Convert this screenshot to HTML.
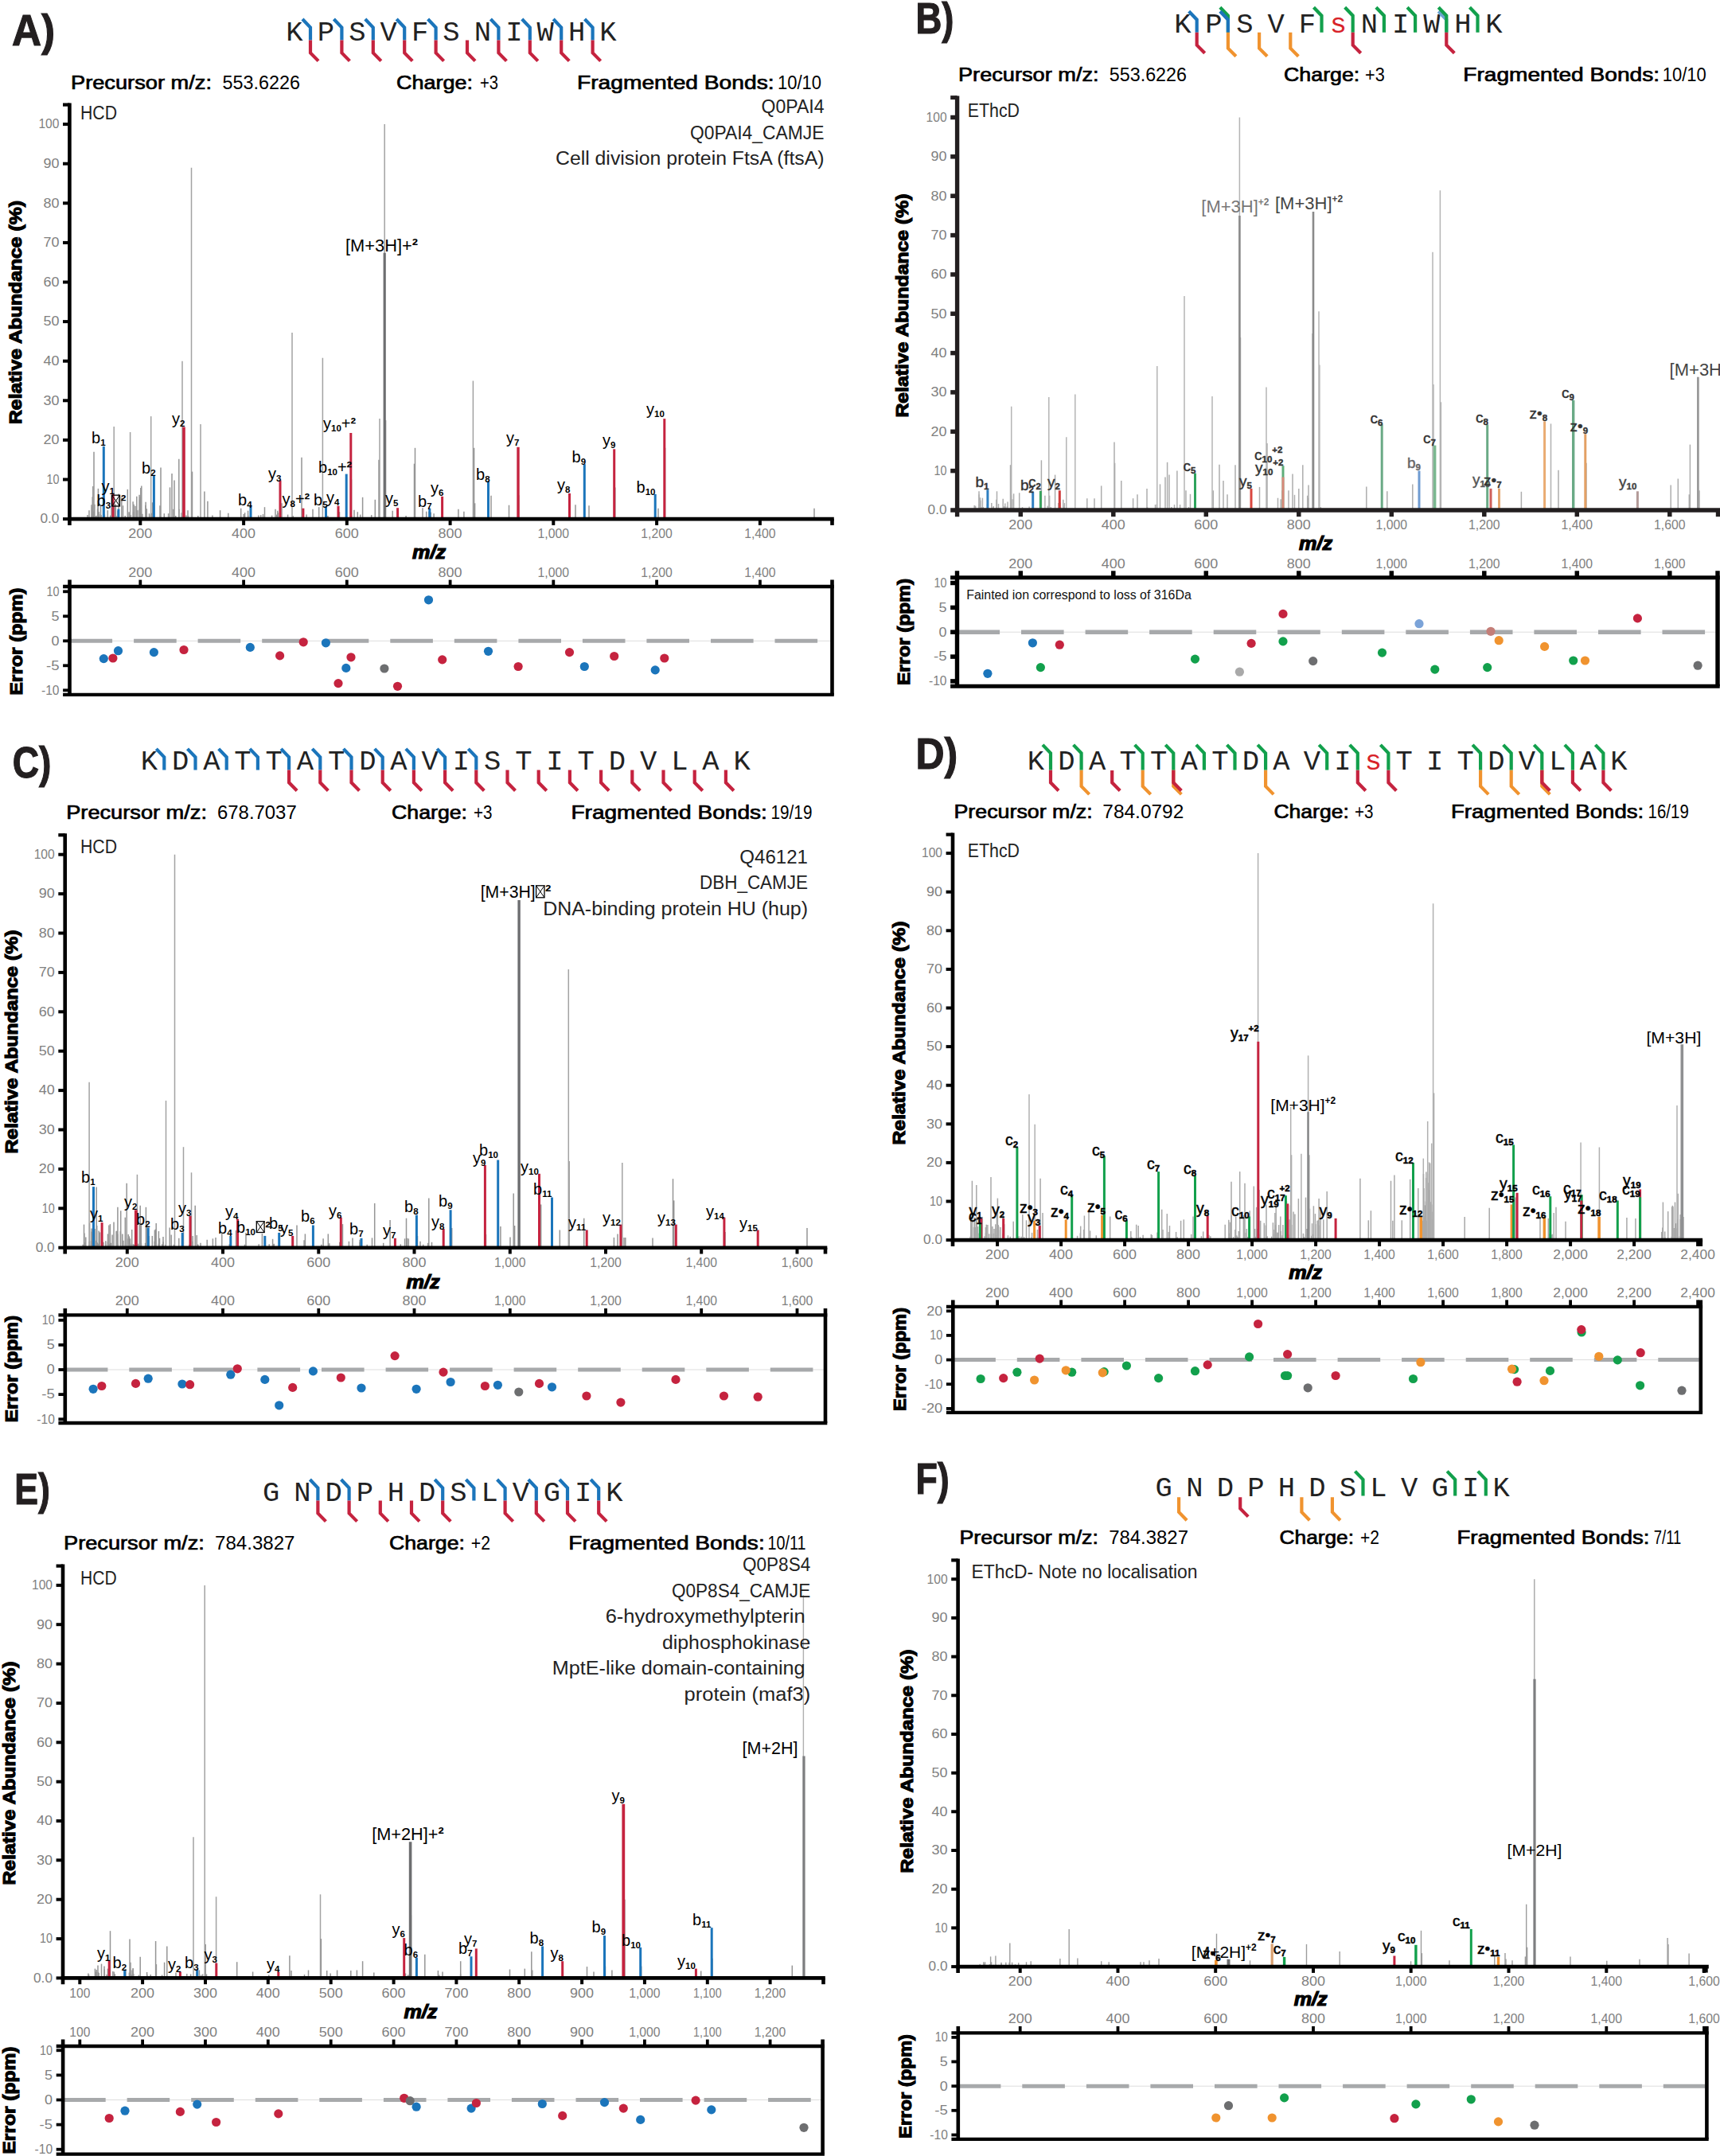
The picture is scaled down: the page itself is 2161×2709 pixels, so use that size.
<!DOCTYPE html><html><head><meta charset="utf-8"><title>Spectra</title><style>html,body{margin:0;padding:0;background:#fff}svg{display:block}text{font-family:"Liberation Sans",sans-serif}.mono{font-family:"Liberation Mono",monospace}</style></head><body><svg width="2161" height="2709" viewBox="0 0 2161 2709"><rect width="2161" height="2709" fill="#fff"/><text x="15" y="56.5" font-size="55" fill="#231f20" font-weight="bold" textLength="54" lengthAdjust="spacingAndGlyphs" stroke="#231f20" stroke-width="1.2">A)</text>
<text class="mono" x="370 409.4 448.8 488.2 527.6 567 606.4 645.8 685.2 724.6 764" y="50.5" font-size="35.5" fill="#222" text-anchor="middle">KPSVFSNIWHK</text>
<polyline points="380,24 390,34.5 390,50.6" fill="none" stroke="#1b75bb" stroke-width="4.2" stroke-linejoin="miter"/>
<polyline points="390,50.6 390,66.4 400,76.6" fill="none" stroke="#c5233f" stroke-width="4.2" stroke-linejoin="miter"/>
<polyline points="419.4,24 429.4,34.5 429.4,50.6" fill="none" stroke="#1b75bb" stroke-width="4.2" stroke-linejoin="miter"/>
<polyline points="429.4,50.6 429.4,66.4 439.4,76.6" fill="none" stroke="#c5233f" stroke-width="4.2" stroke-linejoin="miter"/>
<polyline points="458.8,24 468.8,34.5 468.8,50.6" fill="none" stroke="#1b75bb" stroke-width="4.2" stroke-linejoin="miter"/>
<polyline points="468.8,50.6 468.8,66.4 478.8,76.6" fill="none" stroke="#c5233f" stroke-width="4.2" stroke-linejoin="miter"/>
<polyline points="498.2,24 508.2,34.5 508.2,50.6" fill="none" stroke="#1b75bb" stroke-width="4.2" stroke-linejoin="miter"/>
<polyline points="508.2,50.6 508.2,66.4 518.2,76.6" fill="none" stroke="#c5233f" stroke-width="4.2" stroke-linejoin="miter"/>
<polyline points="537.6,24 547.6,34.5 547.6,50.6" fill="none" stroke="#1b75bb" stroke-width="4.2" stroke-linejoin="miter"/>
<polyline points="547.6,50.6 547.6,66.4 557.6,76.6" fill="none" stroke="#c5233f" stroke-width="4.2" stroke-linejoin="miter"/>
<polyline points="587,50.6 587,66.4 597,76.6" fill="none" stroke="#c5233f" stroke-width="4.2" stroke-linejoin="miter"/>
<polyline points="616.4,24 626.4,34.5 626.4,50.6" fill="none" stroke="#1b75bb" stroke-width="4.2" stroke-linejoin="miter"/>
<polyline points="626.4,50.6 626.4,66.4 636.4,76.6" fill="none" stroke="#c5233f" stroke-width="4.2" stroke-linejoin="miter"/>
<polyline points="655.8,24 665.8,34.5 665.8,50.6" fill="none" stroke="#1b75bb" stroke-width="4.2" stroke-linejoin="miter"/>
<polyline points="665.8,50.6 665.8,66.4 675.8,76.6" fill="none" stroke="#c5233f" stroke-width="4.2" stroke-linejoin="miter"/>
<polyline points="695.2,24 705.2,34.5 705.2,50.6" fill="none" stroke="#1b75bb" stroke-width="4.2" stroke-linejoin="miter"/>
<polyline points="705.2,50.6 705.2,66.4 715.2,76.6" fill="none" stroke="#c5233f" stroke-width="4.2" stroke-linejoin="miter"/>
<polyline points="734.6,24 744.6,34.5 744.6,50.6" fill="none" stroke="#1b75bb" stroke-width="4.2" stroke-linejoin="miter"/>
<polyline points="744.6,50.6 744.6,66.4 754.6,76.6" fill="none" stroke="#c5233f" stroke-width="4.2" stroke-linejoin="miter"/>
<text x="89" y="111.5" font-size="23.5" fill="#000" textLength="177" lengthAdjust="spacingAndGlyphs" stroke="#000" stroke-width="0.7">Precursor m/z:</text>
<text x="279.5" y="111.5" font-size="23.5" fill="#000" textLength="97.5" lengthAdjust="spacingAndGlyphs">553.6226</text>
<text x="498" y="111.5" font-size="23.5" fill="#000" textLength="96" lengthAdjust="spacingAndGlyphs" stroke="#000" stroke-width="0.7">Charge:</text>
<text x="603" y="111.5" font-size="23.5" fill="#000" textLength="23" lengthAdjust="spacingAndGlyphs">+3</text>
<text x="725" y="111.5" font-size="23.5" fill="#000" textLength="247.6" lengthAdjust="spacingAndGlyphs" stroke="#000" stroke-width="0.7">Fragmented Bonds:</text>
<text x="977" y="111.5" font-size="23.5" fill="#000" textLength="55" lengthAdjust="spacingAndGlyphs">10/10</text>
<text x="956.5" y="142" font-size="23" fill="#222" textLength="79" lengthAdjust="spacingAndGlyphs">Q0PAI4</text>
<text x="867" y="175" font-size="23" fill="#222" textLength="168.5" lengthAdjust="spacingAndGlyphs">Q0PAI4_CAMJE</text>
<text x="698" y="207" font-size="23" fill="#222" textLength="337.5" lengthAdjust="spacingAndGlyphs">Cell division protein FtsA (ftsA)</text>
<text x="101" y="150" font-size="23" fill="#222" textLength="46" lengthAdjust="spacingAndGlyphs">HCD</text>
<line x1="140.8" y1="651.1" x2="140.8" y2="637.7" stroke="#959595" stroke-width="1.5"/>
<line x1="172.8" y1="651.1" x2="172.8" y2="641.2" stroke="#959595" stroke-width="1.5"/>
<line x1="144.5" y1="651.1" x2="144.5" y2="636.2" stroke="#959595" stroke-width="1.5"/>
<line x1="122.6" y1="651.1" x2="122.6" y2="639.2" stroke="#959595" stroke-width="1.5"/>
<line x1="152.8" y1="651.1" x2="152.8" y2="625.3" stroke="#959595" stroke-width="1.5"/>
<line x1="116.4" y1="651.1" x2="116.4" y2="645.2" stroke="#959595" stroke-width="1.5"/>
<line x1="116.2" y1="651.1" x2="116.2" y2="624.3" stroke="#959595" stroke-width="1.5"/>
<line x1="157.2" y1="651.1" x2="157.2" y2="648.1" stroke="#959595" stroke-width="1.5"/>
<line x1="176.8" y1="651.1" x2="176.8" y2="612.9" stroke="#959595" stroke-width="1.5"/>
<line x1="154.5" y1="651.1" x2="154.5" y2="635.2" stroke="#959595" stroke-width="1.5"/>
<line x1="120.7" y1="651.1" x2="120.7" y2="648.1" stroke="#959595" stroke-width="1.5"/>
<line x1="145.9" y1="651.1" x2="145.9" y2="648.1" stroke="#959595" stroke-width="1.5"/>
<line x1="122.9" y1="651.1" x2="122.9" y2="646.6" stroke="#959595" stroke-width="1.5"/>
<line x1="112" y1="651.1" x2="112" y2="641.2" stroke="#959595" stroke-width="1.5"/>
<line x1="140" y1="651.1" x2="140" y2="621.8" stroke="#959595" stroke-width="1.5"/>
<line x1="145.3" y1="651.1" x2="145.3" y2="633.7" stroke="#959595" stroke-width="1.5"/>
<line x1="144" y1="651.1" x2="144" y2="632.8" stroke="#959595" stroke-width="1.5"/>
<line x1="141.1" y1="651.1" x2="141.1" y2="645.7" stroke="#959595" stroke-width="1.5"/>
<line x1="177.8" y1="651.1" x2="177.8" y2="610.4" stroke="#959595" stroke-width="1.5"/>
<line x1="167.1" y1="651.1" x2="167.1" y2="630.3" stroke="#959595" stroke-width="1.5"/>
<line x1="131.4" y1="651.1" x2="131.4" y2="646.6" stroke="#959595" stroke-width="1.5"/>
<line x1="129.7" y1="651.1" x2="129.7" y2="648.1" stroke="#959595" stroke-width="1.5"/>
<line x1="162.1" y1="651.1" x2="162.1" y2="643.2" stroke="#959595" stroke-width="1.5"/>
<line x1="167.6" y1="651.1" x2="167.6" y2="643.2" stroke="#959595" stroke-width="1.5"/>
<line x1="175.1" y1="651.1" x2="175.1" y2="621.8" stroke="#959595" stroke-width="1.5"/>
<line x1="110" y1="651.1" x2="110" y2="647.1" stroke="#959595" stroke-width="1.5"/>
<line x1="171.9" y1="651.1" x2="171.9" y2="640.7" stroke="#959595" stroke-width="1.5"/>
<line x1="176.7" y1="651.1" x2="176.7" y2="643.2" stroke="#959595" stroke-width="1.5"/>
<line x1="115" y1="651.1" x2="115" y2="634.2" stroke="#959595" stroke-width="1.5"/>
<line x1="162.9" y1="651.1" x2="162.9" y2="646.1" stroke="#959595" stroke-width="1.5"/>
<line x1="115.9" y1="651.1" x2="115.9" y2="644.7" stroke="#959595" stroke-width="1.5"/>
<line x1="175.6" y1="651.1" x2="175.6" y2="627.3" stroke="#959595" stroke-width="1.5"/>
<line x1="118" y1="651.1" x2="118" y2="646.1" stroke="#959595" stroke-width="1.5"/>
<line x1="116.9" y1="651.1" x2="116.9" y2="648.1" stroke="#959595" stroke-width="1.5"/>
<line x1="164.2" y1="651.1" x2="164.2" y2="647.1" stroke="#959595" stroke-width="1.5"/>
<line x1="148" y1="651.1" x2="148" y2="641.7" stroke="#959595" stroke-width="1.5"/>
<line x1="123" y1="651.1" x2="123" y2="628.8" stroke="#959595" stroke-width="1.5"/>
<line x1="118.9" y1="651.1" x2="118.9" y2="633.7" stroke="#959595" stroke-width="1.5"/>
<line x1="117.9" y1="651.1" x2="117.9" y2="642.7" stroke="#959595" stroke-width="1.5"/>
<line x1="124.5" y1="651.1" x2="124.5" y2="646.1" stroke="#959595" stroke-width="1.5"/>
<line x1="176" y1="651.1" x2="176" y2="624.3" stroke="#959595" stroke-width="1.5"/>
<line x1="130.7" y1="651.1" x2="130.7" y2="618.9" stroke="#959595" stroke-width="1.5"/>
<line x1="124.3" y1="651.1" x2="124.3" y2="643.2" stroke="#959595" stroke-width="1.5"/>
<line x1="168.1" y1="651.1" x2="168.1" y2="633.7" stroke="#959595" stroke-width="1.5"/>
<line x1="116.8" y1="651.1" x2="116.8" y2="610.9" stroke="#959595" stroke-width="1.5"/>
<line x1="124.5" y1="651.1" x2="124.5" y2="646.1" stroke="#959595" stroke-width="1.5"/>
<line x1="162.5" y1="651.1" x2="162.5" y2="644.7" stroke="#959595" stroke-width="1.5"/>
<line x1="130.2" y1="651.1" x2="130.2" y2="648.1" stroke="#959595" stroke-width="1.5"/>
<line x1="116.1" y1="651.1" x2="116.1" y2="636.7" stroke="#959595" stroke-width="1.5"/>
<line x1="126.5" y1="651.1" x2="126.5" y2="635.7" stroke="#959595" stroke-width="1.5"/>
<line x1="135.3" y1="651.1" x2="135.3" y2="641.2" stroke="#959595" stroke-width="1.5"/>
<line x1="175.2" y1="651.1" x2="175.2" y2="640.2" stroke="#959595" stroke-width="1.5"/>
<line x1="149.1" y1="651.1" x2="149.1" y2="620.4" stroke="#959595" stroke-width="1.5"/>
<line x1="122.4" y1="651.1" x2="122.4" y2="647.6" stroke="#959595" stroke-width="1.5"/>
<line x1="171.8" y1="651.1" x2="171.8" y2="623.8" stroke="#959595" stroke-width="1.5"/>
<line x1="127" y1="651.1" x2="127" y2="647.1" stroke="#959595" stroke-width="1.5"/>
<line x1="160.3" y1="651.1" x2="160.3" y2="614.9" stroke="#959595" stroke-width="1.5"/>
<line x1="123.4" y1="651.1" x2="123.4" y2="613.9" stroke="#959595" stroke-width="1.5"/>
<line x1="170" y1="651.1" x2="170" y2="635.7" stroke="#959595" stroke-width="1.5"/>
<line x1="138.7" y1="651.1" x2="138.7" y2="647.6" stroke="#959595" stroke-width="1.5"/>
<line x1="217.9" y1="651.1" x2="217.9" y2="639.7" stroke="#959595" stroke-width="1.5"/>
<line x1="234" y1="651.1" x2="234" y2="647.6" stroke="#959595" stroke-width="1.5"/>
<line x1="178.9" y1="651.1" x2="178.9" y2="645.7" stroke="#959595" stroke-width="1.5"/>
<line x1="201" y1="651.1" x2="201" y2="635.2" stroke="#959595" stroke-width="1.5"/>
<line x1="236" y1="651.1" x2="236" y2="641.2" stroke="#959595" stroke-width="1.5"/>
<line x1="224.9" y1="651.1" x2="224.9" y2="639.7" stroke="#959595" stroke-width="1.5"/>
<line x1="190.2" y1="651.1" x2="190.2" y2="644.7" stroke="#959595" stroke-width="1.5"/>
<line x1="191.6" y1="651.1" x2="191.6" y2="631.3" stroke="#959595" stroke-width="1.5"/>
<line x1="182.9" y1="651.1" x2="182.9" y2="634.7" stroke="#959595" stroke-width="1.5"/>
<line x1="184.3" y1="651.1" x2="184.3" y2="639.2" stroke="#959595" stroke-width="1.5"/>
<line x1="206.3" y1="651.1" x2="206.3" y2="645.2" stroke="#959595" stroke-width="1.5"/>
<line x1="248.8" y1="651.1" x2="248.8" y2="648.1" stroke="#959595" stroke-width="1.5"/>
<line x1="183.1" y1="651.1" x2="183.1" y2="630.8" stroke="#959595" stroke-width="1.5"/>
<line x1="220.7" y1="651.1" x2="220.7" y2="648.1" stroke="#959595" stroke-width="1.5"/>
<line x1="260.9" y1="651.1" x2="260.9" y2="629.8" stroke="#959595" stroke-width="1.5"/>
<line x1="187.5" y1="651.1" x2="187.5" y2="645.2" stroke="#959595" stroke-width="1.5"/>
<line x1="189.3" y1="651.1" x2="189.3" y2="646.6" stroke="#959595" stroke-width="1.5"/>
<line x1="230.2" y1="651.1" x2="230.2" y2="647.6" stroke="#959595" stroke-width="1.5"/>
<line x1="236.5" y1="651.1" x2="236.5" y2="648.1" stroke="#959595" stroke-width="1.5"/>
<line x1="192.4" y1="651.1" x2="192.4" y2="634.7" stroke="#959595" stroke-width="1.5"/>
<line x1="211.6" y1="651.1" x2="211.6" y2="645.2" stroke="#959595" stroke-width="1.5"/>
<line x1="228.1" y1="651.1" x2="228.1" y2="644.2" stroke="#959595" stroke-width="1.5"/>
<line x1="349.5" y1="651.1" x2="349.5" y2="644.2" stroke="#959595" stroke-width="1.5"/>
<line x1="493.2" y1="651.1" x2="493.2" y2="641.7" stroke="#959595" stroke-width="1.5"/>
<line x1="324.8" y1="651.1" x2="324.8" y2="647.6" stroke="#959595" stroke-width="1.5"/>
<line x1="311.7" y1="651.1" x2="311.7" y2="647.6" stroke="#959595" stroke-width="1.5"/>
<line x1="510.1" y1="651.1" x2="510.1" y2="648.1" stroke="#959595" stroke-width="1.5"/>
<line x1="441.6" y1="651.1" x2="441.6" y2="647.6" stroke="#959595" stroke-width="1.5"/>
<line x1="361.6" y1="651.1" x2="361.6" y2="646.6" stroke="#959595" stroke-width="1.5"/>
<line x1="545.1" y1="651.1" x2="545.1" y2="645.2" stroke="#959595" stroke-width="1.5"/>
<line x1="266.9" y1="651.1" x2="266.9" y2="647.6" stroke="#959595" stroke-width="1.5"/>
<line x1="311.6" y1="651.1" x2="311.6" y2="641.7" stroke="#959595" stroke-width="1.5"/>
<line x1="535.7" y1="651.1" x2="535.7" y2="642.7" stroke="#959595" stroke-width="1.5"/>
<line x1="541.3" y1="651.1" x2="541.3" y2="643.7" stroke="#959595" stroke-width="1.5"/>
<line x1="582.9" y1="651.1" x2="582.9" y2="642.7" stroke="#959595" stroke-width="1.5"/>
<line x1="348.8" y1="651.1" x2="348.8" y2="641.7" stroke="#959595" stroke-width="1.5"/>
<line x1="426.5" y1="651.1" x2="426.5" y2="643.2" stroke="#959595" stroke-width="1.5"/>
<line x1="452.7" y1="651.1" x2="452.7" y2="646.6" stroke="#959595" stroke-width="1.5"/>
<line x1="385.1" y1="651.1" x2="385.1" y2="646.6" stroke="#959595" stroke-width="1.5"/>
<line x1="368.1" y1="651.1" x2="368.1" y2="648.1" stroke="#959595" stroke-width="1.5"/>
<line x1="539" y1="651.1" x2="539" y2="642.7" stroke="#959595" stroke-width="1.5"/>
<line x1="595.2" y1="651.1" x2="595.2" y2="644.2" stroke="#959595" stroke-width="1.5"/>
<line x1="449.3" y1="651.1" x2="449.3" y2="643.2" stroke="#959595" stroke-width="1.5"/>
<line x1="307.6" y1="651.1" x2="307.6" y2="644.2" stroke="#959595" stroke-width="1.5"/>
<line x1="411.9" y1="651.1" x2="411.9" y2="648.1" stroke="#959595" stroke-width="1.5"/>
<line x1="330.5" y1="651.1" x2="330.5" y2="646.1" stroke="#959595" stroke-width="1.5"/>
<line x1="347.6" y1="651.1" x2="347.6" y2="646.6" stroke="#959595" stroke-width="1.5"/>
<line x1="466.7" y1="651.1" x2="466.7" y2="647.1" stroke="#959595" stroke-width="1.5"/>
<line x1="306.2" y1="651.1" x2="306.2" y2="646.1" stroke="#959595" stroke-width="1.5"/>
<line x1="341.6" y1="651.1" x2="341.6" y2="647.6" stroke="#959595" stroke-width="1.5"/>
<line x1="327.7" y1="651.1" x2="327.7" y2="647.1" stroke="#959595" stroke-width="1.5"/>
<line x1="286.8" y1="651.1" x2="286.8" y2="644.7" stroke="#959595" stroke-width="1.5"/>
<line x1="240.5" y1="651.1" x2="240.5" y2="210.7" stroke="#a2a2a2" stroke-width="1.5"/>
<line x1="229" y1="651.1" x2="229" y2="453.7" stroke="#a2a2a2" stroke-width="1.5"/>
<line x1="367" y1="651.1" x2="367" y2="418" stroke="#a2a2a2" stroke-width="1.5"/>
<line x1="405.4" y1="651.1" x2="405.4" y2="449.7" stroke="#a2a2a2" stroke-width="1.5"/>
<line x1="483.2" y1="651.1" x2="483.2" y2="156.1" stroke="#a2a2a2" stroke-width="1.5"/>
<line x1="594.4" y1="651.1" x2="594.4" y2="478.5" stroke="#a2a2a2" stroke-width="1.5"/>
<line x1="595.6" y1="651.1" x2="595.6" y2="562.8" stroke="#959595" stroke-width="1.5"/>
<line x1="189.7" y1="651.1" x2="189.7" y2="523.1" stroke="#a2a2a2" stroke-width="1.5"/>
<line x1="143.2" y1="651.1" x2="143.2" y2="536" stroke="#a2a2a2" stroke-width="1.5"/>
<line x1="163.6" y1="651.1" x2="163.6" y2="543" stroke="#a2a2a2" stroke-width="1.5"/>
<line x1="118" y1="651.1" x2="118" y2="567.8" stroke="#959595" stroke-width="1.5"/>
<line x1="252" y1="651.1" x2="252" y2="533.1" stroke="#a2a2a2" stroke-width="1.5"/>
<line x1="477" y1="651.1" x2="477" y2="526.1" stroke="#a2a2a2" stroke-width="1.5"/>
<line x1="521.5" y1="651.1" x2="521.5" y2="562.8" stroke="#959595" stroke-width="1.5"/>
<line x1="379" y1="651.1" x2="379" y2="574.7" stroke="#959595" stroke-width="1.5"/>
<line x1="224.8" y1="651.1" x2="224.8" y2="576.7" stroke="#959595" stroke-width="1.5"/>
<line x1="202" y1="651.1" x2="202" y2="587.6" stroke="#959595" stroke-width="1.5"/>
<line x1="216" y1="651.1" x2="216" y2="595.1" stroke="#959595" stroke-width="1.5"/>
<line x1="219" y1="651.1" x2="219" y2="603.5" stroke="#959595" stroke-width="1.5"/>
<line x1="241.5" y1="651.1" x2="241.5" y2="592.6" stroke="#959595" stroke-width="1.5"/>
<line x1="256.9" y1="651.1" x2="256.9" y2="617.4" stroke="#959595" stroke-width="1.5"/>
<line x1="213.5" y1="651.1" x2="213.5" y2="612.4" stroke="#959595" stroke-width="1.5"/>
<line x1="455.6" y1="651.1" x2="455.6" y2="624.8" stroke="#959595" stroke-width="1.5"/>
<line x1="471.3" y1="651.1" x2="471.3" y2="627.8" stroke="#959595" stroke-width="1.5"/>
<line x1="400.7" y1="651.1" x2="400.7" y2="637.2" stroke="#959595" stroke-width="1.5"/>
<line x1="393" y1="651.1" x2="393" y2="639.7" stroke="#959595" stroke-width="1.5"/>
<line x1="332.5" y1="651.1" x2="332.5" y2="637.2" stroke="#959595" stroke-width="1.5"/>
<line x1="346" y1="651.1" x2="346" y2="639.7" stroke="#959595" stroke-width="1.5"/>
<line x1="302.7" y1="651.1" x2="302.7" y2="638.7" stroke="#959595" stroke-width="1.5"/>
<line x1="276.6" y1="651.1" x2="276.6" y2="641.2" stroke="#959595" stroke-width="1.5"/>
<line x1="575.9" y1="651.1" x2="575.9" y2="639.7" stroke="#959595" stroke-width="1.5"/>
<line x1="445" y1="651.1" x2="445" y2="640.7" stroke="#959595" stroke-width="1.5"/>
<line x1="531" y1="651.1" x2="531" y2="638.2" stroke="#959595" stroke-width="1.5"/>
<line x1="476" y1="651.1" x2="476" y2="577.7" stroke="#959595" stroke-width="1.5"/>
<line x1="484.6" y1="651.1" x2="484.6" y2="528.1" stroke="#a2a2a2" stroke-width="1.5"/>
<line x1="520.5" y1="651.1" x2="520.5" y2="582.7" stroke="#959595" stroke-width="1.5"/>
<line x1="441.5" y1="651.1" x2="441.5" y2="602.5" stroke="#959595" stroke-width="1.5"/>
<line x1="354" y1="651.1" x2="354" y2="632.3" stroke="#959595" stroke-width="1.5"/>
<line x1="617" y1="651.1" x2="617" y2="622.8" stroke="#959595" stroke-width="1.5"/>
<line x1="639.5" y1="651.1" x2="639.5" y2="634.7" stroke="#959595" stroke-width="1.5"/>
<line x1="723" y1="651.1" x2="723" y2="634.2" stroke="#959595" stroke-width="1.5"/>
<line x1="740" y1="651.1" x2="740" y2="635.2" stroke="#959595" stroke-width="1.5"/>
<line x1="827" y1="651.1" x2="827" y2="638.7" stroke="#959595" stroke-width="1.5"/>
<line x1="1023" y1="651.1" x2="1023" y2="638.7" stroke="#959595" stroke-width="1.5"/>
<line x1="596.6" y1="651.1" x2="596.6" y2="632.3" stroke="#959595" stroke-width="1.5"/>
<line x1="772.8" y1="651.1" x2="772.8" y2="612.4" stroke="#959595" stroke-width="1.5"/>
<line x1="835.6" y1="651.1" x2="835.6" y2="562.8" stroke="#959595" stroke-width="1.5"/>
<line x1="651.8" y1="651.1" x2="651.8" y2="622.3" stroke="#959595" stroke-width="1.5"/>
<line x1="483.2" y1="651.1" x2="483.2" y2="317.8" stroke="#6d6e70" stroke-width="3.2"/>
<line x1="130.3" y1="651.1" x2="130.3" y2="560.8" stroke="#1b75bb" stroke-width="3"/>
<line x1="142" y1="651.1" x2="142" y2="620.9" stroke="#c5233f" stroke-width="3"/>
<line x1="148.9" y1="651.1" x2="148.9" y2="639.7" stroke="#1b75bb" stroke-width="3"/>
<line x1="193.4" y1="651.1" x2="193.4" y2="597.5" stroke="#1b75bb" stroke-width="3"/>
<line x1="231" y1="651.1" x2="231" y2="536.5" stroke="#c5233f" stroke-width="3.6"/>
<line x1="315" y1="651.1" x2="315" y2="635.7" stroke="#1b75bb" stroke-width="3"/>
<line x1="352" y1="651.1" x2="352" y2="603.5" stroke="#c5233f" stroke-width="3"/>
<line x1="380.9" y1="651.1" x2="380.9" y2="638.7" stroke="#c5233f" stroke-width="3"/>
<line x1="409.5" y1="651.1" x2="409.5" y2="636.2" stroke="#1b75bb" stroke-width="3"/>
<line x1="425" y1="651.1" x2="425" y2="635.7" stroke="#c5233f" stroke-width="3"/>
<line x1="435.2" y1="651.1" x2="435.2" y2="595.6" stroke="#1b75bb" stroke-width="3"/>
<line x1="440.8" y1="651.1" x2="440.8" y2="544" stroke="#c5233f" stroke-width="3"/>
<line x1="499.6" y1="651.1" x2="499.6" y2="638.2" stroke="#c5233f" stroke-width="3"/>
<line x1="539.8" y1="651.1" x2="539.8" y2="638.7" stroke="#1b75bb" stroke-width="3"/>
<line x1="555.6" y1="651.1" x2="555.6" y2="623.8" stroke="#c5233f" stroke-width="3"/>
<line x1="613.5" y1="651.1" x2="613.5" y2="604.5" stroke="#1b75bb" stroke-width="3"/>
<line x1="651" y1="651.1" x2="651" y2="561.8" stroke="#c5233f" stroke-width="3.4"/>
<line x1="715.5" y1="651.1" x2="715.5" y2="619.9" stroke="#c5233f" stroke-width="3"/>
<line x1="734.3" y1="651.1" x2="734.3" y2="583.2" stroke="#1b75bb" stroke-width="3"/>
<line x1="771.7" y1="651.1" x2="771.7" y2="564.3" stroke="#c5233f" stroke-width="3"/>
<line x1="823.2" y1="651.1" x2="823.2" y2="620.9" stroke="#1b75bb" stroke-width="3"/>
<line x1="834.8" y1="651.1" x2="834.8" y2="526.1" stroke="#c5233f" stroke-width="3"/>
<line x1="79" y1="652.1" x2="87.4" y2="652.1" stroke="#000" stroke-width="4"/>
<text x="74.4" y="657.4" font-size="16.5" fill="#808080" text-anchor="end" textLength="24" lengthAdjust="spacingAndGlyphs">0.0</text>
<line x1="79" y1="602.5" x2="87.4" y2="602.5" stroke="#000" stroke-width="4"/>
<text x="74.4" y="607.8" font-size="16.5" fill="#808080" text-anchor="end" textLength="16" lengthAdjust="spacingAndGlyphs">10</text>
<line x1="79" y1="552.9" x2="87.4" y2="552.9" stroke="#000" stroke-width="4"/>
<text x="74.4" y="558.2" font-size="16.5" fill="#808080" text-anchor="end" textLength="20" lengthAdjust="spacingAndGlyphs">20</text>
<line x1="79" y1="503.3" x2="87.4" y2="503.3" stroke="#000" stroke-width="4"/>
<text x="74.4" y="508.6" font-size="16.5" fill="#808080" text-anchor="end" textLength="20" lengthAdjust="spacingAndGlyphs">30</text>
<line x1="79" y1="453.7" x2="87.4" y2="453.7" stroke="#000" stroke-width="4"/>
<text x="74.4" y="459" font-size="16.5" fill="#808080" text-anchor="end" textLength="20" lengthAdjust="spacingAndGlyphs">40</text>
<line x1="79" y1="404.1" x2="87.4" y2="404.1" stroke="#000" stroke-width="4"/>
<text x="74.4" y="409.4" font-size="16.5" fill="#808080" text-anchor="end" textLength="20" lengthAdjust="spacingAndGlyphs">50</text>
<line x1="79" y1="354.5" x2="87.4" y2="354.5" stroke="#000" stroke-width="4"/>
<text x="74.4" y="359.8" font-size="16.5" fill="#808080" text-anchor="end" textLength="20" lengthAdjust="spacingAndGlyphs">60</text>
<line x1="79" y1="304.9" x2="87.4" y2="304.9" stroke="#000" stroke-width="4"/>
<text x="74.4" y="310.2" font-size="16.5" fill="#808080" text-anchor="end" textLength="20" lengthAdjust="spacingAndGlyphs">70</text>
<line x1="79" y1="255.3" x2="87.4" y2="255.3" stroke="#000" stroke-width="4"/>
<text x="74.4" y="260.6" font-size="16.5" fill="#808080" text-anchor="end" textLength="20" lengthAdjust="spacingAndGlyphs">80</text>
<line x1="79" y1="205.7" x2="87.4" y2="205.7" stroke="#000" stroke-width="4"/>
<text x="74.4" y="211" font-size="16.5" fill="#808080" text-anchor="end" textLength="20" lengthAdjust="spacingAndGlyphs">90</text>
<line x1="79" y1="156.1" x2="87.4" y2="156.1" stroke="#000" stroke-width="4"/>
<text x="74.4" y="161.4" font-size="16.5" fill="#808080" text-anchor="end" textLength="26" lengthAdjust="spacingAndGlyphs">100</text>
<line x1="79" y1="131.6" x2="87.4" y2="131.6" stroke="#000" stroke-width="4.2"/>
<line x1="87.4" y1="129.6" x2="87.4" y2="659.9" stroke="#000" stroke-width="4.6"/>
<line x1="85.1" y1="652.1" x2="1047.8" y2="652.1" stroke="#000" stroke-width="4.6"/>
<line x1="1045.5" y1="652.1" x2="1045.5" y2="659.9" stroke="#000" stroke-width="4.6"/>
<line x1="176.3" y1="652.1" x2="176.3" y2="659.9" stroke="#000" stroke-width="4"/>
<text x="176.3" y="676.4" font-size="16.5" fill="#808080" text-anchor="middle" textLength="30" lengthAdjust="spacingAndGlyphs">200</text>
<line x1="306.1" y1="652.1" x2="306.1" y2="659.9" stroke="#000" stroke-width="4"/>
<text x="306.1" y="676.4" font-size="16.5" fill="#808080" text-anchor="middle" textLength="30" lengthAdjust="spacingAndGlyphs">400</text>
<line x1="435.8" y1="652.1" x2="435.8" y2="659.9" stroke="#000" stroke-width="4"/>
<text x="435.8" y="676.4" font-size="16.5" fill="#808080" text-anchor="middle" textLength="30" lengthAdjust="spacingAndGlyphs">600</text>
<line x1="565.6" y1="652.1" x2="565.6" y2="659.9" stroke="#000" stroke-width="4"/>
<text x="565.6" y="676.4" font-size="16.5" fill="#808080" text-anchor="middle" textLength="30" lengthAdjust="spacingAndGlyphs">800</text>
<line x1="695.3" y1="652.1" x2="695.3" y2="659.9" stroke="#000" stroke-width="4"/>
<text x="695.3" y="676.4" font-size="16.5" fill="#808080" text-anchor="middle" textLength="39.5" lengthAdjust="spacingAndGlyphs">1,000</text>
<line x1="825.1" y1="652.1" x2="825.1" y2="659.9" stroke="#000" stroke-width="4"/>
<text x="825.1" y="676.4" font-size="16.5" fill="#808080" text-anchor="middle" textLength="39.5" lengthAdjust="spacingAndGlyphs">1,200</text>
<line x1="954.9" y1="652.1" x2="954.9" y2="659.9" stroke="#000" stroke-width="4"/>
<text x="954.9" y="676.4" font-size="16.5" fill="#808080" text-anchor="middle" textLength="39.5" lengthAdjust="spacingAndGlyphs">1,400</text>
<text transform="translate(27 392.5) rotate(-90)" font-size="21.6" font-weight="bold" text-anchor="middle" textLength="281" lengthAdjust="spacingAndGlyphs" stroke="#000" stroke-width="1.1" fill="#000">Relative Abundance (%)</text>
<text x="518" y="702.4" font-size="24" font-weight="bold" font-style="italic" textLength="42" lengthAdjust="spacingAndGlyphs" stroke="#000" stroke-width="1.2">m/z</text>
<text x="115" y="556.5" font-size="20" fill="#000">b<tspan font-size="11.5" font-weight="bold" dy="3">1</tspan></text>
<text x="127.5" y="617.5" font-size="20" fill="#000">y<tspan font-size="11.5" font-weight="bold" dy="3">1</tspan></text>
<text x="121.5" y="636.3" font-size="20" fill="#000">b<tspan font-size="11.5" font-weight="bold" dy="3">3</tspan></text>
<rect x="140.7" y="622.2" width="9.8" height="13.8" fill="none" stroke="#000" stroke-width="1.3"/>
<line x1="140.7" y1="622.2" x2="150.5" y2="636" stroke="#000" stroke-width="1"/>
<line x1="150.5" y1="622.2" x2="140.7" y2="636" stroke="#000" stroke-width="1"/>
<text x="151.7" y="636.3" font-size="20" fill="#000" font-weight="bold">²</text>
<text x="178" y="594.5" font-size="20" fill="#000">b<tspan font-size="11.5" font-weight="bold" dy="3">2</tspan></text>
<text x="216" y="532.5" font-size="20" fill="#000">y<tspan font-size="11.5" font-weight="bold" dy="3">2</tspan></text>
<text x="299" y="635" font-size="20" fill="#000">b<tspan font-size="11.5" font-weight="bold" dy="3">4</tspan></text>
<text x="337" y="601.5" font-size="20" fill="#000">y<tspan font-size="11.5" font-weight="bold" dy="3">3</tspan></text>
<text x="354.5" y="633.5" font-size="20" fill="#000">y<tspan font-size="11.5" font-weight="bold" dy="3">8</tspan><tspan dy="-3">+<tspan font-weight="bold">²</tspan></tspan></text>
<text x="394" y="634.5" font-size="20" fill="#000">b<tspan font-size="11.5" font-weight="bold" dy="3">5</tspan></text>
<text x="410" y="631.5" font-size="20" fill="#000">y<tspan font-size="11.5" font-weight="bold" dy="3">4</tspan></text>
<text x="400" y="593.5" font-size="20" fill="#000">b<tspan font-size="11.5" font-weight="bold" dy="3">10</tspan><tspan dy="-3">+<tspan font-weight="bold">²</tspan></tspan></text>
<text x="406" y="538.5" font-size="20" fill="#000">y<tspan font-size="11.5" font-weight="bold" dy="3">10</tspan><tspan dy="-3">+<tspan font-weight="bold">²</tspan></tspan></text>
<text x="484" y="632.5" font-size="20" fill="#000">y<tspan font-size="11.5" font-weight="bold" dy="3">5</tspan></text>
<text x="525" y="636.5" font-size="20" fill="#000">b<tspan font-size="11.5" font-weight="bold" dy="3">7</tspan></text>
<text x="541" y="619.5" font-size="20" fill="#000">y<tspan font-size="11.5" font-weight="bold" dy="3">6</tspan></text>
<text x="598" y="602.5" font-size="20" fill="#000">b<tspan font-size="11.5" font-weight="bold" dy="3">8</tspan></text>
<text x="636" y="556.5" font-size="20" fill="#000">y<tspan font-size="11.5" font-weight="bold" dy="3">7</tspan></text>
<text x="700" y="615.5" font-size="20" fill="#000">y<tspan font-size="11.5" font-weight="bold" dy="3">8</tspan></text>
<text x="718.5" y="580.5" font-size="20" fill="#000">b<tspan font-size="11.5" font-weight="bold" dy="3">9</tspan></text>
<text x="757" y="559.5" font-size="20" fill="#000">y<tspan font-size="11.5" font-weight="bold" dy="3">9</tspan></text>
<text x="799.5" y="618.5" font-size="20" fill="#000">b<tspan font-size="11.5" font-weight="bold" dy="3">10</tspan></text>
<text x="812" y="520.5" font-size="20" fill="#000">y<tspan font-size="11.5" font-weight="bold" dy="3">10</tspan></text>
<text x="434" y="315.5" font-size="22" fill="#000" textLength="91" lengthAdjust="spacingAndGlyphs">[M+3H]+<tspan font-weight="bold">²</tspan></text>
<line x1="87.5" y1="805.3" x2="1045.5" y2="805.3" stroke="#dddddd" stroke-width="1"/>
<line x1="87.5" y1="805.3" x2="141.1" y2="805.3" stroke="#a7a9ab" stroke-width="5"/>
<line x1="168.1" y1="805.3" x2="221.7" y2="805.3" stroke="#a7a9ab" stroke-width="5"/>
<line x1="248.6" y1="805.3" x2="302.2" y2="805.3" stroke="#a7a9ab" stroke-width="5"/>
<line x1="329.2" y1="805.3" x2="382.8" y2="805.3" stroke="#a7a9ab" stroke-width="5"/>
<line x1="409.7" y1="805.3" x2="463.3" y2="805.3" stroke="#a7a9ab" stroke-width="5"/>
<line x1="490.3" y1="805.3" x2="543.9" y2="805.3" stroke="#a7a9ab" stroke-width="5"/>
<line x1="570.8" y1="805.3" x2="624.4" y2="805.3" stroke="#a7a9ab" stroke-width="5"/>
<line x1="651.4" y1="805.3" x2="705" y2="805.3" stroke="#a7a9ab" stroke-width="5"/>
<line x1="731.9" y1="805.3" x2="785.5" y2="805.3" stroke="#a7a9ab" stroke-width="5"/>
<line x1="812.4" y1="805.3" x2="866" y2="805.3" stroke="#a7a9ab" stroke-width="5"/>
<line x1="893" y1="805.3" x2="946.6" y2="805.3" stroke="#a7a9ab" stroke-width="5"/>
<line x1="973.5" y1="805.3" x2="1027.1" y2="805.3" stroke="#a7a9ab" stroke-width="5"/>
<circle cx="130.3" cy="827.6" r="5.6" fill="#1b75bb"/>
<circle cx="141.9" cy="827" r="5.6" fill="#c5233f"/>
<circle cx="148.5" cy="817.7" r="5.6" fill="#1b75bb"/>
<circle cx="193.4" cy="819.6" r="5.6" fill="#1b75bb"/>
<circle cx="231" cy="816.5" r="5.6" fill="#c5233f"/>
<circle cx="314.3" cy="813.4" r="5.6" fill="#1b75bb"/>
<circle cx="351.6" cy="823.9" r="5.6" fill="#c5233f"/>
<circle cx="381.2" cy="806.8" r="5.6" fill="#c5233f"/>
<circle cx="409.4" cy="807.8" r="5.6" fill="#1b75bb"/>
<circle cx="425" cy="858.6" r="5.6" fill="#c5233f"/>
<circle cx="434.8" cy="839.4" r="5.6" fill="#1b75bb"/>
<circle cx="441" cy="825.8" r="5.6" fill="#c5233f"/>
<circle cx="482.9" cy="840" r="5.6" fill="#6d6e70"/>
<circle cx="499.5" cy="862.3" r="5.6" fill="#c5233f"/>
<circle cx="538.5" cy="753.8" r="5.6" fill="#1b75bb"/>
<circle cx="555.7" cy="828.9" r="5.6" fill="#c5233f"/>
<circle cx="613.5" cy="818.3" r="5.6" fill="#1b75bb"/>
<circle cx="651.1" cy="837.5" r="5.6" fill="#c5233f"/>
<circle cx="715.5" cy="819.6" r="5.6" fill="#c5233f"/>
<circle cx="734.3" cy="837.5" r="5.6" fill="#1b75bb"/>
<circle cx="771.7" cy="824.5" r="5.6" fill="#c5233f"/>
<circle cx="823.2" cy="841.9" r="5.6" fill="#1b75bb"/>
<circle cx="834.8" cy="827" r="5.6" fill="#c5233f"/>
<line x1="79.1" y1="737" x2="1047.8" y2="737" stroke="#000" stroke-width="4.3"/>
<line x1="79.1" y1="872.9" x2="1047.8" y2="872.9" stroke="#000" stroke-width="4.3"/>
<line x1="87.5" y1="728.6" x2="87.5" y2="872.9" stroke="#000" stroke-width="4.6"/>
<line x1="1045.5" y1="728.6" x2="1045.5" y2="872.9" stroke="#000" stroke-width="4.6"/>
<line x1="79.1" y1="743.3" x2="87.5" y2="743.3" stroke="#000" stroke-width="3.8"/>
<text x="74.5" y="748.6" font-size="16.5" fill="#808080" text-anchor="end" textLength="16" lengthAdjust="spacingAndGlyphs">10</text>
<line x1="79.1" y1="774.3" x2="87.5" y2="774.3" stroke="#000" stroke-width="3.8"/>
<text x="74.5" y="779.6" font-size="16.5" fill="#808080" text-anchor="end" textLength="10" lengthAdjust="spacingAndGlyphs">5</text>
<line x1="79.1" y1="805.3" x2="87.5" y2="805.3" stroke="#000" stroke-width="3.8"/>
<text x="74.5" y="810.6" font-size="16.5" fill="#808080" text-anchor="end" textLength="10" lengthAdjust="spacingAndGlyphs">0</text>
<line x1="79.1" y1="836.3" x2="87.5" y2="836.3" stroke="#000" stroke-width="3.8"/>
<text x="74.5" y="841.6" font-size="16.5" fill="#808080" text-anchor="end" textLength="16.5" lengthAdjust="spacingAndGlyphs">-5</text>
<line x1="79.1" y1="867.3" x2="87.5" y2="867.3" stroke="#000" stroke-width="3.8"/>
<text x="74.5" y="872.6" font-size="16.5" fill="#808080" text-anchor="end" textLength="22.5" lengthAdjust="spacingAndGlyphs">-10</text>
<line x1="176.3" y1="728.6" x2="176.3" y2="737" stroke="#000" stroke-width="3.8"/>
<text x="176.3" y="724.9" font-size="16.5" fill="#808080" text-anchor="middle" textLength="30" lengthAdjust="spacingAndGlyphs">200</text>
<line x1="306.1" y1="728.6" x2="306.1" y2="737" stroke="#000" stroke-width="3.8"/>
<text x="306.1" y="724.9" font-size="16.5" fill="#808080" text-anchor="middle" textLength="30" lengthAdjust="spacingAndGlyphs">400</text>
<line x1="435.8" y1="728.6" x2="435.8" y2="737" stroke="#000" stroke-width="3.8"/>
<text x="435.8" y="724.9" font-size="16.5" fill="#808080" text-anchor="middle" textLength="30" lengthAdjust="spacingAndGlyphs">600</text>
<line x1="565.6" y1="728.6" x2="565.6" y2="737" stroke="#000" stroke-width="3.8"/>
<text x="565.6" y="724.9" font-size="16.5" fill="#808080" text-anchor="middle" textLength="30" lengthAdjust="spacingAndGlyphs">800</text>
<line x1="695.3" y1="728.6" x2="695.3" y2="737" stroke="#000" stroke-width="3.8"/>
<text x="695.3" y="724.9" font-size="16.5" fill="#808080" text-anchor="middle" textLength="39.5" lengthAdjust="spacingAndGlyphs">1,000</text>
<line x1="825.1" y1="728.6" x2="825.1" y2="737" stroke="#000" stroke-width="3.8"/>
<text x="825.1" y="724.9" font-size="16.5" fill="#808080" text-anchor="middle" textLength="39.5" lengthAdjust="spacingAndGlyphs">1,200</text>
<line x1="954.9" y1="728.6" x2="954.9" y2="737" stroke="#000" stroke-width="3.8"/>
<text x="954.9" y="724.9" font-size="16.5" fill="#808080" text-anchor="middle" textLength="39.5" lengthAdjust="spacingAndGlyphs">1,400</text>
<text transform="translate(28 806) rotate(-90)" font-size="21.6" font-weight="bold" text-anchor="middle" textLength="135" lengthAdjust="spacingAndGlyphs" stroke="#000" stroke-width="1.1" fill="#000">Error (ppm)</text>
<text x="1150.5" y="42.4" font-size="55" fill="#231f20" font-weight="bold" textLength="48" lengthAdjust="spacingAndGlyphs" stroke="#231f20" stroke-width="1.2">B)</text>
<text class="mono" x="1485.8 1524.9 1564 1603.2 1642.3 1681.4 1720.5 1759.6 1798.8 1837.9 1877" y="40.7" font-size="35.5" fill="#222" text-anchor="middle">KPSVF<tspan fill="#d8232a">s</tspan>NIWHK</text>
<polyline points="1493.7,14.2 1503.7,24.7 1503.7,40.8" fill="none" stroke="#1b75bb" stroke-width="4.2" stroke-linejoin="miter"/>
<polyline points="1503.7,40.8 1503.7,56.6 1513.7,66.8" fill="none" stroke="#c5233f" stroke-width="4.2" stroke-linejoin="miter"/>
<polyline points="1532.9,9.2 1542.9,19.7 1542.9,40.8" fill="none" stroke="#12a04c" stroke-width="4.2" stroke-linejoin="miter"/>
<polyline points="1532.9,14.2 1542.9,24.7 1542.9,40.8" fill="none" stroke="#1b75bb" stroke-width="4.2" stroke-linejoin="miter"/>
<polyline points="1542.9,40.8 1542.9,60.6 1552.9,70.8" fill="none" stroke="#f0932f" stroke-width="4.2" stroke-linejoin="miter"/>
<polyline points="1582.1,40.8 1582.1,60.6 1592.1,70.8" fill="none" stroke="#f0932f" stroke-width="4.2" stroke-linejoin="miter"/>
<polyline points="1621.3,40.8 1621.3,60.6 1631.3,70.8" fill="none" stroke="#f0932f" stroke-width="4.2" stroke-linejoin="miter"/>
<polyline points="1650.5,9.2 1660.5,19.7 1660.5,40.8" fill="none" stroke="#12a04c" stroke-width="4.2" stroke-linejoin="miter"/>
<polyline points="1689.7,9.2 1699.7,19.7 1699.7,40.8" fill="none" stroke="#12a04c" stroke-width="4.2" stroke-linejoin="miter"/>
<polyline points="1699.7,40.8 1699.7,56.6 1709.7,66.8" fill="none" stroke="#c5233f" stroke-width="4.2" stroke-linejoin="miter"/>
<polyline points="1728.9,9.2 1738.9,19.7 1738.9,40.8" fill="none" stroke="#12a04c" stroke-width="4.2" stroke-linejoin="miter"/>
<polyline points="1768.1,9.2 1778.1,19.7 1778.1,40.8" fill="none" stroke="#12a04c" stroke-width="4.2" stroke-linejoin="miter"/>
<polyline points="1807.3,14.2 1817.3,24.7 1817.3,40.8" fill="none" stroke="#6aa3cf" stroke-width="4.2" stroke-linejoin="miter"/>
<polyline points="1807.3,9.2 1817.3,19.7 1817.3,40.8" fill="none" stroke="#12a04c" stroke-width="4.2" stroke-linejoin="miter"/>
<polyline points="1817.3,40.8 1817.3,56.6 1827.3,66.8" fill="none" stroke="#c5233f" stroke-width="4.2" stroke-linejoin="miter"/>
<polyline points="1846.5,9.2 1856.5,19.7 1856.5,40.8" fill="none" stroke="#12a04c" stroke-width="4.2" stroke-linejoin="miter"/>
<text x="1204" y="102" font-size="23.5" fill="#000" textLength="176.6" lengthAdjust="spacingAndGlyphs" stroke="#000" stroke-width="0.7">Precursor m/z:</text>
<text x="1393.8" y="102" font-size="23.5" fill="#000" textLength="97.2" lengthAdjust="spacingAndGlyphs">553.6226</text>
<text x="1613" y="102" font-size="23.5" fill="#000" textLength="95.3" lengthAdjust="spacingAndGlyphs" stroke="#000" stroke-width="0.7">Charge:</text>
<text x="1715" y="102" font-size="23.5" fill="#000" textLength="24.7" lengthAdjust="spacingAndGlyphs">+3</text>
<text x="1838.3" y="102" font-size="23.5" fill="#000" textLength="246.7" lengthAdjust="spacingAndGlyphs" stroke="#000" stroke-width="0.7">Fragmented Bonds:</text>
<text x="2088.8" y="102" font-size="23.5" fill="#000" textLength="55" lengthAdjust="spacingAndGlyphs">10/10</text>
<text x="1215.8" y="147" font-size="23" fill="#222" textLength="65.2" lengthAdjust="spacingAndGlyphs">EThcD</text>
<line x1="1231.9" y1="640" x2="1231.9" y2="628.7" stroke="#adadad" stroke-width="1.5"/>
<line x1="1254.5" y1="640" x2="1254.5" y2="633.1" stroke="#adadad" stroke-width="1.5"/>
<line x1="1234.4" y1="640" x2="1234.4" y2="625.7" stroke="#adadad" stroke-width="1.5"/>
<line x1="1262.8" y1="640" x2="1262.8" y2="632.6" stroke="#adadad" stroke-width="1.5"/>
<line x1="1248.2" y1="640" x2="1248.2" y2="636.1" stroke="#adadad" stroke-width="1.5"/>
<line x1="1224.2" y1="640" x2="1224.2" y2="635.1" stroke="#adadad" stroke-width="1.5"/>
<line x1="1252.1" y1="640" x2="1252.1" y2="637.1" stroke="#adadad" stroke-width="1.5"/>
<line x1="1262.1" y1="640" x2="1262.1" y2="636.1" stroke="#adadad" stroke-width="1.5"/>
<line x1="1235.2" y1="640" x2="1235.2" y2="637.1" stroke="#adadad" stroke-width="1.5"/>
<line x1="1271.9" y1="640" x2="1271.9" y2="627.2" stroke="#adadad" stroke-width="1.5"/>
<line x1="1266" y1="640" x2="1266" y2="630.6" stroke="#adadad" stroke-width="1.5"/>
<line x1="1225.6" y1="640" x2="1225.6" y2="635.6" stroke="#adadad" stroke-width="1.5"/>
<line x1="1247.9" y1="640" x2="1247.9" y2="637.1" stroke="#adadad" stroke-width="1.5"/>
<line x1="1269.7" y1="640" x2="1269.7" y2="635.1" stroke="#adadad" stroke-width="1.5"/>
<line x1="1231.4" y1="640" x2="1231.4" y2="625.2" stroke="#adadad" stroke-width="1.5"/>
<line x1="1230" y1="640" x2="1230" y2="621.3" stroke="#adadad" stroke-width="1.5"/>
<line x1="1245.8" y1="640" x2="1245.8" y2="632.1" stroke="#adadad" stroke-width="1.5"/>
<line x1="1240.5" y1="640" x2="1240.5" y2="633.1" stroke="#adadad" stroke-width="1.5"/>
<line x1="1233" y1="640" x2="1233" y2="637.1" stroke="#adadad" stroke-width="1.5"/>
<line x1="1265.6" y1="640" x2="1265.6" y2="636.1" stroke="#adadad" stroke-width="1.5"/>
<line x1="1261.5" y1="640" x2="1261.5" y2="636.6" stroke="#adadad" stroke-width="1.5"/>
<line x1="1270.5" y1="640" x2="1270.5" y2="622.2" stroke="#adadad" stroke-width="1.5"/>
<line x1="1260.2" y1="640" x2="1260.2" y2="626.7" stroke="#adadad" stroke-width="1.5"/>
<line x1="1251.9" y1="640" x2="1251.9" y2="627.7" stroke="#adadad" stroke-width="1.5"/>
<line x1="1229.9" y1="640" x2="1229.9" y2="633.6" stroke="#adadad" stroke-width="1.5"/>
<line x1="1263.7" y1="640" x2="1263.7" y2="636.6" stroke="#adadad" stroke-width="1.5"/>
<line x1="1337.2" y1="640" x2="1337.2" y2="637.1" stroke="#adadad" stroke-width="1.5"/>
<line x1="1273.6" y1="640" x2="1273.6" y2="620.3" stroke="#adadad" stroke-width="1.5"/>
<line x1="1284.5" y1="640" x2="1284.5" y2="637.1" stroke="#adadad" stroke-width="1.5"/>
<line x1="1316.3" y1="640" x2="1316.3" y2="635.6" stroke="#adadad" stroke-width="1.5"/>
<line x1="1332.5" y1="640" x2="1332.5" y2="636.6" stroke="#adadad" stroke-width="1.5"/>
<line x1="1337.2" y1="640" x2="1337.2" y2="635.6" stroke="#adadad" stroke-width="1.5"/>
<line x1="1312.9" y1="640" x2="1312.9" y2="622.7" stroke="#adadad" stroke-width="1.5"/>
<line x1="1318.6" y1="640" x2="1318.6" y2="622.7" stroke="#adadad" stroke-width="1.5"/>
<line x1="1320.2" y1="640" x2="1320.2" y2="637.1" stroke="#adadad" stroke-width="1.5"/>
<line x1="1331.9" y1="640" x2="1331.9" y2="631.6" stroke="#adadad" stroke-width="1.5"/>
<line x1="1293.1" y1="640" x2="1293.1" y2="636.6" stroke="#adadad" stroke-width="1.5"/>
<line x1="1329.8" y1="640" x2="1329.8" y2="632.1" stroke="#adadad" stroke-width="1.5"/>
<line x1="1335.8" y1="640" x2="1335.8" y2="627.7" stroke="#adadad" stroke-width="1.5"/>
<line x1="1337.4" y1="640" x2="1337.4" y2="632.1" stroke="#adadad" stroke-width="1.5"/>
<line x1="1495.5" y1="640" x2="1495.5" y2="620.8" stroke="#adadad" stroke-width="1.5"/>
<line x1="1493.5" y1="640" x2="1493.5" y2="637.1" stroke="#adadad" stroke-width="1.5"/>
<line x1="1475.5" y1="640" x2="1475.5" y2="634.1" stroke="#adadad" stroke-width="1.5"/>
<line x1="1471.8" y1="640" x2="1471.8" y2="637.1" stroke="#adadad" stroke-width="1.5"/>
<line x1="1451.5" y1="640" x2="1451.5" y2="634.1" stroke="#adadad" stroke-width="1.5"/>
<line x1="1453.3" y1="640" x2="1453.3" y2="633.6" stroke="#adadad" stroke-width="1.5"/>
<line x1="1441.5" y1="640" x2="1441.5" y2="637.1" stroke="#adadad" stroke-width="1.5"/>
<line x1="1482.6" y1="640" x2="1482.6" y2="634.1" stroke="#adadad" stroke-width="1.5"/>
<line x1="1642.7" y1="640" x2="1642.7" y2="622.7" stroke="#adadad" stroke-width="1.5"/>
<line x1="1611" y1="640" x2="1611" y2="616.3" stroke="#adadad" stroke-width="1.5"/>
<line x1="1611.6" y1="640" x2="1611.6" y2="628.7" stroke="#adadad" stroke-width="1.5"/>
<line x1="1605.5" y1="640" x2="1605.5" y2="625.7" stroke="#adadad" stroke-width="1.5"/>
<line x1="1609.1" y1="640" x2="1609.1" y2="627.2" stroke="#adadad" stroke-width="1.5"/>
<line x1="1643.5" y1="640" x2="1643.5" y2="625.7" stroke="#adadad" stroke-width="1.5"/>
<line x1="1626.5" y1="640" x2="1626.5" y2="621.8" stroke="#adadad" stroke-width="1.5"/>
<line x1="1659.3" y1="640" x2="1659.3" y2="637.1" stroke="#adadad" stroke-width="1.5"/>
<line x1="1270.7" y1="640" x2="1270.7" y2="510.7" stroke="#b4b4b4" stroke-width="1.5"/>
<line x1="1317.8" y1="640" x2="1317.8" y2="498.9" stroke="#b4b4b4" stroke-width="1.5"/>
<line x1="1350.8" y1="640" x2="1350.8" y2="495.4" stroke="#b4b4b4" stroke-width="1.5"/>
<line x1="1339.8" y1="640" x2="1339.8" y2="549.2" stroke="#b4b4b4" stroke-width="1.5"/>
<line x1="1308.4" y1="640" x2="1308.4" y2="578.3" stroke="#adadad" stroke-width="1.5"/>
<line x1="1400" y1="640" x2="1400" y2="555.6" stroke="#adadad" stroke-width="1.5"/>
<line x1="1453.8" y1="640" x2="1453.8" y2="459.9" stroke="#b4b4b4" stroke-width="1.5"/>
<line x1="1488" y1="640" x2="1488" y2="372" stroke="#b4b4b4" stroke-width="1.5"/>
<line x1="1523" y1="640" x2="1523" y2="497.9" stroke="#b4b4b4" stroke-width="1.5"/>
<line x1="1557.4" y1="640" x2="1557.4" y2="147.5" stroke="#b4b4b4" stroke-width="1.5"/>
<line x1="1591" y1="640" x2="1591" y2="486.5" stroke="#b4b4b4" stroke-width="1.5"/>
<line x1="1657" y1="640" x2="1657" y2="391.3" stroke="#b4b4b4" stroke-width="1.5"/>
<line x1="1657.9" y1="640" x2="1657.9" y2="458.4" stroke="#b4b4b4" stroke-width="1.5"/>
<line x1="1466.6" y1="640" x2="1466.6" y2="580.8" stroke="#adadad" stroke-width="1.5"/>
<line x1="1469" y1="640" x2="1469" y2="596.6" stroke="#adadad" stroke-width="1.5"/>
<line x1="1464" y1="640" x2="1464" y2="599.5" stroke="#adadad" stroke-width="1.5"/>
<line x1="1478.9" y1="640" x2="1478.9" y2="591.6" stroke="#adadad" stroke-width="1.5"/>
<line x1="1532" y1="640" x2="1532" y2="583.8" stroke="#adadad" stroke-width="1.5"/>
<line x1="1537" y1="640" x2="1537" y2="604" stroke="#adadad" stroke-width="1.5"/>
<line x1="1552" y1="640" x2="1552" y2="584.2" stroke="#adadad" stroke-width="1.5"/>
<line x1="1636.8" y1="640" x2="1636.8" y2="584.2" stroke="#adadad" stroke-width="1.5"/>
<line x1="1624" y1="640" x2="1624" y2="595.6" stroke="#adadad" stroke-width="1.5"/>
<line x1="1408.8" y1="640" x2="1408.8" y2="604" stroke="#adadad" stroke-width="1.5"/>
<line x1="1383.7" y1="640" x2="1383.7" y2="610.4" stroke="#adadad" stroke-width="1.5"/>
<line x1="1230" y1="640" x2="1230" y2="617.3" stroke="#adadad" stroke-width="1.5"/>
<line x1="1252.5" y1="640" x2="1252.5" y2="617.3" stroke="#adadad" stroke-width="1.5"/>
<line x1="1325.6" y1="640" x2="1325.6" y2="596.6" stroke="#adadad" stroke-width="1.5"/>
<line x1="1457.5" y1="640" x2="1457.5" y2="608.4" stroke="#adadad" stroke-width="1.5"/>
<line x1="1441" y1="640" x2="1441" y2="613.9" stroke="#adadad" stroke-width="1.5"/>
<line x1="1429" y1="640" x2="1429" y2="621.3" stroke="#adadad" stroke-width="1.5"/>
<line x1="1423.6" y1="640" x2="1423.6" y2="626.2" stroke="#adadad" stroke-width="1.5"/>
<line x1="1365.8" y1="640" x2="1365.8" y2="626.2" stroke="#adadad" stroke-width="1.5"/>
<line x1="1375" y1="640" x2="1375" y2="626.2" stroke="#adadad" stroke-width="1.5"/>
<line x1="1542" y1="640" x2="1542" y2="621.3" stroke="#adadad" stroke-width="1.5"/>
<line x1="1619" y1="640" x2="1619" y2="616.3" stroke="#adadad" stroke-width="1.5"/>
<line x1="1631.8" y1="640" x2="1631.8" y2="613.9" stroke="#adadad" stroke-width="1.5"/>
<line x1="1644" y1="640" x2="1644" y2="609.4" stroke="#adadad" stroke-width="1.5"/>
<line x1="1280.7" y1="640" x2="1280.7" y2="619.3" stroke="#adadad" stroke-width="1.5"/>
<line x1="1582.5" y1="640" x2="1582.5" y2="611.9" stroke="#adadad" stroke-width="1.5"/>
<line x1="1269.5" y1="640" x2="1269.5" y2="584.2" stroke="#adadad" stroke-width="1.5"/>
<line x1="1592" y1="640" x2="1592" y2="557.1" stroke="#adadad" stroke-width="1.5"/>
<line x1="1400.6" y1="640" x2="1400.6" y2="581.8" stroke="#adadad" stroke-width="1.5"/>
<line x1="1490" y1="640" x2="1490" y2="616.3" stroke="#adadad" stroke-width="1.5"/>
<line x1="1524.3" y1="640" x2="1524.3" y2="616.3" stroke="#adadad" stroke-width="1.5"/>
<line x1="1558.5" y1="640" x2="1558.5" y2="423.9" stroke="#b4b4b4" stroke-width="1.5"/>
<line x1="1649" y1="640" x2="1649" y2="418.9" stroke="#b4b4b4" stroke-width="1.5"/>
<line x1="1716.8" y1="640" x2="1716.8" y2="611.4" stroke="#adadad" stroke-width="1.5"/>
<line x1="1742.8" y1="640" x2="1742.8" y2="617.3" stroke="#adadad" stroke-width="1.5"/>
<line x1="1774.8" y1="640" x2="1774.8" y2="608.4" stroke="#adadad" stroke-width="1.5"/>
<line x1="1800" y1="640" x2="1800" y2="316.8" stroke="#b4b4b4" stroke-width="1.5"/>
<line x1="1801" y1="640" x2="1801" y2="483.1" stroke="#b4b4b4" stroke-width="1.5"/>
<line x1="1809.4" y1="640" x2="1809.4" y2="239.3" stroke="#b4b4b4" stroke-width="1.5"/>
<line x1="1810.4" y1="640" x2="1810.4" y2="505.3" stroke="#b4b4b4" stroke-width="1.5"/>
<line x1="1911.4" y1="640" x2="1911.4" y2="617.8" stroke="#adadad" stroke-width="1.5"/>
<line x1="1948.5" y1="640" x2="1948.5" y2="532.4" stroke="#b4b4b4" stroke-width="1.6"/>
<line x1="1958" y1="640" x2="1958" y2="590.7" stroke="#adadad" stroke-width="1.5"/>
<line x1="2099.2" y1="640" x2="2099.2" y2="609.4" stroke="#adadad" stroke-width="1.5"/>
<line x1="2108.3" y1="640" x2="2108.3" y2="601.5" stroke="#adadad" stroke-width="1.5"/>
<line x1="2123.4" y1="640" x2="2123.4" y2="558.6" stroke="#adadad" stroke-width="1.5"/>
<line x1="2122.3" y1="640" x2="2122.3" y2="621.3" stroke="#adadad" stroke-width="1.5"/>
<line x1="1993" y1="640" x2="1993" y2="581.8" stroke="#adadad" stroke-width="1.5"/>
<line x1="2135" y1="640" x2="2135" y2="616.3" stroke="#adadad" stroke-width="1.5"/>
<line x1="1557.4" y1="640" x2="1557.4" y2="270.9" stroke="#8a8a8a" stroke-width="2.6"/>
<line x1="1650" y1="640" x2="1650" y2="265.9" stroke="#8a8a8a" stroke-width="2.6"/>
<line x1="2133.4" y1="640" x2="2133.4" y2="473.7" stroke="#9a9a9a" stroke-width="2.8"/>
<line x1="1240.9" y1="640" x2="1240.9" y2="615.3" stroke="#2f7fc1" stroke-width="3"/>
<line x1="1297.7" y1="640" x2="1297.7" y2="618.3" stroke="#2f7fc1" stroke-width="3"/>
<line x1="1307.4" y1="640" x2="1307.4" y2="616.8" stroke="#3aa35f" stroke-width="3"/>
<line x1="1331.3" y1="640" x2="1331.3" y2="616.3" stroke="#cf3a3a" stroke-width="3"/>
<line x1="1501.5" y1="640" x2="1501.5" y2="594.6" stroke="#2ea35c" stroke-width="3"/>
<line x1="1572" y1="640" x2="1572" y2="613.9" stroke="#d9473f" stroke-width="3"/>
<line x1="1612" y1="640" x2="1612" y2="585.2" stroke="#5fae7a" stroke-width="3"/>
<line x1="1612" y1="640" x2="1612" y2="599.5" stroke="#d98a7c" stroke-width="3"/>
<line x1="1736.2" y1="640" x2="1736.2" y2="533.4" stroke="#6aaa86" stroke-width="3"/>
<line x1="1783" y1="640" x2="1783" y2="591.6" stroke="#6f9bd1" stroke-width="3"/>
<line x1="1802.6" y1="640" x2="1802.6" y2="559.6" stroke="#7ab78f" stroke-width="3.6"/>
<line x1="1868.7" y1="640" x2="1868.7" y2="533.4" stroke="#6aaa86" stroke-width="3"/>
<line x1="1873" y1="640" x2="1873" y2="613.9" stroke="#cf5f5a" stroke-width="3"/>
<line x1="1883.5" y1="640" x2="1883.5" y2="613.9" stroke="#e3a46c" stroke-width="3"/>
<line x1="1940.6" y1="640" x2="1940.6" y2="529.5" stroke="#e9ab72" stroke-width="3"/>
<line x1="1976.7" y1="640" x2="1976.7" y2="502.8" stroke="#6aaa86" stroke-width="3.4"/>
<line x1="1991.8" y1="640" x2="1991.8" y2="545.3" stroke="#e3a064" stroke-width="3"/>
<line x1="2057.4" y1="640" x2="2057.4" y2="617.3" stroke="#b39a98" stroke-width="3"/>
<line x1="1194.2" y1="641" x2="1202.6" y2="641" stroke="#231f20" stroke-width="5.5"/>
<text x="1189.6" y="646.3" font-size="16.5" fill="#808080" text-anchor="end" textLength="24" lengthAdjust="spacingAndGlyphs">0.0</text>
<line x1="1194.2" y1="591.6" x2="1202.6" y2="591.6" stroke="#231f20" stroke-width="5.5"/>
<text x="1189.6" y="596.9" font-size="16.5" fill="#808080" text-anchor="end" textLength="16" lengthAdjust="spacingAndGlyphs">10</text>
<line x1="1194.2" y1="542.3" x2="1202.6" y2="542.3" stroke="#231f20" stroke-width="5.5"/>
<text x="1189.6" y="547.6" font-size="16.5" fill="#808080" text-anchor="end" textLength="20" lengthAdjust="spacingAndGlyphs">20</text>
<line x1="1194.2" y1="492.9" x2="1202.6" y2="492.9" stroke="#231f20" stroke-width="5.5"/>
<text x="1189.6" y="498.2" font-size="16.5" fill="#808080" text-anchor="end" textLength="20" lengthAdjust="spacingAndGlyphs">30</text>
<line x1="1194.2" y1="443.6" x2="1202.6" y2="443.6" stroke="#231f20" stroke-width="5.5"/>
<text x="1189.6" y="448.9" font-size="16.5" fill="#808080" text-anchor="end" textLength="20" lengthAdjust="spacingAndGlyphs">40</text>
<line x1="1194.2" y1="394.2" x2="1202.6" y2="394.2" stroke="#231f20" stroke-width="5.5"/>
<text x="1189.6" y="399.6" font-size="16.5" fill="#808080" text-anchor="end" textLength="20" lengthAdjust="spacingAndGlyphs">50</text>
<line x1="1194.2" y1="344.9" x2="1202.6" y2="344.9" stroke="#231f20" stroke-width="5.5"/>
<text x="1189.6" y="350.2" font-size="16.5" fill="#808080" text-anchor="end" textLength="20" lengthAdjust="spacingAndGlyphs">60</text>
<line x1="1194.2" y1="295.6" x2="1202.6" y2="295.6" stroke="#231f20" stroke-width="5.5"/>
<text x="1189.6" y="300.9" font-size="16.5" fill="#808080" text-anchor="end" textLength="20" lengthAdjust="spacingAndGlyphs">70</text>
<line x1="1194.2" y1="246.2" x2="1202.6" y2="246.2" stroke="#231f20" stroke-width="5.5"/>
<text x="1189.6" y="251.5" font-size="16.5" fill="#808080" text-anchor="end" textLength="20" lengthAdjust="spacingAndGlyphs">80</text>
<line x1="1194.2" y1="196.8" x2="1202.6" y2="196.8" stroke="#231f20" stroke-width="5.5"/>
<text x="1189.6" y="202.1" font-size="16.5" fill="#808080" text-anchor="end" textLength="20" lengthAdjust="spacingAndGlyphs">90</text>
<line x1="1194.2" y1="147.5" x2="1202.6" y2="147.5" stroke="#231f20" stroke-width="5.5"/>
<text x="1189.6" y="152.8" font-size="16.5" fill="#808080" text-anchor="end" textLength="26" lengthAdjust="spacingAndGlyphs">100</text>
<line x1="1194.2" y1="122.6" x2="1202.6" y2="122.6" stroke="#231f20" stroke-width="5"/>
<line x1="1202.6" y1="120.6" x2="1202.6" y2="649.2" stroke="#231f20" stroke-width="5.4"/>
<line x1="1199.9" y1="641" x2="2161.2" y2="641" stroke="#231f20" stroke-width="5.4"/>
<line x1="2158.5" y1="641" x2="2158.5" y2="649.2" stroke="#231f20" stroke-width="5.4"/>
<line x1="1282.3" y1="641" x2="1282.3" y2="649.2" stroke="#231f20" stroke-width="5.5"/>
<text x="1282.3" y="665.3" font-size="16.5" fill="#808080" text-anchor="middle" textLength="30" lengthAdjust="spacingAndGlyphs">200</text>
<line x1="1398.8" y1="641" x2="1398.8" y2="649.2" stroke="#231f20" stroke-width="5.5"/>
<text x="1398.8" y="665.3" font-size="16.5" fill="#808080" text-anchor="middle" textLength="30" lengthAdjust="spacingAndGlyphs">400</text>
<line x1="1515.3" y1="641" x2="1515.3" y2="649.2" stroke="#231f20" stroke-width="5.5"/>
<text x="1515.3" y="665.3" font-size="16.5" fill="#808080" text-anchor="middle" textLength="30" lengthAdjust="spacingAndGlyphs">600</text>
<line x1="1631.8" y1="641" x2="1631.8" y2="649.2" stroke="#231f20" stroke-width="5.5"/>
<text x="1631.8" y="665.3" font-size="16.5" fill="#808080" text-anchor="middle" textLength="30" lengthAdjust="spacingAndGlyphs">800</text>
<line x1="1748.3" y1="641" x2="1748.3" y2="649.2" stroke="#231f20" stroke-width="5.5"/>
<text x="1748.3" y="665.3" font-size="16.5" fill="#808080" text-anchor="middle" textLength="39.5" lengthAdjust="spacingAndGlyphs">1,000</text>
<line x1="1864.8" y1="641" x2="1864.8" y2="649.2" stroke="#231f20" stroke-width="5.5"/>
<text x="1864.8" y="665.3" font-size="16.5" fill="#808080" text-anchor="middle" textLength="39.5" lengthAdjust="spacingAndGlyphs">1,200</text>
<line x1="1981.3" y1="641" x2="1981.3" y2="649.2" stroke="#231f20" stroke-width="5.5"/>
<text x="1981.3" y="665.3" font-size="16.5" fill="#808080" text-anchor="middle" textLength="39.5" lengthAdjust="spacingAndGlyphs">1,400</text>
<line x1="2097.8" y1="641" x2="2097.8" y2="649.2" stroke="#231f20" stroke-width="5.5"/>
<text x="2097.8" y="665.3" font-size="16.5" fill="#808080" text-anchor="middle" textLength="39.5" lengthAdjust="spacingAndGlyphs">1,600</text>
<text transform="translate(1140.5 384) rotate(-90)" font-size="21.6" font-weight="bold" text-anchor="middle" textLength="281" lengthAdjust="spacingAndGlyphs" stroke="#000" stroke-width="1.1" fill="#000">Relative Abundance (%)</text>
<text x="1632" y="690.5" font-size="24" font-weight="bold" font-style="italic" textLength="42" lengthAdjust="spacingAndGlyphs" stroke="#000" stroke-width="1.2">m/z</text>
<text x="1225.5" y="611.5" font-size="19" fill="#333" stroke="#333" stroke-width="0.4">b<tspan font-size="11.5" font-weight="bold" dy="3">1</tspan></text>
<text x="1282" y="615.5" font-size="19" fill="#333" stroke="#333" stroke-width="0.4">b<tspan font-size="11.5" font-weight="bold" dy="3">2</tspan></text>
<text x="1292" y="611.5" font-size="19" fill="#333" stroke="#333" stroke-width="0.4">c<tspan font-size="11.5" font-weight="bold" dy="3">2</tspan></text>
<text x="1316" y="611.5" font-size="19" fill="#333" stroke="#333" stroke-width="0.4">y<tspan font-size="11.5" font-weight="bold" dy="3">2</tspan></text>
<text x="1486.5" y="591.5" font-size="19" fill="#333" stroke="#333" stroke-width="0.4">c<tspan font-size="11.5" font-weight="bold" dy="3">5</tspan></text>
<text x="1557" y="610.5" font-size="19" fill="#333" stroke="#333" stroke-width="0.4">y<tspan font-size="11.5" font-weight="bold" dy="3">5</tspan></text>
<text x="1576" y="577.5" font-size="19" fill="#333" stroke="#333" stroke-width="0.4">c<tspan font-size="11.5" font-weight="bold" dy="3">10</tspan><tspan font-size="11.5" font-weight="bold" dx="0" dy="-12">+2</tspan></text>
<text x="1577" y="593.5" font-size="19" fill="#333" stroke="#333" stroke-width="0.4">y<tspan font-size="11.5" font-weight="bold" dy="3">10</tspan><tspan font-size="11.5" font-weight="bold" dx="0" dy="-12">+2</tspan></text>
<text x="1721.5" y="531.5" font-size="19" fill="#333" stroke="#333" stroke-width="0.4">c<tspan font-size="11.5" font-weight="bold" dy="3">6</tspan></text>
<text x="1768" y="587.5" font-size="19" fill="#666" stroke="#666" stroke-width="0.4">b<tspan font-size="11.5" font-weight="bold" dy="3">9</tspan></text>
<text x="1788" y="556.5" font-size="19" fill="#333" stroke="#333" stroke-width="0.4">c<tspan font-size="11.5" font-weight="bold" dy="3">7</tspan></text>
<text x="1854" y="530.5" font-size="19" fill="#333" stroke="#333" stroke-width="0.4">c<tspan font-size="11.5" font-weight="bold" dy="3">8</tspan></text>
<text x="1850" y="608.5" font-size="19" fill="#555" stroke="#555" stroke-width="0.4">y<tspan font-size="11.5" font-weight="bold" dy="3">10</tspan></text>
<text x="1864" y="609.5" font-size="19" fill="#333" stroke="#333" stroke-width="0.4">z•<tspan font-size="11.5" font-weight="bold" dy="3">7</tspan></text>
<text x="1921.5" y="525.5" font-size="19" fill="#333" stroke="#333" stroke-width="0.4">z•<tspan font-size="11.5" font-weight="bold" dy="3">8</tspan></text>
<text x="1962" y="499.5" font-size="19" fill="#333" stroke="#333" stroke-width="0.4">c<tspan font-size="11.5" font-weight="bold" dy="3">9</tspan></text>
<text x="1972.5" y="541.5" font-size="19" fill="#333" stroke="#333" stroke-width="0.4">z•<tspan font-size="11.5" font-weight="bold" dy="3">9</tspan></text>
<text x="2034" y="611.5" font-size="19" fill="#444" stroke="#444" stroke-width="0.4">y<tspan font-size="11.5" font-weight="bold" dy="3">10</tspan></text>
<text x="1509.3" y="267" font-size="22" fill="#777">[M+3H]<tspan font-size="12" font-weight="bold" dy="-9">+2</tspan></text>
<text x="1602" y="263" font-size="22" fill="#444">[M+3H]<tspan font-size="12" font-weight="bold" dy="-9">+2</tspan></text>
<text x="2097.6" y="472" font-size="22" fill="#444">[M+3H]</text>
<line x1="1202.5" y1="794.2" x2="2158" y2="794.2" stroke="#dddddd" stroke-width="1"/>
<line x1="1202.5" y1="794.2" x2="1256.1" y2="794.2" stroke="#a7a9ab" stroke-width="5.6"/>
<line x1="1283" y1="794.2" x2="1336.6" y2="794.2" stroke="#a7a9ab" stroke-width="5.6"/>
<line x1="1363.6" y1="794.2" x2="1417.2" y2="794.2" stroke="#a7a9ab" stroke-width="5.6"/>
<line x1="1444.1" y1="794.2" x2="1497.7" y2="794.2" stroke="#a7a9ab" stroke-width="5.6"/>
<line x1="1524.7" y1="794.2" x2="1578.3" y2="794.2" stroke="#a7a9ab" stroke-width="5.6"/>
<line x1="1605.2" y1="794.2" x2="1658.8" y2="794.2" stroke="#a7a9ab" stroke-width="5.6"/>
<line x1="1685.8" y1="794.2" x2="1739.4" y2="794.2" stroke="#a7a9ab" stroke-width="5.6"/>
<line x1="1766.3" y1="794.2" x2="1819.9" y2="794.2" stroke="#a7a9ab" stroke-width="5.6"/>
<line x1="1846.9" y1="794.2" x2="1900.5" y2="794.2" stroke="#a7a9ab" stroke-width="5.6"/>
<line x1="1927.4" y1="794.2" x2="1981" y2="794.2" stroke="#a7a9ab" stroke-width="5.6"/>
<line x1="2008" y1="794.2" x2="2061.6" y2="794.2" stroke="#a7a9ab" stroke-width="5.6"/>
<line x1="2088.5" y1="794.2" x2="2142.1" y2="794.2" stroke="#a7a9ab" stroke-width="5.6"/>
<circle cx="1240.9" cy="846.3" r="5.6" fill="#1b75bb"/>
<circle cx="1297.4" cy="807.8" r="5.6" fill="#1b75bb"/>
<circle cx="1307.4" cy="838.6" r="5.6" fill="#12a04c"/>
<circle cx="1331.3" cy="810.2" r="5.6" fill="#c5233f"/>
<circle cx="1501.5" cy="828.1" r="5.6" fill="#12a04c"/>
<circle cx="1557.4" cy="844.2" r="5.6" fill="#a9a9a9"/>
<circle cx="1572.1" cy="808.4" r="5.6" fill="#c5233f"/>
<circle cx="1612" cy="771.4" r="5.6" fill="#c5233f"/>
<circle cx="1612" cy="805.9" r="5.6" fill="#12a04c"/>
<circle cx="1649.7" cy="830.6" r="5.6" fill="#6d6e70"/>
<circle cx="1736.5" cy="820.1" r="5.6" fill="#12a04c"/>
<circle cx="1783" cy="783.7" r="5.6" fill="#7ba3d8"/>
<circle cx="1802.8" cy="841.1" r="5.6" fill="#12a04c"/>
<circle cx="1868.7" cy="838.6" r="5.6" fill="#12a04c"/>
<circle cx="1873" cy="793.3" r="5.6" fill="#c47e78"/>
<circle cx="1883.2" cy="804.7" r="5.6" fill="#f0932f"/>
<circle cx="1940.6" cy="812.4" r="5.6" fill="#f0932f"/>
<circle cx="1976.7" cy="830" r="5.6" fill="#12a04c"/>
<circle cx="1991.5" cy="830" r="5.6" fill="#f0932f"/>
<circle cx="2057.4" cy="776.9" r="5.6" fill="#c5233f"/>
<circle cx="2133.1" cy="836.2" r="5.6" fill="#6d6e70"/>
<line x1="1194.1" y1="725.7" x2="2160.7" y2="725.7" stroke="#000" stroke-width="5.1"/>
<line x1="1194.1" y1="862.2" x2="2160.7" y2="862.2" stroke="#000" stroke-width="5.1"/>
<line x1="1202.5" y1="717.3" x2="1202.5" y2="862.2" stroke="#000" stroke-width="5.4"/>
<line x1="2158" y1="717.3" x2="2158" y2="862.2" stroke="#000" stroke-width="5.4"/>
<line x1="1194.1" y1="732.5" x2="1202.5" y2="732.5" stroke="#000" stroke-width="5.5"/>
<text x="1189.5" y="737.8" font-size="16.5" fill="#808080" text-anchor="end" textLength="16" lengthAdjust="spacingAndGlyphs">10</text>
<line x1="1194.1" y1="763.4" x2="1202.5" y2="763.4" stroke="#000" stroke-width="5.5"/>
<text x="1189.5" y="768.6" font-size="16.5" fill="#808080" text-anchor="end" textLength="10" lengthAdjust="spacingAndGlyphs">5</text>
<line x1="1194.1" y1="794.2" x2="1202.5" y2="794.2" stroke="#000" stroke-width="5.5"/>
<text x="1189.5" y="799.5" font-size="16.5" fill="#808080" text-anchor="end" textLength="10" lengthAdjust="spacingAndGlyphs">0</text>
<line x1="1194.1" y1="825.1" x2="1202.5" y2="825.1" stroke="#000" stroke-width="5.5"/>
<text x="1189.5" y="830.4" font-size="16.5" fill="#808080" text-anchor="end" textLength="16.5" lengthAdjust="spacingAndGlyphs">-5</text>
<line x1="1194.1" y1="855.9" x2="1202.5" y2="855.9" stroke="#000" stroke-width="5.5"/>
<text x="1189.5" y="861.2" font-size="16.5" fill="#808080" text-anchor="end" textLength="22.5" lengthAdjust="spacingAndGlyphs">-10</text>
<line x1="1282.3" y1="717.3" x2="1282.3" y2="725.7" stroke="#000" stroke-width="5.5"/>
<text x="1282.3" y="713.6" font-size="16.5" fill="#808080" text-anchor="middle" textLength="30" lengthAdjust="spacingAndGlyphs">200</text>
<line x1="1398.8" y1="717.3" x2="1398.8" y2="725.7" stroke="#000" stroke-width="5.5"/>
<text x="1398.8" y="713.6" font-size="16.5" fill="#808080" text-anchor="middle" textLength="30" lengthAdjust="spacingAndGlyphs">400</text>
<line x1="1515.3" y1="717.3" x2="1515.3" y2="725.7" stroke="#000" stroke-width="5.5"/>
<text x="1515.3" y="713.6" font-size="16.5" fill="#808080" text-anchor="middle" textLength="30" lengthAdjust="spacingAndGlyphs">600</text>
<line x1="1631.8" y1="717.3" x2="1631.8" y2="725.7" stroke="#000" stroke-width="5.5"/>
<text x="1631.8" y="713.6" font-size="16.5" fill="#808080" text-anchor="middle" textLength="30" lengthAdjust="spacingAndGlyphs">800</text>
<line x1="1748.3" y1="717.3" x2="1748.3" y2="725.7" stroke="#000" stroke-width="5.5"/>
<text x="1748.3" y="713.6" font-size="16.5" fill="#808080" text-anchor="middle" textLength="39.5" lengthAdjust="spacingAndGlyphs">1,000</text>
<line x1="1864.8" y1="717.3" x2="1864.8" y2="725.7" stroke="#000" stroke-width="5.5"/>
<text x="1864.8" y="713.6" font-size="16.5" fill="#808080" text-anchor="middle" textLength="39.5" lengthAdjust="spacingAndGlyphs">1,200</text>
<line x1="1981.3" y1="717.3" x2="1981.3" y2="725.7" stroke="#000" stroke-width="5.5"/>
<text x="1981.3" y="713.6" font-size="16.5" fill="#808080" text-anchor="middle" textLength="39.5" lengthAdjust="spacingAndGlyphs">1,400</text>
<line x1="2097.8" y1="717.3" x2="2097.8" y2="725.7" stroke="#000" stroke-width="5.5"/>
<text x="2097.8" y="713.6" font-size="16.5" fill="#808080" text-anchor="middle" textLength="39.5" lengthAdjust="spacingAndGlyphs">1,600</text>
<text transform="translate(1143 794) rotate(-90)" font-size="21.6" font-weight="bold" text-anchor="middle" textLength="134" lengthAdjust="spacingAndGlyphs" stroke="#000" stroke-width="1.1" fill="#000">Error (ppm)</text>
<text x="1214.2" y="753" font-size="16" fill="#111" textLength="282.6" lengthAdjust="spacingAndGlyphs">Fainted ion correspond to loss of 316Da</text>
<text x="15.7" y="977" font-size="55" fill="#231f20" font-weight="bold" textLength="48.7" lengthAdjust="spacingAndGlyphs" stroke="#231f20" stroke-width="1.2">C)</text>
<text class="mono" x="187.4 226.6 265.8 305 344.2 383.4 422.6 461.8 501 540.2 579.4 618.6 657.8 697 736.2 775.4 814.6 853.8 893 932.2" y="967.4" font-size="35.5" fill="#222" text-anchor="middle">KDATTATDAVISTITDVLAK</text>
<polyline points="196.3,940.9 206.3,951.4 206.3,967.5" fill="none" stroke="#1b75bb" stroke-width="4.2" stroke-linejoin="miter"/>
<polyline points="235.5,940.9 245.5,951.4 245.5,967.5" fill="none" stroke="#1b75bb" stroke-width="4.2" stroke-linejoin="miter"/>
<polyline points="274.7,940.9 284.7,951.4 284.7,967.5" fill="none" stroke="#1b75bb" stroke-width="4.2" stroke-linejoin="miter"/>
<polyline points="313.9,940.9 323.9,951.4 323.9,967.5" fill="none" stroke="#1b75bb" stroke-width="4.2" stroke-linejoin="miter"/>
<polyline points="353.1,940.9 363.1,951.4 363.1,967.5" fill="none" stroke="#1b75bb" stroke-width="4.2" stroke-linejoin="miter"/>
<polyline points="363.1,967.5 363.1,983.3 373.1,993.5" fill="none" stroke="#c5233f" stroke-width="4.2" stroke-linejoin="miter"/>
<polyline points="392.3,940.9 402.3,951.4 402.3,967.5" fill="none" stroke="#1b75bb" stroke-width="4.2" stroke-linejoin="miter"/>
<polyline points="402.3,967.5 402.3,983.3 412.3,993.5" fill="none" stroke="#c5233f" stroke-width="4.2" stroke-linejoin="miter"/>
<polyline points="431.5,940.9 441.5,951.4 441.5,967.5" fill="none" stroke="#1b75bb" stroke-width="4.2" stroke-linejoin="miter"/>
<polyline points="441.5,967.5 441.5,983.3 451.5,993.5" fill="none" stroke="#c5233f" stroke-width="4.2" stroke-linejoin="miter"/>
<polyline points="470.7,940.9 480.7,951.4 480.7,967.5" fill="none" stroke="#1b75bb" stroke-width="4.2" stroke-linejoin="miter"/>
<polyline points="480.7,967.5 480.7,983.3 490.7,993.5" fill="none" stroke="#c5233f" stroke-width="4.2" stroke-linejoin="miter"/>
<polyline points="509.9,940.9 519.9,951.4 519.9,967.5" fill="none" stroke="#1b75bb" stroke-width="4.2" stroke-linejoin="miter"/>
<polyline points="519.9,967.5 519.9,983.3 529.9,993.5" fill="none" stroke="#c5233f" stroke-width="4.2" stroke-linejoin="miter"/>
<polyline points="549.1,940.9 559.1,951.4 559.1,967.5" fill="none" stroke="#1b75bb" stroke-width="4.2" stroke-linejoin="miter"/>
<polyline points="559.1,967.5 559.1,983.3 569.1,993.5" fill="none" stroke="#c5233f" stroke-width="4.2" stroke-linejoin="miter"/>
<polyline points="588.3,940.9 598.3,951.4 598.3,967.5" fill="none" stroke="#1b75bb" stroke-width="4.2" stroke-linejoin="miter"/>
<polyline points="598.3,967.5 598.3,983.3 608.3,993.5" fill="none" stroke="#c5233f" stroke-width="4.2" stroke-linejoin="miter"/>
<polyline points="637.5,967.5 637.5,983.3 647.5,993.5" fill="none" stroke="#c5233f" stroke-width="4.2" stroke-linejoin="miter"/>
<polyline points="676.7,967.5 676.7,983.3 686.7,993.5" fill="none" stroke="#c5233f" stroke-width="4.2" stroke-linejoin="miter"/>
<polyline points="715.9,967.5 715.9,983.3 725.9,993.5" fill="none" stroke="#c5233f" stroke-width="4.2" stroke-linejoin="miter"/>
<polyline points="755.1,967.5 755.1,983.3 765.1,993.5" fill="none" stroke="#c5233f" stroke-width="4.2" stroke-linejoin="miter"/>
<polyline points="794.3,967.5 794.3,983.3 804.3,993.5" fill="none" stroke="#c5233f" stroke-width="4.2" stroke-linejoin="miter"/>
<polyline points="833.5,967.5 833.5,983.3 843.5,993.5" fill="none" stroke="#c5233f" stroke-width="4.2" stroke-linejoin="miter"/>
<polyline points="872.7,967.5 872.7,983.3 882.7,993.5" fill="none" stroke="#c5233f" stroke-width="4.2" stroke-linejoin="miter"/>
<polyline points="911.9,967.5 911.9,983.3 921.9,993.5" fill="none" stroke="#c5233f" stroke-width="4.2" stroke-linejoin="miter"/>
<text x="83.2" y="1028.7" font-size="23.5" fill="#000" textLength="176.8" lengthAdjust="spacingAndGlyphs" stroke="#000" stroke-width="0.7">Precursor m/z:</text>
<text x="273" y="1028.7" font-size="23.5" fill="#000" textLength="99.7" lengthAdjust="spacingAndGlyphs">678.7037</text>
<text x="492" y="1028.7" font-size="23.5" fill="#000" textLength="95" lengthAdjust="spacingAndGlyphs" stroke="#000" stroke-width="0.7">Charge:</text>
<text x="595" y="1028.7" font-size="23.5" fill="#000" textLength="23.5" lengthAdjust="spacingAndGlyphs">+3</text>
<text x="717.4" y="1028.7" font-size="23.5" fill="#000" textLength="246.5" lengthAdjust="spacingAndGlyphs" stroke="#000" stroke-width="0.7">Fragmented Bonds:</text>
<text x="968.6" y="1028.7" font-size="23.5" fill="#000" textLength="51.8" lengthAdjust="spacingAndGlyphs">19/19</text>
<text x="929.3" y="1084.6" font-size="23" fill="#222" textLength="85.7" lengthAdjust="spacingAndGlyphs">Q46121</text>
<text x="879" y="1117.3" font-size="23" fill="#222" textLength="136" lengthAdjust="spacingAndGlyphs">DBH_CAMJE</text>
<text x="682.2" y="1150.2" font-size="23" fill="#222" textLength="332.8" lengthAdjust="spacingAndGlyphs">DNA-binding protein HU (hup)</text>
<text x="101" y="1072" font-size="23" fill="#222" textLength="46" lengthAdjust="spacingAndGlyphs">HCD</text>
<line x1="104.2" y1="1566.7" x2="104.2" y2="1563.7" stroke="#959595" stroke-width="1.5"/>
<line x1="141.1" y1="1566.7" x2="141.1" y2="1551.4" stroke="#959595" stroke-width="1.5"/>
<line x1="116.5" y1="1566.7" x2="116.5" y2="1563.7" stroke="#959595" stroke-width="1.5"/>
<line x1="125.5" y1="1566.7" x2="125.5" y2="1548.4" stroke="#959595" stroke-width="1.5"/>
<line x1="117.3" y1="1566.7" x2="117.3" y2="1549.4" stroke="#959595" stroke-width="1.5"/>
<line x1="167.2" y1="1566.7" x2="167.2" y2="1563.3" stroke="#959595" stroke-width="1.5"/>
<line x1="155" y1="1566.7" x2="155" y2="1558.8" stroke="#959595" stroke-width="1.5"/>
<line x1="143" y1="1566.7" x2="143" y2="1535.6" stroke="#959595" stroke-width="1.5"/>
<line x1="112" y1="1566.7" x2="112" y2="1563.7" stroke="#959595" stroke-width="1.5"/>
<line x1="194.2" y1="1566.7" x2="194.2" y2="1559.8" stroke="#959595" stroke-width="1.5"/>
<line x1="122.3" y1="1566.7" x2="122.3" y2="1561.3" stroke="#959595" stroke-width="1.5"/>
<line x1="138.4" y1="1566.7" x2="138.4" y2="1538.1" stroke="#959595" stroke-width="1.5"/>
<line x1="123.4" y1="1566.7" x2="123.4" y2="1562.8" stroke="#959595" stroke-width="1.5"/>
<line x1="159.7" y1="1566.7" x2="159.7" y2="1556.3" stroke="#959595" stroke-width="1.5"/>
<line x1="195.5" y1="1566.7" x2="195.5" y2="1544.5" stroke="#959595" stroke-width="1.5"/>
<line x1="137.5" y1="1566.7" x2="137.5" y2="1562.8" stroke="#959595" stroke-width="1.5"/>
<line x1="184.1" y1="1566.7" x2="184.1" y2="1536.1" stroke="#959595" stroke-width="1.5"/>
<line x1="105.9" y1="1566.7" x2="105.9" y2="1549.4" stroke="#959595" stroke-width="1.5"/>
<line x1="187.2" y1="1566.7" x2="187.2" y2="1552.9" stroke="#959595" stroke-width="1.5"/>
<line x1="124.2" y1="1566.7" x2="124.2" y2="1546.5" stroke="#959595" stroke-width="1.5"/>
<line x1="173.8" y1="1566.7" x2="173.8" y2="1562.8" stroke="#959595" stroke-width="1.5"/>
<line x1="165.2" y1="1566.7" x2="165.2" y2="1562.8" stroke="#959595" stroke-width="1.5"/>
<line x1="107" y1="1566.7" x2="107" y2="1561.3" stroke="#959595" stroke-width="1.5"/>
<line x1="135.4" y1="1566.7" x2="135.4" y2="1560.3" stroke="#959595" stroke-width="1.5"/>
<line x1="165.7" y1="1566.7" x2="165.7" y2="1545" stroke="#959595" stroke-width="1.5"/>
<line x1="196.2" y1="1566.7" x2="196.2" y2="1537.1" stroke="#959595" stroke-width="1.5"/>
<line x1="199.4" y1="1566.7" x2="199.4" y2="1547" stroke="#959595" stroke-width="1.5"/>
<line x1="132.7" y1="1566.7" x2="132.7" y2="1563.3" stroke="#959595" stroke-width="1.5"/>
<line x1="163.5" y1="1566.7" x2="163.5" y2="1556.3" stroke="#959595" stroke-width="1.5"/>
<line x1="168.4" y1="1566.7" x2="168.4" y2="1563.7" stroke="#959595" stroke-width="1.5"/>
<line x1="121.7" y1="1566.7" x2="121.7" y2="1540" stroke="#959595" stroke-width="1.5"/>
<line x1="161.3" y1="1566.7" x2="161.3" y2="1550.9" stroke="#959595" stroke-width="1.5"/>
<line x1="112.3" y1="1566.7" x2="112.3" y2="1559.8" stroke="#959595" stroke-width="1.5"/>
<line x1="191.3" y1="1566.7" x2="191.3" y2="1552.9" stroke="#959595" stroke-width="1.5"/>
<line x1="199.2" y1="1566.7" x2="199.2" y2="1562.8" stroke="#959595" stroke-width="1.5"/>
<line x1="147.1" y1="1566.7" x2="147.1" y2="1546.5" stroke="#959595" stroke-width="1.5"/>
<line x1="146.1" y1="1566.7" x2="146.1" y2="1547" stroke="#959595" stroke-width="1.5"/>
<line x1="157.5" y1="1566.7" x2="157.5" y2="1563.3" stroke="#959595" stroke-width="1.5"/>
<line x1="112.6" y1="1566.7" x2="112.6" y2="1536.6" stroke="#959595" stroke-width="1.5"/>
<line x1="114.6" y1="1566.7" x2="114.6" y2="1562.8" stroke="#959595" stroke-width="1.5"/>
<line x1="135.5" y1="1566.7" x2="135.5" y2="1550.4" stroke="#959595" stroke-width="1.5"/>
<line x1="185.8" y1="1566.7" x2="185.8" y2="1558.3" stroke="#959595" stroke-width="1.5"/>
<line x1="151.3" y1="1566.7" x2="151.3" y2="1547" stroke="#959595" stroke-width="1.5"/>
<line x1="130" y1="1566.7" x2="130" y2="1560.8" stroke="#959595" stroke-width="1.5"/>
<line x1="162.4" y1="1566.7" x2="162.4" y2="1553.4" stroke="#959595" stroke-width="1.5"/>
<line x1="106.7" y1="1566.7" x2="106.7" y2="1563.7" stroke="#959595" stroke-width="1.5"/>
<line x1="116.4" y1="1566.7" x2="116.4" y2="1549.9" stroke="#959595" stroke-width="1.5"/>
<line x1="170.2" y1="1566.7" x2="170.2" y2="1537.1" stroke="#959595" stroke-width="1.5"/>
<line x1="177.5" y1="1566.7" x2="177.5" y2="1562.3" stroke="#959595" stroke-width="1.5"/>
<line x1="177.3" y1="1566.7" x2="177.3" y2="1536.6" stroke="#959595" stroke-width="1.5"/>
<line x1="136.8" y1="1566.7" x2="136.8" y2="1563.7" stroke="#959595" stroke-width="1.5"/>
<line x1="139.4" y1="1566.7" x2="139.4" y2="1561.8" stroke="#959595" stroke-width="1.5"/>
<line x1="120.1" y1="1566.7" x2="120.1" y2="1563.7" stroke="#959595" stroke-width="1.5"/>
<line x1="115.1" y1="1566.7" x2="115.1" y2="1543.5" stroke="#959595" stroke-width="1.5"/>
<line x1="107.8" y1="1566.7" x2="107.8" y2="1554.4" stroke="#959595" stroke-width="1.5"/>
<line x1="123" y1="1566.7" x2="123" y2="1562.8" stroke="#959595" stroke-width="1.5"/>
<line x1="182.6" y1="1566.7" x2="182.6" y2="1561.8" stroke="#959595" stroke-width="1.5"/>
<line x1="120.8" y1="1566.7" x2="120.8" y2="1558.8" stroke="#959595" stroke-width="1.5"/>
<line x1="170.4" y1="1566.7" x2="170.4" y2="1556.8" stroke="#959595" stroke-width="1.5"/>
<line x1="186.4" y1="1566.7" x2="186.4" y2="1559.8" stroke="#959595" stroke-width="1.5"/>
<line x1="153.8" y1="1566.7" x2="153.8" y2="1550.4" stroke="#959595" stroke-width="1.5"/>
<line x1="147.8" y1="1566.7" x2="147.8" y2="1550.4" stroke="#959595" stroke-width="1.5"/>
<line x1="148.3" y1="1566.7" x2="148.3" y2="1563.3" stroke="#959595" stroke-width="1.5"/>
<line x1="115" y1="1566.7" x2="115" y2="1547.4" stroke="#959595" stroke-width="1.5"/>
<line x1="175.3" y1="1566.7" x2="175.3" y2="1539" stroke="#959595" stroke-width="1.5"/>
<line x1="169.9" y1="1566.7" x2="169.9" y2="1555.4" stroke="#959595" stroke-width="1.5"/>
<line x1="119.1" y1="1566.7" x2="119.1" y2="1544" stroke="#959595" stroke-width="1.5"/>
<line x1="114.5" y1="1566.7" x2="114.5" y2="1559.3" stroke="#959595" stroke-width="1.5"/>
<line x1="116.6" y1="1566.7" x2="116.6" y2="1560.3" stroke="#959595" stroke-width="1.5"/>
<line x1="132.8" y1="1566.7" x2="132.8" y2="1559.3" stroke="#959595" stroke-width="1.5"/>
<line x1="203.9" y1="1566.7" x2="203.9" y2="1563.3" stroke="#959595" stroke-width="1.5"/>
<line x1="215.2" y1="1566.7" x2="215.2" y2="1551.4" stroke="#959595" stroke-width="1.5"/>
<line x1="224.8" y1="1566.7" x2="224.8" y2="1555.8" stroke="#959595" stroke-width="1.5"/>
<line x1="205" y1="1566.7" x2="205" y2="1560.3" stroke="#959595" stroke-width="1.5"/>
<line x1="242.2" y1="1566.7" x2="242.2" y2="1559.8" stroke="#959595" stroke-width="1.5"/>
<line x1="247.2" y1="1566.7" x2="247.2" y2="1551.9" stroke="#959595" stroke-width="1.5"/>
<line x1="218.5" y1="1566.7" x2="218.5" y2="1563.7" stroke="#959595" stroke-width="1.5"/>
<line x1="237.8" y1="1566.7" x2="237.8" y2="1563.7" stroke="#959595" stroke-width="1.5"/>
<line x1="200.5" y1="1566.7" x2="200.5" y2="1555.8" stroke="#959595" stroke-width="1.5"/>
<line x1="242.1" y1="1566.7" x2="242.1" y2="1552.9" stroke="#959595" stroke-width="1.5"/>
<line x1="247.7" y1="1566.7" x2="247.7" y2="1563.3" stroke="#959595" stroke-width="1.5"/>
<line x1="204.1" y1="1566.7" x2="204.1" y2="1563.7" stroke="#959595" stroke-width="1.5"/>
<line x1="248.9" y1="1566.7" x2="248.9" y2="1563.7" stroke="#959595" stroke-width="1.5"/>
<line x1="208" y1="1566.7" x2="208" y2="1563.7" stroke="#959595" stroke-width="1.5"/>
<line x1="426.8" y1="1566.7" x2="426.8" y2="1560.8" stroke="#959595" stroke-width="1.5"/>
<line x1="503.3" y1="1566.7" x2="503.3" y2="1563.3" stroke="#959595" stroke-width="1.5"/>
<line x1="452.1" y1="1566.7" x2="452.1" y2="1557.8" stroke="#959595" stroke-width="1.5"/>
<line x1="531.7" y1="1566.7" x2="531.7" y2="1563.7" stroke="#959595" stroke-width="1.5"/>
<line x1="452" y1="1566.7" x2="452" y2="1560.8" stroke="#959595" stroke-width="1.5"/>
<line x1="406.1" y1="1566.7" x2="406.1" y2="1556.3" stroke="#959595" stroke-width="1.5"/>
<line x1="413.8" y1="1566.7" x2="413.8" y2="1562.3" stroke="#959595" stroke-width="1.5"/>
<line x1="542.5" y1="1566.7" x2="542.5" y2="1560.8" stroke="#959595" stroke-width="1.5"/>
<line x1="343.4" y1="1566.7" x2="343.4" y2="1563.3" stroke="#959595" stroke-width="1.5"/>
<line x1="403.8" y1="1566.7" x2="403.8" y2="1563.7" stroke="#959595" stroke-width="1.5"/>
<line x1="438.4" y1="1566.7" x2="438.4" y2="1559.8" stroke="#959595" stroke-width="1.5"/>
<line x1="382.1" y1="1566.7" x2="382.1" y2="1558.3" stroke="#959595" stroke-width="1.5"/>
<line x1="537.7" y1="1566.7" x2="537.7" y2="1561.8" stroke="#959595" stroke-width="1.5"/>
<line x1="461.2" y1="1566.7" x2="461.2" y2="1563.7" stroke="#959595" stroke-width="1.5"/>
<line x1="267.4" y1="1566.7" x2="267.4" y2="1556.3" stroke="#959595" stroke-width="1.5"/>
<line x1="338.2" y1="1566.7" x2="338.2" y2="1563.3" stroke="#959595" stroke-width="1.5"/>
<line x1="528" y1="1566.7" x2="528" y2="1559.8" stroke="#959595" stroke-width="1.5"/>
<line x1="288.2" y1="1566.7" x2="288.2" y2="1563.3" stroke="#959595" stroke-width="1.5"/>
<line x1="325.2" y1="1566.7" x2="325.2" y2="1563.3" stroke="#959595" stroke-width="1.5"/>
<line x1="252" y1="1566.7" x2="252" y2="1561.8" stroke="#959595" stroke-width="1.5"/>
<line x1="344.3" y1="1566.7" x2="344.3" y2="1562.8" stroke="#959595" stroke-width="1.5"/>
<line x1="307.5" y1="1566.7" x2="307.5" y2="1563.7" stroke="#959595" stroke-width="1.5"/>
<line x1="260.2" y1="1566.7" x2="260.2" y2="1557.8" stroke="#959595" stroke-width="1.5"/>
<line x1="481.7" y1="1566.7" x2="481.7" y2="1561.8" stroke="#959595" stroke-width="1.5"/>
<line x1="112.1" y1="1566.7" x2="112.1" y2="1359.7" stroke="#a2a2a2" stroke-width="1.5"/>
<line x1="208.5" y1="1566.7" x2="208.5" y2="1382.9" stroke="#a2a2a2" stroke-width="1.5"/>
<line x1="219.5" y1="1566.7" x2="219.5" y2="1073.7" stroke="#a2a2a2" stroke-width="1.5"/>
<line x1="230.5" y1="1566.7" x2="230.5" y2="1441.2" stroke="#a2a2a2" stroke-width="1.5"/>
<line x1="240.5" y1="1566.7" x2="240.5" y2="1473.3" stroke="#a2a2a2" stroke-width="1.5"/>
<line x1="172.4" y1="1566.7" x2="172.4" y2="1475.8" stroke="#a2a2a2" stroke-width="1.5"/>
<line x1="159.2" y1="1566.7" x2="159.2" y2="1486.7" stroke="#959595" stroke-width="1.5"/>
<line x1="121.2" y1="1566.7" x2="121.2" y2="1491.6" stroke="#959595" stroke-width="1.5"/>
<line x1="147.9" y1="1566.7" x2="147.9" y2="1516.8" stroke="#959595" stroke-width="1.5"/>
<line x1="151.7" y1="1566.7" x2="151.7" y2="1521.3" stroke="#959595" stroke-width="1.5"/>
<line x1="176.2" y1="1566.7" x2="176.2" y2="1514.8" stroke="#959595" stroke-width="1.5"/>
<line x1="183.4" y1="1566.7" x2="183.4" y2="1516.8" stroke="#959595" stroke-width="1.5"/>
<line x1="245.2" y1="1566.7" x2="245.2" y2="1514.8" stroke="#959595" stroke-width="1.5"/>
<line x1="157.3" y1="1566.7" x2="157.3" y2="1529.7" stroke="#959595" stroke-width="1.5"/>
<line x1="105.5" y1="1566.7" x2="105.5" y2="1538.6" stroke="#959595" stroke-width="1.5"/>
<line x1="136.9" y1="1566.7" x2="136.9" y2="1539.5" stroke="#959595" stroke-width="1.5"/>
<line x1="470.7" y1="1566.7" x2="470.7" y2="1511.9" stroke="#959595" stroke-width="1.5"/>
<line x1="538.8" y1="1566.7" x2="538.8" y2="1505.5" stroke="#959595" stroke-width="1.5"/>
<line x1="490.1" y1="1566.7" x2="490.1" y2="1533.1" stroke="#959595" stroke-width="1.5"/>
<line x1="510.5" y1="1566.7" x2="510.5" y2="1530.7" stroke="#959595" stroke-width="1.5"/>
<line x1="373" y1="1566.7" x2="373" y2="1539.5" stroke="#959595" stroke-width="1.5"/>
<line x1="412.3" y1="1566.7" x2="412.3" y2="1550.4" stroke="#959595" stroke-width="1.5"/>
<line x1="430.5" y1="1566.7" x2="430.5" y2="1538.1" stroke="#959595" stroke-width="1.5"/>
<line x1="383.4" y1="1566.7" x2="383.4" y2="1550.4" stroke="#959595" stroke-width="1.5"/>
<line x1="443" y1="1566.7" x2="443" y2="1555.4" stroke="#959595" stroke-width="1.5"/>
<line x1="467.5" y1="1566.7" x2="467.5" y2="1555.4" stroke="#959595" stroke-width="1.5"/>
<line x1="271" y1="1566.7" x2="271" y2="1554.9" stroke="#959595" stroke-width="1.5"/>
<line x1="278.8" y1="1566.7" x2="278.8" y2="1548.9" stroke="#959595" stroke-width="1.5"/>
<line x1="309" y1="1566.7" x2="309" y2="1548.9" stroke="#959595" stroke-width="1.5"/>
<line x1="329.4" y1="1566.7" x2="329.4" y2="1549.9" stroke="#959595" stroke-width="1.5"/>
<line x1="342.6" y1="1566.7" x2="342.6" y2="1556.8" stroke="#959595" stroke-width="1.5"/>
<line x1="213.2" y1="1566.7" x2="213.2" y2="1542.5" stroke="#959595" stroke-width="1.5"/>
<line x1="194.4" y1="1566.7" x2="194.4" y2="1545.5" stroke="#959595" stroke-width="1.5"/>
<line x1="205" y1="1566.7" x2="205" y2="1553.9" stroke="#959595" stroke-width="1.5"/>
<line x1="296.5" y1="1566.7" x2="296.5" y2="1546" stroke="#959595" stroke-width="1.5"/>
<line x1="511.6" y1="1566.7" x2="511.6" y2="1555.8" stroke="#959595" stroke-width="1.5"/>
<line x1="513.3" y1="1566.7" x2="513.3" y2="1556.3" stroke="#959595" stroke-width="1.5"/>
<line x1="508.6" y1="1566.7" x2="508.6" y2="1556.3" stroke="#959595" stroke-width="1.5"/>
<line x1="524.5" y1="1566.7" x2="524.5" y2="1552.9" stroke="#959595" stroke-width="1.5"/>
<line x1="567.7" y1="1566.7" x2="567.7" y2="1543" stroke="#959595" stroke-width="1.5"/>
<line x1="628.9" y1="1566.7" x2="628.9" y2="1541" stroke="#959595" stroke-width="1.5"/>
<line x1="645.2" y1="1566.7" x2="645.2" y2="1499.5" stroke="#959595" stroke-width="1.5"/>
<line x1="646.6" y1="1566.7" x2="646.6" y2="1540" stroke="#959595" stroke-width="1.5"/>
<line x1="641" y1="1566.7" x2="641" y2="1554.4" stroke="#959595" stroke-width="1.5"/>
<line x1="679.7" y1="1566.7" x2="679.7" y2="1513.4" stroke="#959595" stroke-width="1.5"/>
<line x1="703.3" y1="1566.7" x2="703.3" y2="1545.5" stroke="#959595" stroke-width="1.5"/>
<line x1="714.3" y1="1566.7" x2="714.3" y2="1217.9" stroke="#a2a2a2" stroke-width="1.5"/>
<line x1="715.2" y1="1566.7" x2="715.2" y2="1459" stroke="#a2a2a2" stroke-width="1.5"/>
<line x1="733.7" y1="1566.7" x2="733.7" y2="1530.7" stroke="#959595" stroke-width="1.5"/>
<line x1="771.4" y1="1566.7" x2="771.4" y2="1554.9" stroke="#959595" stroke-width="1.5"/>
<line x1="776" y1="1566.7" x2="776" y2="1550.4" stroke="#959595" stroke-width="1.5"/>
<line x1="781.8" y1="1566.7" x2="781.8" y2="1461" stroke="#a2a2a2" stroke-width="1.5"/>
<line x1="785.8" y1="1566.7" x2="785.8" y2="1554.9" stroke="#959595" stroke-width="1.5"/>
<line x1="784" y1="1566.7" x2="784" y2="1554.9" stroke="#959595" stroke-width="1.5"/>
<line x1="820" y1="1566.7" x2="820" y2="1555.4" stroke="#959595" stroke-width="1.5"/>
<line x1="845.5" y1="1566.7" x2="845.5" y2="1481.2" stroke="#959595" stroke-width="1.5"/>
<line x1="846.7" y1="1566.7" x2="846.7" y2="1508.4" stroke="#959595" stroke-width="1.5"/>
<line x1="1014" y1="1566.7" x2="1014" y2="1543" stroke="#959595" stroke-width="1.5"/>
<line x1="610.5" y1="1566.7" x2="610.5" y2="1550.9" stroke="#959595" stroke-width="1.5"/>
<line x1="911" y1="1566.7" x2="911" y2="1547.9" stroke="#959595" stroke-width="1.5"/>
<line x1="652.1" y1="1566.7" x2="652.1" y2="1131" stroke="#6d6e70" stroke-width="3.4"/>
<line x1="117.5" y1="1566.7" x2="117.5" y2="1491.1" stroke="#1b75bb" stroke-width="3"/>
<line x1="128.1" y1="1566.7" x2="128.1" y2="1536.1" stroke="#c5233f" stroke-width="3"/>
<line x1="170.8" y1="1566.7" x2="170.8" y2="1520.3" stroke="#c5233f" stroke-width="3.8"/>
<line x1="186.2" y1="1566.7" x2="186.2" y2="1542.5" stroke="#1b75bb" stroke-width="3"/>
<line x1="229.2" y1="1566.7" x2="229.2" y2="1548.9" stroke="#1b75bb" stroke-width="3"/>
<line x1="239" y1="1566.7" x2="239" y2="1527.7" stroke="#c5233f" stroke-width="3"/>
<line x1="289.8" y1="1566.7" x2="289.8" y2="1552.9" stroke="#1b75bb" stroke-width="3"/>
<line x1="298.6" y1="1566.7" x2="298.6" y2="1531.6" stroke="#c5233f" stroke-width="3"/>
<line x1="332.8" y1="1566.7" x2="332.8" y2="1552.9" stroke="#1b75bb" stroke-width="3"/>
<line x1="350.7" y1="1566.7" x2="350.7" y2="1548.9" stroke="#1b75bb" stroke-width="3"/>
<line x1="367.7" y1="1566.7" x2="367.7" y2="1552.9" stroke="#c5233f" stroke-width="3"/>
<line x1="393.4" y1="1566.7" x2="393.4" y2="1539.5" stroke="#1b75bb" stroke-width="3"/>
<line x1="428.3" y1="1566.7" x2="428.3" y2="1529.7" stroke="#c5233f" stroke-width="3"/>
<line x1="454" y1="1566.7" x2="454" y2="1555.8" stroke="#1b75bb" stroke-width="3"/>
<line x1="496.4" y1="1566.7" x2="496.4" y2="1555.8" stroke="#c5233f" stroke-width="3"/>
<line x1="523.4" y1="1566.7" x2="523.4" y2="1526.7" stroke="#1b75bb" stroke-width="3"/>
<line x1="557.2" y1="1566.7" x2="557.2" y2="1544" stroke="#c5233f" stroke-width="3"/>
<line x1="566.1" y1="1566.7" x2="566.1" y2="1520.3" stroke="#1b75bb" stroke-width="3"/>
<line x1="609.4" y1="1566.7" x2="609.4" y2="1464" stroke="#c5233f" stroke-width="3"/>
<line x1="625.7" y1="1566.7" x2="625.7" y2="1457.5" stroke="#1b75bb" stroke-width="3"/>
<line x1="677.5" y1="1566.7" x2="677.5" y2="1474.8" stroke="#c5233f" stroke-width="3"/>
<line x1="693.5" y1="1566.7" x2="693.5" y2="1504.5" stroke="#1b75bb" stroke-width="3"/>
<line x1="737.2" y1="1566.7" x2="737.2" y2="1545.5" stroke="#c5233f" stroke-width="3"/>
<line x1="779.9" y1="1566.7" x2="779.9" y2="1538.6" stroke="#c5233f" stroke-width="3"/>
<line x1="849.3" y1="1566.7" x2="849.3" y2="1538.6" stroke="#c5233f" stroke-width="3"/>
<line x1="909.9" y1="1566.7" x2="909.9" y2="1529.7" stroke="#c5233f" stroke-width="3"/>
<line x1="952.2" y1="1566.7" x2="952.2" y2="1545.5" stroke="#c5233f" stroke-width="3"/>
<line x1="73.3" y1="1567.7" x2="81.7" y2="1567.7" stroke="#000" stroke-width="4"/>
<text x="68.7" y="1573" font-size="16.5" fill="#808080" text-anchor="end" textLength="24" lengthAdjust="spacingAndGlyphs">0.0</text>
<line x1="73.3" y1="1518.3" x2="81.7" y2="1518.3" stroke="#000" stroke-width="4"/>
<text x="68.7" y="1523.6" font-size="16.5" fill="#808080" text-anchor="end" textLength="16" lengthAdjust="spacingAndGlyphs">10</text>
<line x1="73.3" y1="1468.9" x2="81.7" y2="1468.9" stroke="#000" stroke-width="4"/>
<text x="68.7" y="1474.2" font-size="16.5" fill="#808080" text-anchor="end" textLength="20" lengthAdjust="spacingAndGlyphs">20</text>
<line x1="73.3" y1="1419.5" x2="81.7" y2="1419.5" stroke="#000" stroke-width="4"/>
<text x="68.7" y="1424.8" font-size="16.5" fill="#808080" text-anchor="end" textLength="20" lengthAdjust="spacingAndGlyphs">30</text>
<line x1="73.3" y1="1370.1" x2="81.7" y2="1370.1" stroke="#000" stroke-width="4"/>
<text x="68.7" y="1375.4" font-size="16.5" fill="#808080" text-anchor="end" textLength="20" lengthAdjust="spacingAndGlyphs">40</text>
<line x1="73.3" y1="1320.7" x2="81.7" y2="1320.7" stroke="#000" stroke-width="4"/>
<text x="68.7" y="1326" font-size="16.5" fill="#808080" text-anchor="end" textLength="20" lengthAdjust="spacingAndGlyphs">50</text>
<line x1="73.3" y1="1271.3" x2="81.7" y2="1271.3" stroke="#000" stroke-width="4"/>
<text x="68.7" y="1276.6" font-size="16.5" fill="#808080" text-anchor="end" textLength="20" lengthAdjust="spacingAndGlyphs">60</text>
<line x1="73.3" y1="1221.9" x2="81.7" y2="1221.9" stroke="#000" stroke-width="4"/>
<text x="68.7" y="1227.2" font-size="16.5" fill="#808080" text-anchor="end" textLength="20" lengthAdjust="spacingAndGlyphs">70</text>
<line x1="73.3" y1="1172.5" x2="81.7" y2="1172.5" stroke="#000" stroke-width="4"/>
<text x="68.7" y="1177.8" font-size="16.5" fill="#808080" text-anchor="end" textLength="20" lengthAdjust="spacingAndGlyphs">80</text>
<line x1="73.3" y1="1123.1" x2="81.7" y2="1123.1" stroke="#000" stroke-width="4"/>
<text x="68.7" y="1128.4" font-size="16.5" fill="#808080" text-anchor="end" textLength="20" lengthAdjust="spacingAndGlyphs">90</text>
<line x1="73.3" y1="1073.7" x2="81.7" y2="1073.7" stroke="#000" stroke-width="4"/>
<text x="68.7" y="1079" font-size="16.5" fill="#808080" text-anchor="end" textLength="26" lengthAdjust="spacingAndGlyphs">100</text>
<line x1="73.3" y1="1049.2" x2="81.7" y2="1049.2" stroke="#000" stroke-width="4.2"/>
<line x1="81.7" y1="1047.2" x2="81.7" y2="1575.5" stroke="#000" stroke-width="4.6"/>
<line x1="79.4" y1="1567.7" x2="1039.3" y2="1567.7" stroke="#000" stroke-width="4.6"/>
<line x1="1037" y1="1567.7" x2="1037" y2="1575.5" stroke="#000" stroke-width="4.6"/>
<line x1="159.8" y1="1567.7" x2="159.8" y2="1575.5" stroke="#000" stroke-width="4"/>
<text x="159.8" y="1592" font-size="16.5" fill="#808080" text-anchor="middle" textLength="30" lengthAdjust="spacingAndGlyphs">200</text>
<line x1="280" y1="1567.7" x2="280" y2="1575.5" stroke="#000" stroke-width="4"/>
<text x="280" y="1592" font-size="16.5" fill="#808080" text-anchor="middle" textLength="30" lengthAdjust="spacingAndGlyphs">400</text>
<line x1="400.3" y1="1567.7" x2="400.3" y2="1575.5" stroke="#000" stroke-width="4"/>
<text x="400.3" y="1592" font-size="16.5" fill="#808080" text-anchor="middle" textLength="30" lengthAdjust="spacingAndGlyphs">600</text>
<line x1="520.5" y1="1567.7" x2="520.5" y2="1575.5" stroke="#000" stroke-width="4"/>
<text x="520.5" y="1592" font-size="16.5" fill="#808080" text-anchor="middle" textLength="30" lengthAdjust="spacingAndGlyphs">800</text>
<line x1="640.8" y1="1567.7" x2="640.8" y2="1575.5" stroke="#000" stroke-width="4"/>
<text x="640.8" y="1592" font-size="16.5" fill="#808080" text-anchor="middle" textLength="39.5" lengthAdjust="spacingAndGlyphs">1,000</text>
<line x1="761" y1="1567.7" x2="761" y2="1575.5" stroke="#000" stroke-width="4"/>
<text x="761" y="1592" font-size="16.5" fill="#808080" text-anchor="middle" textLength="39.5" lengthAdjust="spacingAndGlyphs">1,200</text>
<line x1="881.2" y1="1567.7" x2="881.2" y2="1575.5" stroke="#000" stroke-width="4"/>
<text x="881.2" y="1592" font-size="16.5" fill="#808080" text-anchor="middle" textLength="39.5" lengthAdjust="spacingAndGlyphs">1,400</text>
<line x1="1001.5" y1="1567.7" x2="1001.5" y2="1575.5" stroke="#000" stroke-width="4"/>
<text x="1001.5" y="1592" font-size="16.5" fill="#808080" text-anchor="middle" textLength="39.5" lengthAdjust="spacingAndGlyphs">1,600</text>
<text transform="translate(21.5 1309) rotate(-90)" font-size="21.6" font-weight="bold" text-anchor="middle" textLength="281" lengthAdjust="spacingAndGlyphs" stroke="#000" stroke-width="1.1" fill="#000">Relative Abundance (%)</text>
<text x="510.5" y="1618.5" font-size="24" font-weight="bold" font-style="italic" textLength="42" lengthAdjust="spacingAndGlyphs" stroke="#000" stroke-width="1.2">m/z</text>
<text x="297" y="1548.5" font-size="20" fill="#000">b<tspan font-size="11.5" font-weight="bold" dy="3">10</tspan></text>
<rect x="322.3" y="1534.7" width="9.8" height="13.8" fill="none" stroke="#000" stroke-width="1.3"/>
<line x1="322.3" y1="1534.7" x2="332.1" y2="1548.5" stroke="#000" stroke-width="1"/>
<line x1="332.1" y1="1534.7" x2="322.3" y2="1548.5" stroke="#000" stroke-width="1"/>
<text x="333.3" y="1548.5" font-size="20" fill="#000" font-weight="bold">²</text>
<text x="102" y="1485.5" font-size="20" fill="#000">b<tspan font-size="11.5" font-weight="bold" dy="3">1</tspan></text>
<text x="113" y="1532" font-size="20" fill="#000">y<tspan font-size="11.5" font-weight="bold" dy="3">1</tspan></text>
<text x="156" y="1517" font-size="20" fill="#000">y<tspan font-size="11.5" font-weight="bold" dy="3">2</tspan></text>
<text x="171" y="1538.5" font-size="20" fill="#000">b<tspan font-size="11.5" font-weight="bold" dy="3">2</tspan></text>
<text x="214" y="1544.5" font-size="20" fill="#000">b<tspan font-size="11.5" font-weight="bold" dy="3">3</tspan></text>
<text x="224" y="1525" font-size="20" fill="#000">y<tspan font-size="11.5" font-weight="bold" dy="3">3</tspan></text>
<text x="274" y="1549.5" font-size="20" fill="#000">b<tspan font-size="11.5" font-weight="bold" dy="3">4</tspan></text>
<text x="283" y="1529" font-size="20" fill="#000">y<tspan font-size="11.5" font-weight="bold" dy="3">4</tspan></text>
<text x="338" y="1543.5" font-size="20" fill="#000">b<tspan font-size="11.5" font-weight="bold" dy="3">5</tspan></text>
<text x="352" y="1550" font-size="20" fill="#000">y<tspan font-size="11.5" font-weight="bold" dy="3">5</tspan></text>
<text x="378" y="1534.5" font-size="20" fill="#000">b<tspan font-size="11.5" font-weight="bold" dy="3">6</tspan></text>
<text x="413" y="1528" font-size="20" fill="#000">y<tspan font-size="11.5" font-weight="bold" dy="3">6</tspan></text>
<text x="439" y="1550.5" font-size="20" fill="#000">b<tspan font-size="11.5" font-weight="bold" dy="3">7</tspan></text>
<text x="481" y="1553" font-size="20" fill="#000">y<tspan font-size="11.5" font-weight="bold" dy="3">7</tspan></text>
<text x="508" y="1522.5" font-size="20" fill="#000">b<tspan font-size="11.5" font-weight="bold" dy="3">8</tspan></text>
<text x="542" y="1542" font-size="20" fill="#000">y<tspan font-size="11.5" font-weight="bold" dy="3">8</tspan></text>
<text x="551" y="1515.5" font-size="20" fill="#000">b<tspan font-size="11.5" font-weight="bold" dy="3">9</tspan></text>
<text x="594" y="1462" font-size="20" fill="#000">y<tspan font-size="11.5" font-weight="bold" dy="3">9</tspan></text>
<text x="602" y="1451.5" font-size="20" fill="#000">b<tspan font-size="11.5" font-weight="bold" dy="3">10</tspan></text>
<text x="654" y="1473" font-size="20" fill="#000">y<tspan font-size="11.5" font-weight="bold" dy="3">10</tspan></text>
<text x="670" y="1500.5" font-size="20" fill="#000">b<tspan font-size="11.5" font-weight="bold" dy="3">11</tspan></text>
<text x="714" y="1543" font-size="20" fill="#000">y<tspan font-size="11.5" font-weight="bold" dy="3">11</tspan></text>
<text x="757" y="1537" font-size="20" fill="#000">y<tspan font-size="11.5" font-weight="bold" dy="3">12</tspan></text>
<text x="826" y="1537" font-size="20" fill="#000">y<tspan font-size="11.5" font-weight="bold" dy="3">13</tspan></text>
<text x="887" y="1529" font-size="20" fill="#000">y<tspan font-size="11.5" font-weight="bold" dy="3">14</tspan></text>
<text x="929" y="1544" font-size="20" fill="#000">y<tspan font-size="11.5" font-weight="bold" dy="3">15</tspan></text>
<text x="603.7" y="1127.6" font-size="22" fill="#000" textLength="69" lengthAdjust="spacingAndGlyphs">[M+3H]</text>
<rect x="673.6" y="1112.8" width="10.4" height="15" fill="none" stroke="#000" stroke-width="1.3"/>
<line x1="673.6" y1="1112.8" x2="684" y2="1127.8" stroke="#000" stroke-width="1"/>
<line x1="684" y1="1112.8" x2="673.6" y2="1127.8" stroke="#000" stroke-width="1"/>
<text x="685" y="1128" font-size="22" fill="#000" font-weight="bold">²</text>
<line x1="81.8" y1="1721" x2="1037" y2="1721" stroke="#dddddd" stroke-width="1"/>
<line x1="81.8" y1="1721" x2="135.4" y2="1721" stroke="#a7a9ab" stroke-width="5"/>
<line x1="162.3" y1="1721" x2="215.9" y2="1721" stroke="#a7a9ab" stroke-width="5"/>
<line x1="242.9" y1="1721" x2="296.5" y2="1721" stroke="#a7a9ab" stroke-width="5"/>
<line x1="323.4" y1="1721" x2="377.1" y2="1721" stroke="#a7a9ab" stroke-width="5"/>
<line x1="404" y1="1721" x2="457.6" y2="1721" stroke="#a7a9ab" stroke-width="5"/>
<line x1="484.6" y1="1721" x2="538.1" y2="1721" stroke="#a7a9ab" stroke-width="5"/>
<line x1="565.1" y1="1721" x2="618.7" y2="1721" stroke="#a7a9ab" stroke-width="5"/>
<line x1="645.6" y1="1721" x2="699.2" y2="1721" stroke="#a7a9ab" stroke-width="5"/>
<line x1="726.2" y1="1721" x2="779.8" y2="1721" stroke="#a7a9ab" stroke-width="5"/>
<line x1="806.7" y1="1721" x2="860.3" y2="1721" stroke="#a7a9ab" stroke-width="5"/>
<line x1="887.3" y1="1721" x2="940.9" y2="1721" stroke="#a7a9ab" stroke-width="5"/>
<line x1="967.8" y1="1721" x2="1021.4" y2="1721" stroke="#a7a9ab" stroke-width="5"/>
<circle cx="117.1" cy="1745.3" r="5.6" fill="#1b75bb"/>
<circle cx="127.8" cy="1741.5" r="5.6" fill="#c5233f"/>
<circle cx="170.5" cy="1738.4" r="5.6" fill="#c5233f"/>
<circle cx="186.2" cy="1732.2" r="5.6" fill="#1b75bb"/>
<circle cx="228.9" cy="1739" r="5.6" fill="#1b75bb"/>
<circle cx="238.6" cy="1739.7" r="5.6" fill="#c5233f"/>
<circle cx="289.8" cy="1727.2" r="5.6" fill="#1b75bb"/>
<circle cx="298.3" cy="1719.8" r="5.6" fill="#c5233f"/>
<circle cx="332.8" cy="1733.4" r="5.6" fill="#1b75bb"/>
<circle cx="350.7" cy="1765.8" r="5.6" fill="#1b75bb"/>
<circle cx="367.7" cy="1743.4" r="5.6" fill="#c5233f"/>
<circle cx="393.4" cy="1722.9" r="5.6" fill="#1b75bb"/>
<circle cx="428.3" cy="1731" r="5.6" fill="#c5233f"/>
<circle cx="454" cy="1744" r="5.6" fill="#1b75bb"/>
<circle cx="496.1" cy="1703.6" r="5.6" fill="#c5233f"/>
<circle cx="523.1" cy="1745.3" r="5.6" fill="#1b75bb"/>
<circle cx="557" cy="1724.1" r="5.6" fill="#c5233f"/>
<circle cx="566.1" cy="1736.5" r="5.6" fill="#1b75bb"/>
<circle cx="609.4" cy="1741.5" r="5.6" fill="#c5233f"/>
<circle cx="625.4" cy="1740.3" r="5.6" fill="#1b75bb"/>
<circle cx="651.8" cy="1749" r="5.6" fill="#6d6e70"/>
<circle cx="677.5" cy="1738.4" r="5.6" fill="#c5233f"/>
<circle cx="693.5" cy="1742.8" r="5.6" fill="#1b75bb"/>
<circle cx="736.9" cy="1754" r="5.6" fill="#c5233f"/>
<circle cx="779.9" cy="1762.1" r="5.6" fill="#c5233f"/>
<circle cx="849" cy="1733.4" r="5.6" fill="#c5233f"/>
<circle cx="909.5" cy="1754" r="5.6" fill="#c5233f"/>
<circle cx="952.2" cy="1755.2" r="5.6" fill="#c5233f"/>
<line x1="73.4" y1="1652.4" x2="1039.3" y2="1652.4" stroke="#000" stroke-width="4.3"/>
<line x1="73.4" y1="1788" x2="1039.3" y2="1788" stroke="#000" stroke-width="4.3"/>
<line x1="81.8" y1="1644" x2="81.8" y2="1788" stroke="#000" stroke-width="4.6"/>
<line x1="1037" y1="1644" x2="1037" y2="1788" stroke="#000" stroke-width="4.6"/>
<line x1="73.4" y1="1658.8" x2="81.8" y2="1658.8" stroke="#000" stroke-width="3.8"/>
<text x="68.8" y="1664.1" font-size="16.5" fill="#808080" text-anchor="end" textLength="16" lengthAdjust="spacingAndGlyphs">10</text>
<line x1="73.4" y1="1689.9" x2="81.8" y2="1689.9" stroke="#000" stroke-width="3.8"/>
<text x="68.8" y="1695.2" font-size="16.5" fill="#808080" text-anchor="end" textLength="10" lengthAdjust="spacingAndGlyphs">5</text>
<line x1="73.4" y1="1721" x2="81.8" y2="1721" stroke="#000" stroke-width="3.8"/>
<text x="68.8" y="1726.3" font-size="16.5" fill="#808080" text-anchor="end" textLength="10" lengthAdjust="spacingAndGlyphs">0</text>
<line x1="73.4" y1="1752.1" x2="81.8" y2="1752.1" stroke="#000" stroke-width="3.8"/>
<text x="68.8" y="1757.4" font-size="16.5" fill="#808080" text-anchor="end" textLength="16.5" lengthAdjust="spacingAndGlyphs">-5</text>
<line x1="73.4" y1="1783.2" x2="81.8" y2="1783.2" stroke="#000" stroke-width="3.8"/>
<text x="68.8" y="1788.5" font-size="16.5" fill="#808080" text-anchor="end" textLength="22.5" lengthAdjust="spacingAndGlyphs">-10</text>
<line x1="159.8" y1="1644" x2="159.8" y2="1652.4" stroke="#000" stroke-width="3.8"/>
<text x="159.8" y="1640.3" font-size="16.5" fill="#808080" text-anchor="middle" textLength="30" lengthAdjust="spacingAndGlyphs">200</text>
<line x1="280" y1="1644" x2="280" y2="1652.4" stroke="#000" stroke-width="3.8"/>
<text x="280" y="1640.3" font-size="16.5" fill="#808080" text-anchor="middle" textLength="30" lengthAdjust="spacingAndGlyphs">400</text>
<line x1="400.3" y1="1644" x2="400.3" y2="1652.4" stroke="#000" stroke-width="3.8"/>
<text x="400.3" y="1640.3" font-size="16.5" fill="#808080" text-anchor="middle" textLength="30" lengthAdjust="spacingAndGlyphs">600</text>
<line x1="520.5" y1="1644" x2="520.5" y2="1652.4" stroke="#000" stroke-width="3.8"/>
<text x="520.5" y="1640.3" font-size="16.5" fill="#808080" text-anchor="middle" textLength="30" lengthAdjust="spacingAndGlyphs">800</text>
<line x1="640.8" y1="1644" x2="640.8" y2="1652.4" stroke="#000" stroke-width="3.8"/>
<text x="640.8" y="1640.3" font-size="16.5" fill="#808080" text-anchor="middle" textLength="39.5" lengthAdjust="spacingAndGlyphs">1,000</text>
<line x1="761" y1="1644" x2="761" y2="1652.4" stroke="#000" stroke-width="3.8"/>
<text x="761" y="1640.3" font-size="16.5" fill="#808080" text-anchor="middle" textLength="39.5" lengthAdjust="spacingAndGlyphs">1,200</text>
<line x1="881.2" y1="1644" x2="881.2" y2="1652.4" stroke="#000" stroke-width="3.8"/>
<text x="881.2" y="1640.3" font-size="16.5" fill="#808080" text-anchor="middle" textLength="39.5" lengthAdjust="spacingAndGlyphs">1,400</text>
<line x1="1001.5" y1="1644" x2="1001.5" y2="1652.4" stroke="#000" stroke-width="3.8"/>
<text x="1001.5" y="1640.3" font-size="16.5" fill="#808080" text-anchor="middle" textLength="39.5" lengthAdjust="spacingAndGlyphs">1,600</text>
<text transform="translate(22 1720) rotate(-90)" font-size="21.6" font-weight="bold" text-anchor="middle" textLength="134.5" lengthAdjust="spacingAndGlyphs" stroke="#000" stroke-width="1.1" fill="#000">Error (ppm)</text>
<text x="1150.5" y="965.9" font-size="55" fill="#231f20" font-weight="bold" textLength="52.7" lengthAdjust="spacingAndGlyphs" stroke="#231f20" stroke-width="1.2">D)</text>
<text class="mono" x="1301.5 1340 1378.6 1417.2 1455.7 1494.2 1532.8 1571.3 1609.9 1648.5 1687 1725.5 1764.1 1802.7 1841.2 1879.8 1918.3 1956.8 1995.4 2033.9" y="967.4" font-size="35.5" fill="#222" text-anchor="middle">KDATTATDAVI<tspan fill="#d8232a">s</tspan>TITDVLAK</text>
<polyline points="1320,967.5 1320,983.3 1330,993.5" fill="none" stroke="#c5233f" stroke-width="4.2" stroke-linejoin="miter"/>
<polyline points="1310,935.9 1320,946.4 1320,967.5" fill="none" stroke="#12a04c" stroke-width="4.2" stroke-linejoin="miter"/>
<polyline points="1358.6,967.5 1358.6,987.9 1368.6,998.1" fill="none" stroke="#f0932f" stroke-width="4.2" stroke-linejoin="miter"/>
<polyline points="1348.6,935.9 1358.6,946.4 1358.6,967.5" fill="none" stroke="#12a04c" stroke-width="4.2" stroke-linejoin="miter"/>
<polyline points="1397.2,967.9 1397.2,983.3 1407.2,993.5" fill="none" stroke="#c5233f" stroke-width="4.2" stroke-linejoin="miter"/>
<polyline points="1435.7,967.5 1435.7,987.9 1445.7,998.1" fill="none" stroke="#f0932f" stroke-width="4.2" stroke-linejoin="miter"/>
<polyline points="1425.7,935.9 1435.7,946.4 1435.7,967.5" fill="none" stroke="#12a04c" stroke-width="4.2" stroke-linejoin="miter"/>
<polyline points="1474.3,967.5 1474.3,987.9 1484.3,998.1" fill="none" stroke="#f0932f" stroke-width="4.2" stroke-linejoin="miter"/>
<polyline points="1474.3,967.5 1474.3,983.3 1484.3,993.5" fill="none" stroke="#c5233f" stroke-width="4.2" stroke-linejoin="miter"/>
<polyline points="1464.3,935.9 1474.3,946.4 1474.3,967.5" fill="none" stroke="#12a04c" stroke-width="4.2" stroke-linejoin="miter"/>
<polyline points="1502.9,935.9 1512.9,946.4 1512.9,967.5" fill="none" stroke="#12a04c" stroke-width="4.2" stroke-linejoin="miter"/>
<polyline points="1541.5,935.9 1551.5,946.4 1551.5,967.5" fill="none" stroke="#12a04c" stroke-width="4.2" stroke-linejoin="miter"/>
<polyline points="1590.1,967.5 1590.1,987.9 1600.1,998.1" fill="none" stroke="#f0932f" stroke-width="4.2" stroke-linejoin="miter"/>
<polyline points="1580.1,935.9 1590.1,946.4 1590.1,967.5" fill="none" stroke="#12a04c" stroke-width="4.2" stroke-linejoin="miter"/>
<polyline points="1657.2,935.9 1667.2,946.4 1667.2,967.5" fill="none" stroke="#12a04c" stroke-width="4.2" stroke-linejoin="miter"/>
<polyline points="1705.8,967.5 1705.8,983.3 1715.8,993.5" fill="none" stroke="#c5233f" stroke-width="4.2" stroke-linejoin="miter"/>
<polyline points="1695.8,935.9 1705.8,946.4 1705.8,967.5" fill="none" stroke="#12a04c" stroke-width="4.2" stroke-linejoin="miter"/>
<polyline points="1744.4,967.5 1744.4,983.3 1754.4,993.5" fill="none" stroke="#c5233f" stroke-width="4.2" stroke-linejoin="miter"/>
<polyline points="1734.4,935.9 1744.4,946.4 1744.4,967.5" fill="none" stroke="#12a04c" stroke-width="4.2" stroke-linejoin="miter"/>
<polyline points="1860.1,967.5 1860.1,987.9 1870.1,998.1" fill="none" stroke="#f0932f" stroke-width="4.2" stroke-linejoin="miter"/>
<polyline points="1850.1,935.9 1860.1,946.4 1860.1,967.5" fill="none" stroke="#12a04c" stroke-width="4.2" stroke-linejoin="miter"/>
<polyline points="1898.7,967.5 1898.7,987.9 1908.7,998.1" fill="none" stroke="#f0932f" stroke-width="4.2" stroke-linejoin="miter"/>
<polyline points="1888.7,935.9 1898.7,946.4 1898.7,967.5" fill="none" stroke="#12a04c" stroke-width="4.2" stroke-linejoin="miter"/>
<polyline points="1937.3,967.5 1937.3,987.9 1947.3,998.1" fill="none" stroke="#f0932f" stroke-width="4.2" stroke-linejoin="miter"/>
<polyline points="1937.3,967.5 1937.3,983.3 1947.3,993.5" fill="none" stroke="#c5233f" stroke-width="4.2" stroke-linejoin="miter"/>
<polyline points="1927.3,935.9 1937.3,946.4 1937.3,967.5" fill="none" stroke="#12a04c" stroke-width="4.2" stroke-linejoin="miter"/>
<polyline points="1975.9,967.5 1975.9,983.3 1985.9,993.5" fill="none" stroke="#c5233f" stroke-width="4.2" stroke-linejoin="miter"/>
<polyline points="1965.9,935.9 1975.9,946.4 1975.9,967.5" fill="none" stroke="#12a04c" stroke-width="4.2" stroke-linejoin="miter"/>
<polyline points="2014.4,967.5 2014.4,983.3 2024.4,993.5" fill="none" stroke="#c5233f" stroke-width="4.2" stroke-linejoin="miter"/>
<polyline points="2004.4,935.9 2014.4,946.4 2014.4,967.5" fill="none" stroke="#12a04c" stroke-width="4.2" stroke-linejoin="miter"/>
<text x="1198.5" y="1027.8" font-size="23.5" fill="#000" textLength="174.2" lengthAdjust="spacingAndGlyphs" stroke="#000" stroke-width="0.7">Precursor m/z:</text>
<text x="1385.3" y="1027.8" font-size="23.5" fill="#000" textLength="102" lengthAdjust="spacingAndGlyphs">784.0792</text>
<text x="1600.4" y="1027.8" font-size="23.5" fill="#000" textLength="94.4" lengthAdjust="spacingAndGlyphs" stroke="#000" stroke-width="0.7">Charge:</text>
<text x="1702" y="1027.8" font-size="23.5" fill="#000" textLength="23.5" lengthAdjust="spacingAndGlyphs">+3</text>
<text x="1822.9" y="1027.8" font-size="23.5" fill="#000" textLength="242.4" lengthAdjust="spacingAndGlyphs" stroke="#000" stroke-width="0.7">Fragmented Bonds:</text>
<text x="2070.6" y="1027.8" font-size="23.5" fill="#000" textLength="51.2" lengthAdjust="spacingAndGlyphs">16/19</text>
<text x="1215.8" y="1077.4" font-size="23" fill="#222" textLength="65.2" lengthAdjust="spacingAndGlyphs">EThcD</text>
<line x1="1237.1" y1="1557.1" x2="1237.1" y2="1553.2" stroke="#a8a8a8" stroke-width="1.5"/>
<line x1="1226.3" y1="1557.1" x2="1226.3" y2="1529.4" stroke="#a8a8a8" stroke-width="1.5"/>
<line x1="1246.9" y1="1557.1" x2="1246.9" y2="1541.1" stroke="#a8a8a8" stroke-width="1.5"/>
<line x1="1245.7" y1="1557.1" x2="1245.7" y2="1550.3" stroke="#a8a8a8" stroke-width="1.5"/>
<line x1="1254.6" y1="1557.1" x2="1254.6" y2="1545.5" stroke="#a8a8a8" stroke-width="1.5"/>
<line x1="1257.1" y1="1557.1" x2="1257.1" y2="1542.1" stroke="#a8a8a8" stroke-width="1.5"/>
<line x1="1260" y1="1557.1" x2="1260" y2="1549.4" stroke="#a8a8a8" stroke-width="1.5"/>
<line x1="1225.8" y1="1557.1" x2="1225.8" y2="1553.7" stroke="#a8a8a8" stroke-width="1.5"/>
<line x1="1254.2" y1="1557.1" x2="1254.2" y2="1553.7" stroke="#a8a8a8" stroke-width="1.5"/>
<line x1="1250.7" y1="1557.1" x2="1250.7" y2="1543.5" stroke="#a8a8a8" stroke-width="1.5"/>
<line x1="1221" y1="1557.1" x2="1221" y2="1536.7" stroke="#a8a8a8" stroke-width="1.5"/>
<line x1="1219.7" y1="1557.1" x2="1219.7" y2="1532.3" stroke="#a8a8a8" stroke-width="1.5"/>
<line x1="1260.1" y1="1557.1" x2="1260.1" y2="1553.2" stroke="#a8a8a8" stroke-width="1.5"/>
<line x1="1254.3" y1="1557.1" x2="1254.3" y2="1539.1" stroke="#a8a8a8" stroke-width="1.5"/>
<line x1="1224.3" y1="1557.1" x2="1224.3" y2="1541.6" stroke="#a8a8a8" stroke-width="1.5"/>
<line x1="1224.2" y1="1557.1" x2="1224.2" y2="1529.4" stroke="#a8a8a8" stroke-width="1.5"/>
<line x1="1252.4" y1="1557.1" x2="1252.4" y2="1525.5" stroke="#a8a8a8" stroke-width="1.5"/>
<line x1="1220.7" y1="1557.1" x2="1220.7" y2="1551.8" stroke="#a8a8a8" stroke-width="1.5"/>
<line x1="1249" y1="1557.1" x2="1249" y2="1544" stroke="#a8a8a8" stroke-width="1.5"/>
<line x1="1227.1" y1="1557.1" x2="1227.1" y2="1530.9" stroke="#a8a8a8" stroke-width="1.5"/>
<line x1="1260.3" y1="1557.1" x2="1260.3" y2="1552.3" stroke="#a8a8a8" stroke-width="1.5"/>
<line x1="1225.3" y1="1557.1" x2="1225.3" y2="1542.1" stroke="#a8a8a8" stroke-width="1.5"/>
<line x1="1238.4" y1="1557.1" x2="1238.4" y2="1542.1" stroke="#a8a8a8" stroke-width="1.5"/>
<line x1="1242.7" y1="1557.1" x2="1242.7" y2="1550.3" stroke="#a8a8a8" stroke-width="1.5"/>
<line x1="1219.1" y1="1557.1" x2="1219.1" y2="1553.7" stroke="#a8a8a8" stroke-width="1.5"/>
<line x1="1240.9" y1="1557.1" x2="1240.9" y2="1539.1" stroke="#a8a8a8" stroke-width="1.5"/>
<line x1="1239.3" y1="1557.1" x2="1239.3" y2="1538.7" stroke="#a8a8a8" stroke-width="1.5"/>
<line x1="1245" y1="1557.1" x2="1245" y2="1531.4" stroke="#a8a8a8" stroke-width="1.5"/>
<line x1="1250.8" y1="1557.1" x2="1250.8" y2="1551.8" stroke="#a8a8a8" stroke-width="1.5"/>
<line x1="1224.9" y1="1557.1" x2="1224.9" y2="1554.2" stroke="#a8a8a8" stroke-width="1.5"/>
<line x1="1220" y1="1557.1" x2="1220" y2="1532.3" stroke="#a8a8a8" stroke-width="1.5"/>
<line x1="1261.7" y1="1557.1" x2="1261.7" y2="1538.2" stroke="#a8a8a8" stroke-width="1.5"/>
<line x1="1223.5" y1="1557.1" x2="1223.5" y2="1542.1" stroke="#a8a8a8" stroke-width="1.5"/>
<line x1="1224.4" y1="1557.1" x2="1224.4" y2="1530.9" stroke="#a8a8a8" stroke-width="1.5"/>
<line x1="1250.8" y1="1557.1" x2="1250.8" y2="1538.2" stroke="#a8a8a8" stroke-width="1.5"/>
<line x1="1248.5" y1="1557.1" x2="1248.5" y2="1549.8" stroke="#a8a8a8" stroke-width="1.5"/>
<line x1="1260.4" y1="1557.1" x2="1260.4" y2="1526.5" stroke="#a8a8a8" stroke-width="1.5"/>
<line x1="1230.1" y1="1557.1" x2="1230.1" y2="1549.4" stroke="#a8a8a8" stroke-width="1.5"/>
<line x1="1254.7" y1="1557.1" x2="1254.7" y2="1541.1" stroke="#a8a8a8" stroke-width="1.5"/>
<line x1="1238.5" y1="1557.1" x2="1238.5" y2="1548.9" stroke="#a8a8a8" stroke-width="1.5"/>
<line x1="1266.4" y1="1557.1" x2="1266.4" y2="1552.3" stroke="#a8a8a8" stroke-width="1.5"/>
<line x1="1228.6" y1="1557.1" x2="1228.6" y2="1541.1" stroke="#a8a8a8" stroke-width="1.5"/>
<line x1="1231.8" y1="1557.1" x2="1231.8" y2="1530.4" stroke="#a8a8a8" stroke-width="1.5"/>
<line x1="1234.3" y1="1557.1" x2="1234.3" y2="1528.9" stroke="#a8a8a8" stroke-width="1.5"/>
<line x1="1296.1" y1="1557.1" x2="1296.1" y2="1554.2" stroke="#a8a8a8" stroke-width="1.5"/>
<line x1="1280.1" y1="1557.1" x2="1280.1" y2="1553.2" stroke="#a8a8a8" stroke-width="1.5"/>
<line x1="1300.4" y1="1557.1" x2="1300.4" y2="1545.5" stroke="#a8a8a8" stroke-width="1.5"/>
<line x1="1307.3" y1="1557.1" x2="1307.3" y2="1554.2" stroke="#a8a8a8" stroke-width="1.5"/>
<line x1="1286.6" y1="1557.1" x2="1286.6" y2="1554.2" stroke="#a8a8a8" stroke-width="1.5"/>
<line x1="1277.6" y1="1557.1" x2="1277.6" y2="1549.8" stroke="#a8a8a8" stroke-width="1.5"/>
<line x1="1269.2" y1="1557.1" x2="1269.2" y2="1553.7" stroke="#a8a8a8" stroke-width="1.5"/>
<line x1="1296.6" y1="1557.1" x2="1296.6" y2="1548.9" stroke="#a8a8a8" stroke-width="1.5"/>
<line x1="1277.7" y1="1557.1" x2="1277.7" y2="1547.9" stroke="#a8a8a8" stroke-width="1.5"/>
<line x1="1303.6" y1="1557.1" x2="1303.6" y2="1554.2" stroke="#a8a8a8" stroke-width="1.5"/>
<line x1="1303.5" y1="1557.1" x2="1303.5" y2="1545" stroke="#a8a8a8" stroke-width="1.5"/>
<line x1="1283" y1="1557.1" x2="1283" y2="1553.7" stroke="#a8a8a8" stroke-width="1.5"/>
<line x1="1357.3" y1="1557.1" x2="1357.3" y2="1549.4" stroke="#a8a8a8" stroke-width="1.5"/>
<line x1="1377.3" y1="1557.1" x2="1377.3" y2="1552.3" stroke="#a8a8a8" stroke-width="1.5"/>
<line x1="1477.6" y1="1557.1" x2="1477.6" y2="1547.9" stroke="#a8a8a8" stroke-width="1.5"/>
<line x1="1436.1" y1="1557.1" x2="1436.1" y2="1551.8" stroke="#a8a8a8" stroke-width="1.5"/>
<line x1="1353.6" y1="1557.1" x2="1353.6" y2="1552.8" stroke="#a8a8a8" stroke-width="1.5"/>
<line x1="1420.8" y1="1557.1" x2="1420.8" y2="1546.9" stroke="#a8a8a8" stroke-width="1.5"/>
<line x1="1453.9" y1="1557.1" x2="1453.9" y2="1548.4" stroke="#a8a8a8" stroke-width="1.5"/>
<line x1="1432.5" y1="1557.1" x2="1432.5" y2="1554.2" stroke="#a8a8a8" stroke-width="1.5"/>
<line x1="1511.7" y1="1557.1" x2="1511.7" y2="1547.4" stroke="#a8a8a8" stroke-width="1.5"/>
<line x1="1421.4" y1="1557.1" x2="1421.4" y2="1554.2" stroke="#a8a8a8" stroke-width="1.5"/>
<line x1="1447.4" y1="1557.1" x2="1447.4" y2="1551.8" stroke="#a8a8a8" stroke-width="1.5"/>
<line x1="1496.7" y1="1557.1" x2="1496.7" y2="1550.8" stroke="#a8a8a8" stroke-width="1.5"/>
<line x1="1446.3" y1="1557.1" x2="1446.3" y2="1550.8" stroke="#a8a8a8" stroke-width="1.5"/>
<line x1="1421.6" y1="1557.1" x2="1421.6" y2="1554.2" stroke="#a8a8a8" stroke-width="1.5"/>
<line x1="1361.6" y1="1557.1" x2="1361.6" y2="1545" stroke="#a8a8a8" stroke-width="1.5"/>
<line x1="1509.4" y1="1557.1" x2="1509.4" y2="1553.2" stroke="#a8a8a8" stroke-width="1.5"/>
<line x1="1518.9" y1="1557.1" x2="1518.9" y2="1551.8" stroke="#a8a8a8" stroke-width="1.5"/>
<line x1="1369.6" y1="1557.1" x2="1369.6" y2="1546.4" stroke="#a8a8a8" stroke-width="1.5"/>
<line x1="1461" y1="1557.1" x2="1461" y2="1545" stroke="#a8a8a8" stroke-width="1.5"/>
<line x1="1479.1" y1="1557.1" x2="1479.1" y2="1554.2" stroke="#a8a8a8" stroke-width="1.5"/>
<line x1="1468.3" y1="1557.1" x2="1468.3" y2="1547.9" stroke="#a8a8a8" stroke-width="1.5"/>
<line x1="1520.8" y1="1557.1" x2="1520.8" y2="1553.2" stroke="#a8a8a8" stroke-width="1.5"/>
<line x1="1566.3" y1="1557.1" x2="1566.3" y2="1544" stroke="#a8a8a8" stroke-width="1.5"/>
<line x1="1592.1" y1="1557.1" x2="1592.1" y2="1553.2" stroke="#a8a8a8" stroke-width="1.5"/>
<line x1="1555.8" y1="1557.1" x2="1555.8" y2="1554.2" stroke="#a8a8a8" stroke-width="1.5"/>
<line x1="1549.6" y1="1557.1" x2="1549.6" y2="1554.2" stroke="#a8a8a8" stroke-width="1.5"/>
<line x1="1551.9" y1="1557.1" x2="1551.9" y2="1545" stroke="#a8a8a8" stroke-width="1.5"/>
<line x1="1599.4" y1="1557.1" x2="1599.4" y2="1536.2" stroke="#a8a8a8" stroke-width="1.5"/>
<line x1="1564.6" y1="1557.1" x2="1564.6" y2="1548.9" stroke="#a8a8a8" stroke-width="1.5"/>
<line x1="1582.4" y1="1557.1" x2="1582.4" y2="1550.8" stroke="#a8a8a8" stroke-width="1.5"/>
<line x1="1547.2" y1="1557.1" x2="1547.2" y2="1527" stroke="#a8a8a8" stroke-width="1.5"/>
<line x1="1578.2" y1="1557.1" x2="1578.2" y2="1553.7" stroke="#a8a8a8" stroke-width="1.5"/>
<line x1="1547" y1="1557.1" x2="1547" y2="1554.2" stroke="#a8a8a8" stroke-width="1.5"/>
<line x1="1597.7" y1="1557.1" x2="1597.7" y2="1553.7" stroke="#a8a8a8" stroke-width="1.5"/>
<line x1="1578.6" y1="1557.1" x2="1578.6" y2="1516.8" stroke="#a8a8a8" stroke-width="1.5"/>
<line x1="1545" y1="1557.1" x2="1545" y2="1549.4" stroke="#a8a8a8" stroke-width="1.5"/>
<line x1="1570.2" y1="1557.1" x2="1570.2" y2="1521.2" stroke="#a8a8a8" stroke-width="1.5"/>
<line x1="1553.7" y1="1557.1" x2="1553.7" y2="1552.3" stroke="#a8a8a8" stroke-width="1.5"/>
<line x1="1557.1" y1="1557.1" x2="1557.1" y2="1554.2" stroke="#a8a8a8" stroke-width="1.5"/>
<line x1="1581.4" y1="1557.1" x2="1581.4" y2="1528.5" stroke="#a8a8a8" stroke-width="1.5"/>
<line x1="1567.9" y1="1557.1" x2="1567.9" y2="1554.2" stroke="#a8a8a8" stroke-width="1.5"/>
<line x1="1583.7" y1="1557.1" x2="1583.7" y2="1533.8" stroke="#a8a8a8" stroke-width="1.5"/>
<line x1="1580.2" y1="1557.1" x2="1580.2" y2="1550.8" stroke="#a8a8a8" stroke-width="1.5"/>
<line x1="1590.3" y1="1557.1" x2="1590.3" y2="1539.6" stroke="#a8a8a8" stroke-width="1.5"/>
<line x1="1576.6" y1="1557.1" x2="1576.6" y2="1544" stroke="#a8a8a8" stroke-width="1.5"/>
<line x1="1556.3" y1="1557.1" x2="1556.3" y2="1546.9" stroke="#a8a8a8" stroke-width="1.5"/>
<line x1="1588.3" y1="1557.1" x2="1588.3" y2="1536.7" stroke="#a8a8a8" stroke-width="1.5"/>
<line x1="1562.7" y1="1557.1" x2="1562.7" y2="1528.5" stroke="#a8a8a8" stroke-width="1.5"/>
<line x1="1590.8" y1="1557.1" x2="1590.8" y2="1554.2" stroke="#a8a8a8" stroke-width="1.5"/>
<line x1="1552" y1="1557.1" x2="1552" y2="1552.8" stroke="#a8a8a8" stroke-width="1.5"/>
<line x1="1543.8" y1="1557.1" x2="1543.8" y2="1532.8" stroke="#a8a8a8" stroke-width="1.5"/>
<line x1="1579.9" y1="1557.1" x2="1579.9" y2="1544" stroke="#a8a8a8" stroke-width="1.5"/>
<line x1="1599.7" y1="1557.1" x2="1599.7" y2="1550.3" stroke="#a8a8a8" stroke-width="1.5"/>
<line x1="1554.3" y1="1557.1" x2="1554.3" y2="1553.7" stroke="#a8a8a8" stroke-width="1.5"/>
<line x1="1562.4" y1="1557.1" x2="1562.4" y2="1527" stroke="#a8a8a8" stroke-width="1.5"/>
<line x1="1577.6" y1="1557.1" x2="1577.6" y2="1554.2" stroke="#a8a8a8" stroke-width="1.5"/>
<line x1="1567.7" y1="1557.1" x2="1567.7" y2="1554.2" stroke="#a8a8a8" stroke-width="1.5"/>
<line x1="1578.5" y1="1557.1" x2="1578.5" y2="1553.7" stroke="#a8a8a8" stroke-width="1.5"/>
<line x1="1617.7" y1="1557.1" x2="1617.7" y2="1545.5" stroke="#a8a8a8" stroke-width="1.5"/>
<line x1="1605.3" y1="1557.1" x2="1605.3" y2="1550.3" stroke="#a8a8a8" stroke-width="1.5"/>
<line x1="1604.7" y1="1557.1" x2="1604.7" y2="1554.2" stroke="#a8a8a8" stroke-width="1.5"/>
<line x1="1618.5" y1="1557.1" x2="1618.5" y2="1553.7" stroke="#a8a8a8" stroke-width="1.5"/>
<line x1="1620.2" y1="1557.1" x2="1620.2" y2="1532.3" stroke="#a8a8a8" stroke-width="1.5"/>
<line x1="1602.3" y1="1557.1" x2="1602.3" y2="1539.1" stroke="#a8a8a8" stroke-width="1.5"/>
<line x1="1608.8" y1="1557.1" x2="1608.8" y2="1528.5" stroke="#a8a8a8" stroke-width="1.5"/>
<line x1="1647.9" y1="1557.1" x2="1647.9" y2="1552.8" stroke="#a8a8a8" stroke-width="1.5"/>
<line x1="1655.1" y1="1557.1" x2="1655.1" y2="1533.8" stroke="#a8a8a8" stroke-width="1.5"/>
<line x1="1604.9" y1="1557.1" x2="1604.9" y2="1548.4" stroke="#a8a8a8" stroke-width="1.5"/>
<line x1="1645.5" y1="1557.1" x2="1645.5" y2="1518.7" stroke="#a8a8a8" stroke-width="1.5"/>
<line x1="1611.2" y1="1557.1" x2="1611.2" y2="1552.3" stroke="#a8a8a8" stroke-width="1.5"/>
<line x1="1650.4" y1="1557.1" x2="1650.4" y2="1515.3" stroke="#a8a8a8" stroke-width="1.5"/>
<line x1="1606.1" y1="1557.1" x2="1606.1" y2="1554.2" stroke="#a8a8a8" stroke-width="1.5"/>
<line x1="1648.8" y1="1557.1" x2="1648.8" y2="1550.8" stroke="#a8a8a8" stroke-width="1.5"/>
<line x1="1625.1" y1="1557.1" x2="1625.1" y2="1522.6" stroke="#a8a8a8" stroke-width="1.5"/>
<line x1="1648.5" y1="1557.1" x2="1648.5" y2="1537.2" stroke="#a8a8a8" stroke-width="1.5"/>
<line x1="1656.4" y1="1557.1" x2="1656.4" y2="1532.8" stroke="#a8a8a8" stroke-width="1.5"/>
<line x1="1652.7" y1="1557.1" x2="1652.7" y2="1538.2" stroke="#a8a8a8" stroke-width="1.5"/>
<line x1="1638.6" y1="1557.1" x2="1638.6" y2="1554.2" stroke="#a8a8a8" stroke-width="1.5"/>
<line x1="1659.1" y1="1557.1" x2="1659.1" y2="1519.7" stroke="#a8a8a8" stroke-width="1.5"/>
<line x1="1622.8" y1="1557.1" x2="1622.8" y2="1539.1" stroke="#a8a8a8" stroke-width="1.5"/>
<line x1="1601.1" y1="1557.1" x2="1601.1" y2="1545" stroke="#a8a8a8" stroke-width="1.5"/>
<line x1="1640.5" y1="1557.1" x2="1640.5" y2="1551.3" stroke="#a8a8a8" stroke-width="1.5"/>
<line x1="1626.9" y1="1557.1" x2="1626.9" y2="1525.5" stroke="#a8a8a8" stroke-width="1.5"/>
<line x1="1609.3" y1="1557.1" x2="1609.3" y2="1546.9" stroke="#a8a8a8" stroke-width="1.5"/>
<line x1="1605.6" y1="1557.1" x2="1605.6" y2="1548.9" stroke="#a8a8a8" stroke-width="1.5"/>
<line x1="1657.4" y1="1557.1" x2="1657.4" y2="1539.6" stroke="#a8a8a8" stroke-width="1.5"/>
<line x1="1601.9" y1="1557.1" x2="1601.9" y2="1524.1" stroke="#a8a8a8" stroke-width="1.5"/>
<line x1="1642.8" y1="1557.1" x2="1642.8" y2="1544" stroke="#a8a8a8" stroke-width="1.5"/>
<line x1="1618.8" y1="1557.1" x2="1618.8" y2="1551.3" stroke="#a8a8a8" stroke-width="1.5"/>
<line x1="1611.9" y1="1557.1" x2="1611.9" y2="1539.1" stroke="#a8a8a8" stroke-width="1.5"/>
<line x1="1603.2" y1="1557.1" x2="1603.2" y2="1516.8" stroke="#a8a8a8" stroke-width="1.5"/>
<line x1="1606.7" y1="1557.1" x2="1606.7" y2="1539.1" stroke="#a8a8a8" stroke-width="1.5"/>
<line x1="1637.4" y1="1557.1" x2="1637.4" y2="1549.8" stroke="#a8a8a8" stroke-width="1.5"/>
<line x1="1618.1" y1="1557.1" x2="1618.1" y2="1547.4" stroke="#a8a8a8" stroke-width="1.5"/>
<line x1="1621.4" y1="1557.1" x2="1621.4" y2="1514.4" stroke="#a8a8a8" stroke-width="1.5"/>
<line x1="1641.9" y1="1557.1" x2="1641.9" y2="1544" stroke="#a8a8a8" stroke-width="1.5"/>
<line x1="1643.1" y1="1557.1" x2="1643.1" y2="1545.5" stroke="#a8a8a8" stroke-width="1.5"/>
<line x1="1609.7" y1="1557.1" x2="1609.7" y2="1554.2" stroke="#a8a8a8" stroke-width="1.5"/>
<line x1="1799.9" y1="1557.1" x2="1799.9" y2="1522.6" stroke="#a8a8a8" stroke-width="1.5"/>
<line x1="1795.5" y1="1557.1" x2="1795.5" y2="1474.5" stroke="#a8a8a8" stroke-width="1.5"/>
<line x1="1790.3" y1="1557.1" x2="1790.3" y2="1514.4" stroke="#a8a8a8" stroke-width="1.5"/>
<line x1="1795.5" y1="1557.1" x2="1795.5" y2="1460.4" stroke="#b0b0b0" stroke-width="1.5"/>
<line x1="1787.5" y1="1557.1" x2="1787.5" y2="1533.8" stroke="#a8a8a8" stroke-width="1.5"/>
<line x1="1791.6" y1="1557.1" x2="1791.6" y2="1479.9" stroke="#a8a8a8" stroke-width="1.5"/>
<line x1="1799.2" y1="1557.1" x2="1799.2" y2="1532.8" stroke="#a8a8a8" stroke-width="1.5"/>
<line x1="1800.3" y1="1557.1" x2="1800.3" y2="1513.4" stroke="#a8a8a8" stroke-width="1.5"/>
<line x1="1801" y1="1557.1" x2="1801" y2="1462.8" stroke="#b0b0b0" stroke-width="1.5"/>
<line x1="1788.3" y1="1557.1" x2="1788.3" y2="1455.6" stroke="#b0b0b0" stroke-width="1.5"/>
<line x1="1793.9" y1="1557.1" x2="1793.9" y2="1532.3" stroke="#a8a8a8" stroke-width="1.5"/>
<line x1="1793.8" y1="1557.1" x2="1793.8" y2="1533.3" stroke="#a8a8a8" stroke-width="1.5"/>
<line x1="1797.9" y1="1557.1" x2="1797.9" y2="1511.9" stroke="#a8a8a8" stroke-width="1.5"/>
<line x1="1788.6" y1="1557.1" x2="1788.6" y2="1530.9" stroke="#a8a8a8" stroke-width="1.5"/>
<line x1="1794.3" y1="1557.1" x2="1794.3" y2="1486.2" stroke="#a8a8a8" stroke-width="1.5"/>
<line x1="1791" y1="1557.1" x2="1791" y2="1533.3" stroke="#a8a8a8" stroke-width="1.5"/>
<line x1="1792.1" y1="1557.1" x2="1792.1" y2="1533.8" stroke="#a8a8a8" stroke-width="1.5"/>
<line x1="1791.9" y1="1557.1" x2="1791.9" y2="1472.6" stroke="#a8a8a8" stroke-width="1.5"/>
<line x1="1789.7" y1="1557.1" x2="1789.7" y2="1528" stroke="#a8a8a8" stroke-width="1.5"/>
<line x1="1798.2" y1="1557.1" x2="1798.2" y2="1531.4" stroke="#a8a8a8" stroke-width="1.5"/>
<line x1="1788.7" y1="1557.1" x2="1788.7" y2="1529.9" stroke="#a8a8a8" stroke-width="1.5"/>
<line x1="1795.8" y1="1557.1" x2="1795.8" y2="1494.9" stroke="#a8a8a8" stroke-width="1.5"/>
<line x1="1796.8" y1="1557.1" x2="1796.8" y2="1533.8" stroke="#a8a8a8" stroke-width="1.5"/>
<line x1="1791.1" y1="1557.1" x2="1791.1" y2="1533.3" stroke="#a8a8a8" stroke-width="1.5"/>
<line x1="1795.1" y1="1557.1" x2="1795.1" y2="1524.6" stroke="#a8a8a8" stroke-width="1.5"/>
<line x1="1797.9" y1="1557.1" x2="1797.9" y2="1510" stroke="#a8a8a8" stroke-width="1.5"/>
<line x1="1795.4" y1="1557.1" x2="1795.4" y2="1531.9" stroke="#a8a8a8" stroke-width="1.5"/>
<line x1="1794.9" y1="1557.1" x2="1794.9" y2="1533.8" stroke="#a8a8a8" stroke-width="1.5"/>
<line x1="1788.5" y1="1557.1" x2="1788.5" y2="1475" stroke="#a8a8a8" stroke-width="1.5"/>
<line x1="1789.5" y1="1557.1" x2="1789.5" y2="1533.8" stroke="#a8a8a8" stroke-width="1.5"/>
<line x1="1797.4" y1="1557.1" x2="1797.4" y2="1531.9" stroke="#a8a8a8" stroke-width="1.5"/>
<line x1="1791.4" y1="1557.1" x2="1791.4" y2="1509.5" stroke="#a8a8a8" stroke-width="1.5"/>
<line x1="1800.6" y1="1557.1" x2="1800.6" y2="1533.8" stroke="#a8a8a8" stroke-width="1.5"/>
<line x1="1796.4" y1="1557.1" x2="1796.4" y2="1533.8" stroke="#a8a8a8" stroke-width="1.5"/>
<line x1="2100.9" y1="1557.1" x2="2100.9" y2="1535.7" stroke="#a8a8a8" stroke-width="1.5"/>
<line x1="2101.4" y1="1557.1" x2="2101.4" y2="1514.8" stroke="#a8a8a8" stroke-width="1.5"/>
<line x1="2106.6" y1="1557.1" x2="2106.6" y2="1543.5" stroke="#a8a8a8" stroke-width="1.5"/>
<line x1="2100.6" y1="1557.1" x2="2100.6" y2="1516.3" stroke="#a8a8a8" stroke-width="1.5"/>
<line x1="2102" y1="1557.1" x2="2102" y2="1516.3" stroke="#a8a8a8" stroke-width="1.5"/>
<line x1="2108.2" y1="1557.1" x2="2108.2" y2="1531.9" stroke="#a8a8a8" stroke-width="1.5"/>
<line x1="2111.1" y1="1557.1" x2="2111.1" y2="1526" stroke="#a8a8a8" stroke-width="1.5"/>
<line x1="2107.5" y1="1557.1" x2="2107.5" y2="1536.2" stroke="#a8a8a8" stroke-width="1.5"/>
<line x1="2103.2" y1="1557.1" x2="2103.2" y2="1543" stroke="#a8a8a8" stroke-width="1.5"/>
<line x1="2105.5" y1="1557.1" x2="2105.5" y2="1537.2" stroke="#a8a8a8" stroke-width="1.5"/>
<line x1="1947" y1="1557.1" x2="1947" y2="1550.3" stroke="#a8a8a8" stroke-width="1.5"/>
<line x1="1949.1" y1="1557.1" x2="1949.1" y2="1551.8" stroke="#a8a8a8" stroke-width="1.5"/>
<line x1="1950.2" y1="1557.1" x2="1950.2" y2="1550.8" stroke="#a8a8a8" stroke-width="1.5"/>
<line x1="1940.8" y1="1557.1" x2="1940.8" y2="1550.3" stroke="#a8a8a8" stroke-width="1.5"/>
<line x1="1940.5" y1="1557.1" x2="1940.5" y2="1554.2" stroke="#a8a8a8" stroke-width="1.5"/>
<line x1="1945.3" y1="1557.1" x2="1945.3" y2="1530.9" stroke="#a8a8a8" stroke-width="1.5"/>
<line x1="2100.3" y1="1557.1" x2="2100.3" y2="1553.7" stroke="#a8a8a8" stroke-width="1.5"/>
<line x1="2104.5" y1="1557.1" x2="2104.5" y2="1552.3" stroke="#a8a8a8" stroke-width="1.5"/>
<line x1="2110.4" y1="1557.1" x2="2110.4" y2="1553.2" stroke="#a8a8a8" stroke-width="1.5"/>
<line x1="2105.8" y1="1557.1" x2="2105.8" y2="1553.7" stroke="#a8a8a8" stroke-width="1.5"/>
<line x1="2111.1" y1="1557.1" x2="2111.1" y2="1531.9" stroke="#a8a8a8" stroke-width="1.5"/>
<line x1="2088.8" y1="1557.1" x2="2088.8" y2="1542.5" stroke="#a8a8a8" stroke-width="1.5"/>
<line x1="2091.7" y1="1557.1" x2="2091.7" y2="1547.4" stroke="#a8a8a8" stroke-width="1.5"/>
<line x1="2108.1" y1="1557.1" x2="2108.1" y2="1553.7" stroke="#a8a8a8" stroke-width="1.5"/>
<line x1="2091.6" y1="1557.1" x2="2091.6" y2="1554.2" stroke="#a8a8a8" stroke-width="1.5"/>
<line x1="2087.7" y1="1557.1" x2="2087.7" y2="1547.9" stroke="#a8a8a8" stroke-width="1.5"/>
<line x1="1293" y1="1557.1" x2="1293" y2="1374.9" stroke="#b0b0b0" stroke-width="1.5"/>
<line x1="1300.2" y1="1557.1" x2="1300.2" y2="1412.8" stroke="#b0b0b0" stroke-width="1.5"/>
<line x1="1221.4" y1="1557.1" x2="1221.4" y2="1483.7" stroke="#a8a8a8" stroke-width="1.5"/>
<line x1="1226.8" y1="1557.1" x2="1226.8" y2="1489.1" stroke="#a8a8a8" stroke-width="1.5"/>
<line x1="1245" y1="1557.1" x2="1245" y2="1478.9" stroke="#a8a8a8" stroke-width="1.5"/>
<line x1="1307.1" y1="1557.1" x2="1307.1" y2="1480.8" stroke="#a8a8a8" stroke-width="1.5"/>
<line x1="1253.4" y1="1557.1" x2="1253.4" y2="1505.6" stroke="#a8a8a8" stroke-width="1.5"/>
<line x1="1547" y1="1557.1" x2="1547" y2="1484.7" stroke="#a8a8a8" stroke-width="1.5"/>
<line x1="1557.7" y1="1557.1" x2="1557.7" y2="1472.1" stroke="#a8a8a8" stroke-width="1.5"/>
<line x1="1564" y1="1557.1" x2="1564" y2="1486.7" stroke="#a8a8a8" stroke-width="1.5"/>
<line x1="1575.3" y1="1557.1" x2="1575.3" y2="1490.5" stroke="#a8a8a8" stroke-width="1.5"/>
<line x1="1580.6" y1="1557.1" x2="1580.6" y2="1072.1" stroke="#b0b0b0" stroke-width="1.5"/>
<line x1="1621.7" y1="1557.1" x2="1621.7" y2="1390.9" stroke="#b0b0b0" stroke-width="1.5"/>
<line x1="1643.6" y1="1557.1" x2="1643.6" y2="1326.3" stroke="#b0b0b0" stroke-width="1.5"/>
<line x1="1634.9" y1="1557.1" x2="1634.9" y2="1449.7" stroke="#b0b0b0" stroke-width="1.5"/>
<line x1="1459.7" y1="1557.1" x2="1459.7" y2="1519.7" stroke="#a8a8a8" stroke-width="1.5"/>
<line x1="1466.3" y1="1557.1" x2="1466.3" y2="1525.1" stroke="#a8a8a8" stroke-width="1.5"/>
<line x1="1368" y1="1557.1" x2="1368" y2="1521.2" stroke="#a8a8a8" stroke-width="1.5"/>
<line x1="1362.4" y1="1557.1" x2="1362.4" y2="1527.5" stroke="#a8a8a8" stroke-width="1.5"/>
<line x1="1394.7" y1="1557.1" x2="1394.7" y2="1528.5" stroke="#a8a8a8" stroke-width="1.5"/>
<line x1="1357.7" y1="1557.1" x2="1357.7" y2="1540.6" stroke="#a8a8a8" stroke-width="1.5"/>
<line x1="1427.7" y1="1557.1" x2="1427.7" y2="1538.7" stroke="#a8a8a8" stroke-width="1.5"/>
<line x1="1430.2" y1="1557.1" x2="1430.2" y2="1540.1" stroke="#a8a8a8" stroke-width="1.5"/>
<line x1="1469.5" y1="1557.1" x2="1469.5" y2="1540.1" stroke="#a8a8a8" stroke-width="1.5"/>
<line x1="1483.6" y1="1557.1" x2="1483.6" y2="1533.8" stroke="#a8a8a8" stroke-width="1.5"/>
<line x1="1487.3" y1="1557.1" x2="1487.3" y2="1532.3" stroke="#a8a8a8" stroke-width="1.5"/>
<line x1="1499" y1="1557.1" x2="1499" y2="1528.5" stroke="#a8a8a8" stroke-width="1.5"/>
<line x1="1539.2" y1="1557.1" x2="1539.2" y2="1538.7" stroke="#a8a8a8" stroke-width="1.5"/>
<line x1="1545.4" y1="1557.1" x2="1545.4" y2="1535.7" stroke="#a8a8a8" stroke-width="1.5"/>
<line x1="1552.7" y1="1557.1" x2="1552.7" y2="1528.9" stroke="#a8a8a8" stroke-width="1.5"/>
<line x1="1591" y1="1557.1" x2="1591" y2="1513.4" stroke="#a8a8a8" stroke-width="1.5"/>
<line x1="1273.2" y1="1557.1" x2="1273.2" y2="1534.8" stroke="#a8a8a8" stroke-width="1.5"/>
<line x1="1284.8" y1="1557.1" x2="1284.8" y2="1526" stroke="#a8a8a8" stroke-width="1.5"/>
<line x1="1289.5" y1="1557.1" x2="1289.5" y2="1533.3" stroke="#a8a8a8" stroke-width="1.5"/>
<line x1="1310" y1="1557.1" x2="1310" y2="1524.1" stroke="#a8a8a8" stroke-width="1.5"/>
<line x1="1622.6" y1="1557.1" x2="1622.6" y2="1451.2" stroke="#b0b0b0" stroke-width="1.5"/>
<line x1="1631.4" y1="1557.1" x2="1631.4" y2="1506.1" stroke="#a8a8a8" stroke-width="1.5"/>
<line x1="1640.5" y1="1557.1" x2="1640.5" y2="1504.6" stroke="#a8a8a8" stroke-width="1.5"/>
<line x1="1652.4" y1="1557.1" x2="1652.4" y2="1525.1" stroke="#a8a8a8" stroke-width="1.5"/>
<line x1="1657.1" y1="1557.1" x2="1657.1" y2="1506.1" stroke="#a8a8a8" stroke-width="1.5"/>
<line x1="1667.2" y1="1557.1" x2="1667.2" y2="1496.9" stroke="#a8a8a8" stroke-width="1.5"/>
<line x1="1662.8" y1="1557.1" x2="1662.8" y2="1532.3" stroke="#a8a8a8" stroke-width="1.5"/>
<line x1="1708.9" y1="1557.1" x2="1708.9" y2="1480.8" stroke="#a8a8a8" stroke-width="1.5"/>
<line x1="1722.4" y1="1557.1" x2="1722.4" y2="1521.2" stroke="#a8a8a8" stroke-width="1.5"/>
<line x1="1719.3" y1="1557.1" x2="1719.3" y2="1533.3" stroke="#a8a8a8" stroke-width="1.5"/>
<line x1="1747.5" y1="1557.1" x2="1747.5" y2="1483.7" stroke="#a8a8a8" stroke-width="1.5"/>
<line x1="1751.9" y1="1557.1" x2="1751.9" y2="1476.5" stroke="#a8a8a8" stroke-width="1.5"/>
<line x1="1749.8" y1="1557.1" x2="1749.8" y2="1533.8" stroke="#a8a8a8" stroke-width="1.5"/>
<line x1="1761.3" y1="1557.1" x2="1761.3" y2="1533.3" stroke="#a8a8a8" stroke-width="1.5"/>
<line x1="1771.7" y1="1557.1" x2="1771.7" y2="1481.8" stroke="#a8a8a8" stroke-width="1.5"/>
<line x1="1781.8" y1="1557.1" x2="1781.8" y2="1493" stroke="#a8a8a8" stroke-width="1.5"/>
<line x1="1789" y1="1557.1" x2="1789" y2="1493" stroke="#a8a8a8" stroke-width="1.5"/>
<line x1="1793.7" y1="1557.1" x2="1793.7" y2="1408.9" stroke="#b0b0b0" stroke-width="1.5"/>
<line x1="1796.8" y1="1557.1" x2="1796.8" y2="1461.4" stroke="#b0b0b0" stroke-width="1.5"/>
<line x1="1798.7" y1="1557.1" x2="1798.7" y2="1436.6" stroke="#b0b0b0" stroke-width="1.5"/>
<line x1="1800.6" y1="1557.1" x2="1800.6" y2="1135.3" stroke="#b0b0b0" stroke-width="1.5"/>
<line x1="1801.6" y1="1557.1" x2="1801.6" y2="1373.4" stroke="#b0b0b0" stroke-width="1.5"/>
<line x1="1840.2" y1="1557.1" x2="1840.2" y2="1528.9" stroke="#a8a8a8" stroke-width="1.5"/>
<line x1="1871.2" y1="1557.1" x2="1871.2" y2="1517.8" stroke="#a8a8a8" stroke-width="1.5"/>
<line x1="1935" y1="1557.1" x2="1935" y2="1528.9" stroke="#a8a8a8" stroke-width="1.5"/>
<line x1="1952.2" y1="1557.1" x2="1952.2" y2="1524.1" stroke="#a8a8a8" stroke-width="1.5"/>
<line x1="1955" y1="1557.1" x2="1955" y2="1516.8" stroke="#a8a8a8" stroke-width="1.5"/>
<line x1="1967" y1="1557.1" x2="1967" y2="1534.8" stroke="#a8a8a8" stroke-width="1.5"/>
<line x1="1986.1" y1="1557.1" x2="1986.1" y2="1435.6" stroke="#b0b0b0" stroke-width="1.5"/>
<line x1="2009.4" y1="1557.1" x2="2009.4" y2="1441.5" stroke="#b0b0b0" stroke-width="1.5"/>
<line x1="2043.9" y1="1557.1" x2="2043.9" y2="1529.9" stroke="#a8a8a8" stroke-width="1.5"/>
<line x1="2054.9" y1="1557.1" x2="2054.9" y2="1530.9" stroke="#a8a8a8" stroke-width="1.5"/>
<line x1="2089.4" y1="1557.1" x2="2089.4" y2="1510.5" stroke="#a8a8a8" stroke-width="1.5"/>
<line x1="2095.7" y1="1557.1" x2="2095.7" y2="1522.1" stroke="#a8a8a8" stroke-width="1.5"/>
<line x1="2101.4" y1="1557.1" x2="2101.4" y2="1520.7" stroke="#a8a8a8" stroke-width="1.5"/>
<line x1="2104.5" y1="1557.1" x2="2104.5" y2="1510.5" stroke="#a8a8a8" stroke-width="1.5"/>
<line x1="2107" y1="1557.1" x2="2107" y2="1389" stroke="#b0b0b0" stroke-width="1.5"/>
<line x1="2108.2" y1="1557.1" x2="2108.2" y2="1499.8" stroke="#a8a8a8" stroke-width="1.5"/>
<line x1="2115" y1="1557.1" x2="2115" y2="1528.9" stroke="#a8a8a8" stroke-width="1.5"/>
<line x1="1904" y1="1557.1" x2="1904" y2="1504.6" stroke="#a8a8a8" stroke-width="1.5"/>
<line x1="1582" y1="1557.1" x2="1582" y2="1494.9" stroke="#a8a8a8" stroke-width="1.5"/>
<line x1="1616.5" y1="1557.1" x2="1616.5" y2="1509.5" stroke="#a8a8a8" stroke-width="1.5"/>
<line x1="1645" y1="1557.1" x2="1645" y2="1451.2" stroke="#b0b0b0" stroke-width="1.5"/>
<line x1="1643.5" y1="1557.1" x2="1643.5" y2="1397.2" stroke="#7f8082" stroke-width="2.3"/>
<line x1="2113.3" y1="1557.1" x2="2113.3" y2="1312.2" stroke="#8f9092" stroke-width="3.6"/>
<line x1="1232.7" y1="1557.1" x2="1232.7" y2="1530.9" stroke="#c5233f" stroke-width="3"/>
<line x1="1231.4" y1="1557.1" x2="1231.4" y2="1536.2" stroke="#12a04c" stroke-width="3"/>
<line x1="1260.7" y1="1557.1" x2="1260.7" y2="1530.9" stroke="#c5233f" stroke-width="3"/>
<line x1="1277.9" y1="1557.1" x2="1277.9" y2="1441.9" stroke="#12a04c" stroke-width="3"/>
<line x1="1299.6" y1="1557.1" x2="1299.6" y2="1533.8" stroke="#f0932f" stroke-width="3"/>
<line x1="1306.2" y1="1557.1" x2="1306.2" y2="1540.1" stroke="#c5233f" stroke-width="3"/>
<line x1="1339.2" y1="1557.1" x2="1339.2" y2="1532.3" stroke="#f0932f" stroke-width="3"/>
<line x1="1346.7" y1="1557.1" x2="1346.7" y2="1502.2" stroke="#12a04c" stroke-width="3"/>
<line x1="1385.1" y1="1557.1" x2="1385.1" y2="1527" stroke="#f0932f" stroke-width="4"/>
<line x1="1387.4" y1="1557.1" x2="1387.4" y2="1452.6" stroke="#12a04c" stroke-width="3"/>
<line x1="1415.4" y1="1557.1" x2="1415.4" y2="1533.3" stroke="#12a04c" stroke-width="3"/>
<line x1="1455.6" y1="1557.1" x2="1455.6" y2="1472.1" stroke="#12a04c" stroke-width="3"/>
<line x1="1501.5" y1="1557.1" x2="1501.5" y2="1477.4" stroke="#12a04c" stroke-width="3"/>
<line x1="1517.2" y1="1557.1" x2="1517.2" y2="1527.5" stroke="#c5233f" stroke-width="3"/>
<line x1="1569.6" y1="1557.1" x2="1569.6" y2="1528.5" stroke="#12a04c" stroke-width="3"/>
<line x1="1580.8" y1="1557.1" x2="1580.8" y2="1308.8" stroke="#c5233f" stroke-width="3"/>
<line x1="1615.4" y1="1557.1" x2="1615.4" y2="1502.2" stroke="#12a04c" stroke-width="3"/>
<line x1="1617.8" y1="1557.1" x2="1617.8" y2="1512.4" stroke="#c5233f" stroke-width="3"/>
<line x1="1678.1" y1="1557.1" x2="1678.1" y2="1530.9" stroke="#c5233f" stroke-width="3"/>
<line x1="1775.5" y1="1557.1" x2="1775.5" y2="1460.9" stroke="#12a04c" stroke-width="3"/>
<line x1="1785.2" y1="1557.1" x2="1785.2" y2="1528.9" stroke="#f0932f" stroke-width="3.6"/>
<line x1="1899.3" y1="1557.1" x2="1899.3" y2="1513.4" stroke="#f0932f" stroke-width="3.4"/>
<line x1="1901.6" y1="1557.1" x2="1901.6" y2="1438.5" stroke="#12a04c" stroke-width="3"/>
<line x1="1906.1" y1="1557.1" x2="1906.1" y2="1498.8" stroke="#c5233f" stroke-width="3"/>
<line x1="1940.3" y1="1557.1" x2="1940.3" y2="1528.9" stroke="#f0932f" stroke-width="3.4"/>
<line x1="1947.8" y1="1557.1" x2="1947.8" y2="1503.2" stroke="#12a04c" stroke-width="3"/>
<line x1="1987.2" y1="1557.1" x2="1987.2" y2="1501.2" stroke="#12a04c" stroke-width="3"/>
<line x1="1986.8" y1="1557.1" x2="1986.8" y2="1508.5" stroke="#c5233f" stroke-width="3"/>
<line x1="2009.1" y1="1557.1" x2="2009.1" y2="1528.9" stroke="#f0932f" stroke-width="3.6"/>
<line x1="2032.3" y1="1557.1" x2="2032.3" y2="1508.5" stroke="#12a04c" stroke-width="3"/>
<line x1="2060.6" y1="1557.1" x2="2060.6" y2="1494.4" stroke="#c5233f" stroke-width="3"/>
<line x1="2060.6" y1="1557.1" x2="2060.6" y2="1504.2" stroke="#12a04c" stroke-width="3"/>
<line x1="1188.6" y1="1558.1" x2="1197" y2="1558.1" stroke="#000" stroke-width="4"/>
<text x="1184" y="1563.4" font-size="16.5" fill="#808080" text-anchor="end" textLength="24" lengthAdjust="spacingAndGlyphs">0.0</text>
<line x1="1188.6" y1="1509.5" x2="1197" y2="1509.5" stroke="#000" stroke-width="4"/>
<text x="1184" y="1514.8" font-size="16.5" fill="#808080" text-anchor="end" textLength="16" lengthAdjust="spacingAndGlyphs">10</text>
<line x1="1188.6" y1="1460.9" x2="1197" y2="1460.9" stroke="#000" stroke-width="4"/>
<text x="1184" y="1466.2" font-size="16.5" fill="#808080" text-anchor="end" textLength="20" lengthAdjust="spacingAndGlyphs">20</text>
<line x1="1188.6" y1="1412.3" x2="1197" y2="1412.3" stroke="#000" stroke-width="4"/>
<text x="1184" y="1417.6" font-size="16.5" fill="#808080" text-anchor="end" textLength="20" lengthAdjust="spacingAndGlyphs">30</text>
<line x1="1188.6" y1="1363.7" x2="1197" y2="1363.7" stroke="#000" stroke-width="4"/>
<text x="1184" y="1369" font-size="16.5" fill="#808080" text-anchor="end" textLength="20" lengthAdjust="spacingAndGlyphs">40</text>
<line x1="1188.6" y1="1315.1" x2="1197" y2="1315.1" stroke="#000" stroke-width="4"/>
<text x="1184" y="1320.4" font-size="16.5" fill="#808080" text-anchor="end" textLength="20" lengthAdjust="spacingAndGlyphs">50</text>
<line x1="1188.6" y1="1266.5" x2="1197" y2="1266.5" stroke="#000" stroke-width="4"/>
<text x="1184" y="1271.8" font-size="16.5" fill="#808080" text-anchor="end" textLength="20" lengthAdjust="spacingAndGlyphs">60</text>
<line x1="1188.6" y1="1217.9" x2="1197" y2="1217.9" stroke="#000" stroke-width="4"/>
<text x="1184" y="1223.2" font-size="16.5" fill="#808080" text-anchor="end" textLength="20" lengthAdjust="spacingAndGlyphs">70</text>
<line x1="1188.6" y1="1169.3" x2="1197" y2="1169.3" stroke="#000" stroke-width="4"/>
<text x="1184" y="1174.6" font-size="16.5" fill="#808080" text-anchor="end" textLength="20" lengthAdjust="spacingAndGlyphs">80</text>
<line x1="1188.6" y1="1120.7" x2="1197" y2="1120.7" stroke="#000" stroke-width="4"/>
<text x="1184" y="1126" font-size="16.5" fill="#808080" text-anchor="end" textLength="20" lengthAdjust="spacingAndGlyphs">90</text>
<line x1="1188.6" y1="1072.1" x2="1197" y2="1072.1" stroke="#000" stroke-width="4"/>
<text x="1184" y="1077.4" font-size="16.5" fill="#808080" text-anchor="end" textLength="26" lengthAdjust="spacingAndGlyphs">100</text>
<line x1="1188.6" y1="1048.6" x2="1197" y2="1048.6" stroke="#000" stroke-width="4.2"/>
<line x1="1197" y1="1046.6" x2="1197" y2="1565.9" stroke="#000" stroke-width="4.6"/>
<line x1="1194.7" y1="1558.1" x2="2139.1" y2="1558.1" stroke="#000" stroke-width="4.6"/>
<line x1="2136.8" y1="1558.1" x2="2136.8" y2="1565.9" stroke="#000" stroke-width="4.6"/>
<line x1="1253.1" y1="1558.1" x2="1253.1" y2="1565.9" stroke="#000" stroke-width="4"/>
<text x="1253.1" y="1582.4" font-size="16.5" fill="#808080" text-anchor="middle" textLength="30" lengthAdjust="spacingAndGlyphs">200</text>
<line x1="1333.1" y1="1558.1" x2="1333.1" y2="1565.9" stroke="#000" stroke-width="4"/>
<text x="1333.1" y="1582.4" font-size="16.5" fill="#808080" text-anchor="middle" textLength="30" lengthAdjust="spacingAndGlyphs">400</text>
<line x1="1413.1" y1="1558.1" x2="1413.1" y2="1565.9" stroke="#000" stroke-width="4"/>
<text x="1413.1" y="1582.4" font-size="16.5" fill="#808080" text-anchor="middle" textLength="30" lengthAdjust="spacingAndGlyphs">600</text>
<line x1="1493.1" y1="1558.1" x2="1493.1" y2="1565.9" stroke="#000" stroke-width="4"/>
<text x="1493.1" y="1582.4" font-size="16.5" fill="#808080" text-anchor="middle" textLength="30" lengthAdjust="spacingAndGlyphs">800</text>
<line x1="1573.1" y1="1558.1" x2="1573.1" y2="1565.9" stroke="#000" stroke-width="4"/>
<text x="1573.1" y="1582.4" font-size="16.5" fill="#808080" text-anchor="middle" textLength="39.5" lengthAdjust="spacingAndGlyphs">1,000</text>
<line x1="1653.1" y1="1558.1" x2="1653.1" y2="1565.9" stroke="#000" stroke-width="4"/>
<text x="1653.1" y="1582.4" font-size="16.5" fill="#808080" text-anchor="middle" textLength="39.5" lengthAdjust="spacingAndGlyphs">1,200</text>
<line x1="1733.1" y1="1558.1" x2="1733.1" y2="1565.9" stroke="#000" stroke-width="4"/>
<text x="1733.1" y="1582.4" font-size="16.5" fill="#808080" text-anchor="middle" textLength="39.5" lengthAdjust="spacingAndGlyphs">1,400</text>
<line x1="1813.1" y1="1558.1" x2="1813.1" y2="1565.9" stroke="#000" stroke-width="4"/>
<text x="1813.1" y="1582.4" font-size="16.5" fill="#808080" text-anchor="middle" textLength="39.5" lengthAdjust="spacingAndGlyphs">1,600</text>
<line x1="1893.1" y1="1558.1" x2="1893.1" y2="1565.9" stroke="#000" stroke-width="4"/>
<text x="1893.1" y="1582.4" font-size="16.5" fill="#808080" text-anchor="middle" textLength="39.5" lengthAdjust="spacingAndGlyphs">1,800</text>
<line x1="1973.1" y1="1558.1" x2="1973.1" y2="1565.9" stroke="#000" stroke-width="4"/>
<text x="1973.1" y="1582.4" font-size="16.5" fill="#808080" text-anchor="middle" textLength="43.5" lengthAdjust="spacingAndGlyphs">2,000</text>
<line x1="2053.1" y1="1558.1" x2="2053.1" y2="1565.9" stroke="#000" stroke-width="4"/>
<text x="2053.1" y="1582.4" font-size="16.5" fill="#808080" text-anchor="middle" textLength="43.5" lengthAdjust="spacingAndGlyphs">2,200</text>
<line x1="2133.1" y1="1558.1" x2="2133.1" y2="1565.9" stroke="#000" stroke-width="4"/>
<text x="2133.1" y="1582.4" font-size="16.5" fill="#808080" text-anchor="middle" textLength="43.5" lengthAdjust="spacingAndGlyphs">2,400</text>
<text transform="translate(1136.5 1298) rotate(-90)" font-size="21.6" font-weight="bold" text-anchor="middle" textLength="281" lengthAdjust="spacingAndGlyphs" stroke="#000" stroke-width="1.1" fill="#000">Relative Abundance (%)</text>
<text x="1619.2" y="1606.8" font-size="24" font-weight="bold" font-style="italic" textLength="42" lengthAdjust="spacingAndGlyphs" stroke="#000" stroke-width="1.2">m/z</text>
<text x="1217.5" y="1528.3" font-size="19.5" fill="#000" stroke="#000" stroke-width="0.5">y<tspan font-size="11.5" font-weight="bold" dy="3">1</tspan></text>
<text x="1217" y="1535" font-size="19.5" fill="#000" stroke="#000" stroke-width="0.5">c<tspan font-size="11.5" font-weight="bold" dy="3">1</tspan></text>
<text x="1246" y="1527.3" font-size="19.5" fill="#000" stroke="#000" stroke-width="0.5">y<tspan font-size="11.5" font-weight="bold" dy="3">2</tspan></text>
<text x="1263" y="1439" font-size="19.5" fill="#000" stroke="#000" stroke-width="0.5">c<tspan font-size="11.5" font-weight="bold" dy="3">2</tspan></text>
<text x="1281" y="1524" font-size="19.5" fill="#000" stroke="#000" stroke-width="0.5">z•<tspan font-size="11.5" font-weight="bold" dy="3">3</tspan></text>
<text x="1291" y="1537.3" font-size="19.5" fill="#000" stroke="#000" stroke-width="0.5">y<tspan font-size="11.5" font-weight="bold" dy="3">3</tspan></text>
<text x="1320" y="1529" font-size="19.5" fill="#000" stroke="#000" stroke-width="0.5">z•<tspan font-size="11.5" font-weight="bold" dy="3">4</tspan></text>
<text x="1332" y="1501" font-size="19.5" fill="#000" stroke="#000" stroke-width="0.5">c<tspan font-size="11.5" font-weight="bold" dy="3">4</tspan></text>
<text x="1366" y="1523" font-size="19.5" fill="#000" stroke="#000" stroke-width="0.5">z•<tspan font-size="11.5" font-weight="bold" dy="3">5</tspan></text>
<text x="1372" y="1452" font-size="19.5" fill="#000" stroke="#000" stroke-width="0.5">c<tspan font-size="11.5" font-weight="bold" dy="3">5</tspan></text>
<text x="1400.5" y="1532" font-size="19.5" fill="#000" stroke="#000" stroke-width="0.5">c<tspan font-size="11.5" font-weight="bold" dy="3">6</tspan></text>
<text x="1441" y="1469" font-size="19.5" fill="#000" stroke="#000" stroke-width="0.5">c<tspan font-size="11.5" font-weight="bold" dy="3">7</tspan></text>
<text x="1487" y="1475" font-size="19.5" fill="#000" stroke="#000" stroke-width="0.5">c<tspan font-size="11.5" font-weight="bold" dy="3">8</tspan></text>
<text x="1503" y="1525.3" font-size="19.5" fill="#000" stroke="#000" stroke-width="0.5">y<tspan font-size="11.5" font-weight="bold" dy="3">8</tspan></text>
<text x="1547" y="1528" font-size="19.5" fill="#000" stroke="#000" stroke-width="0.5">c<tspan font-size="11.5" font-weight="bold" dy="3">10</tspan></text>
<text x="1657.5" y="1528.3" font-size="19.5" fill="#000" stroke="#000" stroke-width="0.5">y<tspan font-size="11.5" font-weight="bold" dy="3">9</tspan></text>
<text x="1753" y="1459" font-size="19.5" fill="#000" stroke="#000" stroke-width="0.5">c<tspan font-size="11.5" font-weight="bold" dy="3">12</tspan></text>
<text x="1758" y="1526" font-size="19.5" fill="#000" stroke="#000" stroke-width="0.5">z•<tspan font-size="11.5" font-weight="bold" dy="3">12</tspan></text>
<text x="1879" y="1436" font-size="19.5" fill="#000" stroke="#000" stroke-width="0.5">c<tspan font-size="11.5" font-weight="bold" dy="3">15</tspan></text>
<text x="1884" y="1494.3" font-size="19.5" fill="#000" stroke="#000" stroke-width="0.5">y<tspan font-size="11.5" font-weight="bold" dy="3">15</tspan></text>
<text x="1873" y="1508" font-size="19.5" fill="#000" stroke="#000" stroke-width="0.5">z•<tspan font-size="11.5" font-weight="bold" dy="3">15</tspan></text>
<text x="1913" y="1528" font-size="19.5" fill="#000" stroke="#000" stroke-width="0.5">z•<tspan font-size="11.5" font-weight="bold" dy="3">16</tspan></text>
<text x="1925" y="1501" font-size="19.5" fill="#000" stroke="#000" stroke-width="0.5">c<tspan font-size="11.5" font-weight="bold" dy="3">16</tspan></text>
<text x="1964" y="1500" font-size="19.5" fill="#000" stroke="#000" stroke-width="0.5">c<tspan font-size="11.5" font-weight="bold" dy="3">17</tspan></text>
<text x="1965" y="1507.3" font-size="19.5" fill="#000" stroke="#000" stroke-width="0.5">y<tspan font-size="11.5" font-weight="bold" dy="3">17</tspan></text>
<text x="1982" y="1525" font-size="19.5" fill="#000" stroke="#000" stroke-width="0.5">z•<tspan font-size="11.5" font-weight="bold" dy="3">18</tspan></text>
<text x="2009" y="1508" font-size="19.5" fill="#000" stroke="#000" stroke-width="0.5">c<tspan font-size="11.5" font-weight="bold" dy="3">18</tspan></text>
<text x="2039" y="1490.3" font-size="19.5" fill="#000" stroke="#000" stroke-width="0.5">y<tspan font-size="11.5" font-weight="bold" dy="3">19</tspan></text>
<text x="2038" y="1501" font-size="19.5" fill="#000" stroke="#000" stroke-width="0.5">c<tspan font-size="11.5" font-weight="bold" dy="3">19</tspan></text>
<text x="1546" y="1305.3" font-size="19.5" fill="#000" stroke="#000" stroke-width="0.5">y<tspan font-size="11.5" font-weight="bold" dy="3">17</tspan><tspan font-size="11.5" font-weight="bold" dx="0" dy="-12">+2</tspan></text>
<text x="1592" y="1506" font-size="19.5" fill="#000" stroke="#000" stroke-width="0.5">c<tspan font-size="11.5" font-weight="bold" dy="3">17</tspan><tspan font-size="11.5" font-weight="bold" dx="-7" dy="-12">+2</tspan></text>
<text x="1584" y="1514.3" font-size="19.5" fill="#000" stroke="#000" stroke-width="0.5">y<tspan font-size="11.5" font-weight="bold" dy="3">19</tspan></text>
<text x="1596.3" y="1395.8" font-size="21" fill="#000">[M+3H]<tspan font-size="12" font-weight="bold" dy="-9">+2</tspan></text>
<text x="2068.4" y="1311" font-size="21" fill="#000" textLength="69" lengthAdjust="spacingAndGlyphs">[M+3H]</text>
<line x1="1197.3" y1="1708.6" x2="2136.8" y2="1708.6" stroke="#dddddd" stroke-width="1"/>
<line x1="1197.3" y1="1708.6" x2="1250.9" y2="1708.6" stroke="#a7a9ab" stroke-width="5"/>
<line x1="1277.8" y1="1708.6" x2="1331.4" y2="1708.6" stroke="#a7a9ab" stroke-width="5"/>
<line x1="1358.4" y1="1708.6" x2="1412" y2="1708.6" stroke="#a7a9ab" stroke-width="5"/>
<line x1="1438.9" y1="1708.6" x2="1492.5" y2="1708.6" stroke="#a7a9ab" stroke-width="5"/>
<line x1="1519.5" y1="1708.6" x2="1573.1" y2="1708.6" stroke="#a7a9ab" stroke-width="5"/>
<line x1="1600" y1="1708.6" x2="1653.6" y2="1708.6" stroke="#a7a9ab" stroke-width="5"/>
<line x1="1680.6" y1="1708.6" x2="1734.2" y2="1708.6" stroke="#a7a9ab" stroke-width="5"/>
<line x1="1761.1" y1="1708.6" x2="1814.7" y2="1708.6" stroke="#a7a9ab" stroke-width="5"/>
<line x1="1841.7" y1="1708.6" x2="1895.3" y2="1708.6" stroke="#a7a9ab" stroke-width="5"/>
<line x1="1922.2" y1="1708.6" x2="1975.8" y2="1708.6" stroke="#a7a9ab" stroke-width="5"/>
<line x1="2002.8" y1="1708.6" x2="2056.4" y2="1708.6" stroke="#a7a9ab" stroke-width="5"/>
<line x1="2083.3" y1="1708.6" x2="2134.8" y2="1708.6" stroke="#a7a9ab" stroke-width="5"/>
<circle cx="1232.1" cy="1732.5" r="5.6" fill="#12a04c"/>
<circle cx="1260.7" cy="1731.6" r="5.6" fill="#c5233f"/>
<circle cx="1277.9" cy="1724.2" r="5.6" fill="#12a04c"/>
<circle cx="1299.6" cy="1734" r="5.6" fill="#f0932f"/>
<circle cx="1306.2" cy="1707.1" r="5.6" fill="#c5233f"/>
<circle cx="1346.7" cy="1724.2" r="5.6" fill="#12a04c"/>
<circle cx="1339.2" cy="1721.8" r="5.6" fill="#f0932f"/>
<circle cx="1387.2" cy="1723.6" r="5.6" fill="#12a04c"/>
<circle cx="1385.3" cy="1724.8" r="5.6" fill="#f0932f"/>
<circle cx="1415.4" cy="1716" r="5.6" fill="#12a04c"/>
<circle cx="1455.6" cy="1731.6" r="5.6" fill="#12a04c"/>
<circle cx="1501.5" cy="1722.7" r="5.6" fill="#12a04c"/>
<circle cx="1517.2" cy="1714.9" r="5.6" fill="#c5233f"/>
<circle cx="1569.6" cy="1704.9" r="5.6" fill="#12a04c"/>
<circle cx="1580.6" cy="1663.5" r="5.6" fill="#c5233f"/>
<circle cx="1617.6" cy="1701.6" r="5.6" fill="#c5233f"/>
<circle cx="1614.5" cy="1728.5" r="5.6" fill="#12a04c"/>
<circle cx="1617.6" cy="1728.5" r="5.6" fill="#12a04c"/>
<circle cx="1643.2" cy="1743.8" r="5.6" fill="#6d6e70"/>
<circle cx="1678.1" cy="1728.5" r="5.6" fill="#c5233f"/>
<circle cx="1775.5" cy="1732.5" r="5.6" fill="#12a04c"/>
<circle cx="1784.9" cy="1711.7" r="5.6" fill="#f0932f"/>
<circle cx="1902.6" cy="1720.6" r="5.6" fill="#12a04c"/>
<circle cx="1899.5" cy="1720.2" r="5.6" fill="#f0932f"/>
<circle cx="1906.1" cy="1736.2" r="5.6" fill="#c5233f"/>
<circle cx="1940" cy="1734.7" r="5.6" fill="#f0932f"/>
<circle cx="1947.5" cy="1722.4" r="5.6" fill="#12a04c"/>
<circle cx="1987.1" cy="1674" r="5.6" fill="#12a04c"/>
<circle cx="1986.8" cy="1670.6" r="5.6" fill="#c5233f"/>
<circle cx="2008.8" cy="1704.3" r="5.6" fill="#f0932f"/>
<circle cx="2032.3" cy="1708.9" r="5.6" fill="#12a04c"/>
<circle cx="2061.2" cy="1699.7" r="5.6" fill="#c5233f"/>
<circle cx="2060.6" cy="1740.8" r="5.6" fill="#12a04c"/>
<circle cx="2113" cy="1747.2" r="5.6" fill="#6d6e70"/>
<line x1="1188.9" y1="1641.8" x2="2139.1" y2="1641.8" stroke="#000" stroke-width="4.3"/>
<line x1="1188.9" y1="1774.9" x2="2139.1" y2="1774.9" stroke="#000" stroke-width="4.3"/>
<line x1="1197.3" y1="1633.4" x2="1197.3" y2="1774.9" stroke="#000" stroke-width="4.6"/>
<line x1="2136.8" y1="1633.4" x2="2136.8" y2="1774.9" stroke="#000" stroke-width="4.6"/>
<line x1="1188.9" y1="1647.3" x2="1197.3" y2="1647.3" stroke="#000" stroke-width="3.8"/>
<text x="1184.3" y="1652.6" font-size="16.5" fill="#808080" text-anchor="end" textLength="20" lengthAdjust="spacingAndGlyphs">20</text>
<line x1="1188.9" y1="1677.9" x2="1197.3" y2="1677.9" stroke="#000" stroke-width="3.8"/>
<text x="1184.3" y="1683.2" font-size="16.5" fill="#808080" text-anchor="end" textLength="16" lengthAdjust="spacingAndGlyphs">10</text>
<line x1="1188.9" y1="1708.6" x2="1197.3" y2="1708.6" stroke="#000" stroke-width="3.8"/>
<text x="1184.3" y="1713.9" font-size="16.5" fill="#808080" text-anchor="end" textLength="10" lengthAdjust="spacingAndGlyphs">0</text>
<line x1="1188.9" y1="1739.2" x2="1197.3" y2="1739.2" stroke="#000" stroke-width="3.8"/>
<text x="1184.3" y="1744.5" font-size="16.5" fill="#808080" text-anchor="end" textLength="22.5" lengthAdjust="spacingAndGlyphs">-10</text>
<line x1="1188.9" y1="1769.9" x2="1197.3" y2="1769.9" stroke="#000" stroke-width="3.8"/>
<text x="1184.3" y="1775.2" font-size="16.5" fill="#808080" text-anchor="end" textLength="26.5" lengthAdjust="spacingAndGlyphs">-20</text>
<line x1="1253.1" y1="1633.4" x2="1253.1" y2="1641.8" stroke="#000" stroke-width="3.8"/>
<text x="1253.1" y="1629.7" font-size="16.5" fill="#808080" text-anchor="middle" textLength="30" lengthAdjust="spacingAndGlyphs">200</text>
<line x1="1333.1" y1="1633.4" x2="1333.1" y2="1641.8" stroke="#000" stroke-width="3.8"/>
<text x="1333.1" y="1629.7" font-size="16.5" fill="#808080" text-anchor="middle" textLength="30" lengthAdjust="spacingAndGlyphs">400</text>
<line x1="1413.1" y1="1633.4" x2="1413.1" y2="1641.8" stroke="#000" stroke-width="3.8"/>
<text x="1413.1" y="1629.7" font-size="16.5" fill="#808080" text-anchor="middle" textLength="30" lengthAdjust="spacingAndGlyphs">600</text>
<line x1="1493.1" y1="1633.4" x2="1493.1" y2="1641.8" stroke="#000" stroke-width="3.8"/>
<text x="1493.1" y="1629.7" font-size="16.5" fill="#808080" text-anchor="middle" textLength="30" lengthAdjust="spacingAndGlyphs">800</text>
<line x1="1573.1" y1="1633.4" x2="1573.1" y2="1641.8" stroke="#000" stroke-width="3.8"/>
<text x="1573.1" y="1629.7" font-size="16.5" fill="#808080" text-anchor="middle" textLength="39.5" lengthAdjust="spacingAndGlyphs">1,000</text>
<line x1="1653.1" y1="1633.4" x2="1653.1" y2="1641.8" stroke="#000" stroke-width="3.8"/>
<text x="1653.1" y="1629.7" font-size="16.5" fill="#808080" text-anchor="middle" textLength="39.5" lengthAdjust="spacingAndGlyphs">1,200</text>
<line x1="1733.1" y1="1633.4" x2="1733.1" y2="1641.8" stroke="#000" stroke-width="3.8"/>
<text x="1733.1" y="1629.7" font-size="16.5" fill="#808080" text-anchor="middle" textLength="39.5" lengthAdjust="spacingAndGlyphs">1,400</text>
<line x1="1813.1" y1="1633.4" x2="1813.1" y2="1641.8" stroke="#000" stroke-width="3.8"/>
<text x="1813.1" y="1629.7" font-size="16.5" fill="#808080" text-anchor="middle" textLength="39.5" lengthAdjust="spacingAndGlyphs">1,600</text>
<line x1="1893.1" y1="1633.4" x2="1893.1" y2="1641.8" stroke="#000" stroke-width="3.8"/>
<text x="1893.1" y="1629.7" font-size="16.5" fill="#808080" text-anchor="middle" textLength="39.5" lengthAdjust="spacingAndGlyphs">1,800</text>
<line x1="1973.1" y1="1633.4" x2="1973.1" y2="1641.8" stroke="#000" stroke-width="3.8"/>
<text x="1973.1" y="1629.7" font-size="16.5" fill="#808080" text-anchor="middle" textLength="43.5" lengthAdjust="spacingAndGlyphs">2,000</text>
<line x1="2053.1" y1="1633.4" x2="2053.1" y2="1641.8" stroke="#000" stroke-width="3.8"/>
<text x="2053.1" y="1629.7" font-size="16.5" fill="#808080" text-anchor="middle" textLength="43.5" lengthAdjust="spacingAndGlyphs">2,200</text>
<line x1="2133.1" y1="1633.4" x2="2133.1" y2="1641.8" stroke="#000" stroke-width="3.8"/>
<text x="2133.1" y="1629.7" font-size="16.5" fill="#808080" text-anchor="middle" textLength="43.5" lengthAdjust="spacingAndGlyphs">2,400</text>
<text transform="translate(1138 1708) rotate(-90)" font-size="21.6" font-weight="bold" text-anchor="middle" textLength="130" lengthAdjust="spacingAndGlyphs" stroke="#000" stroke-width="1.1" fill="#000">Error (ppm)</text>
<text x="18.2" y="1889.7" font-size="55" fill="#231f20" font-weight="bold" textLength="44.6" lengthAdjust="spacingAndGlyphs" stroke="#231f20" stroke-width="1.2">E)</text>
<text class="mono" x="340.7 379.9 419.1 458.3 497.5 536.7 575.9 615.1 654.3 693.5 732.7 771.9" y="1885.5" font-size="35.5" fill="#222" text-anchor="middle">GNDPHDSLVGIK</text>
<polyline points="389.4,1859 399.4,1869.5 399.4,1885.6" fill="none" stroke="#1b75bb" stroke-width="4.2" stroke-linejoin="miter"/>
<polyline points="399.4,1885.6 399.4,1901.4 409.4,1911.6" fill="none" stroke="#c5233f" stroke-width="4.2" stroke-linejoin="miter"/>
<polyline points="428.6,1859 438.6,1869.5 438.6,1885.6" fill="none" stroke="#1b75bb" stroke-width="4.2" stroke-linejoin="miter"/>
<polyline points="438.6,1885.6 438.6,1901.4 448.6,1911.6" fill="none" stroke="#c5233f" stroke-width="4.2" stroke-linejoin="miter"/>
<polyline points="477.8,1885.6 477.8,1901.4 487.8,1911.6" fill="none" stroke="#c5233f" stroke-width="4.2" stroke-linejoin="miter"/>
<polyline points="517,1885.6 517,1901.4 527,1911.6" fill="none" stroke="#c5233f" stroke-width="4.2" stroke-linejoin="miter"/>
<polyline points="546.2,1859 556.2,1869.5 556.2,1885.6" fill="none" stroke="#1b75bb" stroke-width="4.2" stroke-linejoin="miter"/>
<polyline points="556.2,1885.6 556.2,1901.4 566.2,1911.6" fill="none" stroke="#c5233f" stroke-width="4.2" stroke-linejoin="miter"/>
<polyline points="585.4,1859 595.4,1869.5 595.4,1885.6" fill="none" stroke="#1b75bb" stroke-width="4.2" stroke-linejoin="miter"/>
<polyline points="624.6,1859 634.6,1869.5 634.6,1885.6" fill="none" stroke="#1b75bb" stroke-width="4.2" stroke-linejoin="miter"/>
<polyline points="634.6,1885.6 634.6,1901.4 644.6,1911.6" fill="none" stroke="#c5233f" stroke-width="4.2" stroke-linejoin="miter"/>
<polyline points="663.8,1859 673.8,1869.5 673.8,1885.6" fill="none" stroke="#1b75bb" stroke-width="4.2" stroke-linejoin="miter"/>
<polyline points="673.8,1885.6 673.8,1901.4 683.8,1911.6" fill="none" stroke="#c5233f" stroke-width="4.2" stroke-linejoin="miter"/>
<polyline points="703,1859 713,1869.5 713,1885.6" fill="none" stroke="#1b75bb" stroke-width="4.2" stroke-linejoin="miter"/>
<polyline points="713,1885.6 713,1901.4 723,1911.6" fill="none" stroke="#c5233f" stroke-width="4.2" stroke-linejoin="miter"/>
<polyline points="742.2,1859 752.2,1869.5 752.2,1885.6" fill="none" stroke="#1b75bb" stroke-width="4.2" stroke-linejoin="miter"/>
<polyline points="752.2,1885.6 752.2,1901.4 762.2,1911.6" fill="none" stroke="#c5233f" stroke-width="4.2" stroke-linejoin="miter"/>
<text x="80" y="1946.5" font-size="23.5" fill="#000" textLength="176.8" lengthAdjust="spacingAndGlyphs" stroke="#000" stroke-width="0.7">Precursor m/z:</text>
<text x="270" y="1946.5" font-size="23.5" fill="#000" textLength="100.5" lengthAdjust="spacingAndGlyphs">784.3827</text>
<text x="488.9" y="1946.5" font-size="23.5" fill="#000" textLength="95.1" lengthAdjust="spacingAndGlyphs" stroke="#000" stroke-width="0.7">Charge:</text>
<text x="591.8" y="1946.5" font-size="23.5" fill="#000" textLength="24.2" lengthAdjust="spacingAndGlyphs">+2</text>
<text x="714.3" y="1946.5" font-size="23.5" fill="#000" textLength="246.4" lengthAdjust="spacingAndGlyphs" stroke="#000" stroke-width="0.7">Fragmented Bonds:</text>
<text x="964.5" y="1946.5" font-size="23.5" fill="#000" textLength="48" lengthAdjust="spacingAndGlyphs">10/11</text>
<text x="101" y="1991" font-size="23" fill="#222" textLength="45.6" lengthAdjust="spacingAndGlyphs">HCD</text>
<line x1="124.1" y1="2484.4" x2="124.1" y2="2479" stroke="#959595" stroke-width="1.5"/>
<line x1="119.4" y1="2484.4" x2="119.4" y2="2473.6" stroke="#959595" stroke-width="1.5"/>
<line x1="123.4" y1="2484.4" x2="123.4" y2="2478" stroke="#959595" stroke-width="1.5"/>
<line x1="163.7" y1="2484.4" x2="163.7" y2="2480" stroke="#959595" stroke-width="1.5"/>
<line x1="166.1" y1="2484.4" x2="166.1" y2="2475.5" stroke="#959595" stroke-width="1.5"/>
<line x1="141.8" y1="2484.4" x2="141.8" y2="2477" stroke="#959595" stroke-width="1.5"/>
<line x1="144" y1="2484.4" x2="144" y2="2480" stroke="#959595" stroke-width="1.5"/>
<line x1="167.8" y1="2484.4" x2="167.8" y2="2480" stroke="#959595" stroke-width="1.5"/>
<line x1="167.1" y1="2484.4" x2="167.1" y2="2473.1" stroke="#959595" stroke-width="1.5"/>
<line x1="111.6" y1="2484.4" x2="111.6" y2="2481" stroke="#959595" stroke-width="1.5"/>
<line x1="137.7" y1="2484.4" x2="137.7" y2="2474" stroke="#959595" stroke-width="1.5"/>
<line x1="120.3" y1="2484.4" x2="120.3" y2="2477.5" stroke="#959595" stroke-width="1.5"/>
<line x1="131.3" y1="2484.4" x2="131.3" y2="2474.5" stroke="#959595" stroke-width="1.5"/>
<line x1="163.7" y1="2484.4" x2="163.7" y2="2475" stroke="#959595" stroke-width="1.5"/>
<line x1="121.2" y1="2484.4" x2="121.2" y2="2475" stroke="#959595" stroke-width="1.5"/>
<line x1="135.4" y1="2484.4" x2="135.4" y2="2473.6" stroke="#959595" stroke-width="1.5"/>
<line x1="137.3" y1="2484.4" x2="137.3" y2="2472.1" stroke="#959595" stroke-width="1.5"/>
<line x1="167.2" y1="2484.4" x2="167.2" y2="2473.6" stroke="#959595" stroke-width="1.5"/>
<line x1="157.9" y1="2484.4" x2="157.9" y2="2474" stroke="#959595" stroke-width="1.5"/>
<line x1="144.3" y1="2484.4" x2="144.3" y2="2481" stroke="#959595" stroke-width="1.5"/>
<line x1="167.2" y1="2484.4" x2="167.2" y2="2479.5" stroke="#959595" stroke-width="1.5"/>
<line x1="110.9" y1="2484.4" x2="110.9" y2="2479.5" stroke="#959595" stroke-width="1.5"/>
<line x1="134.1" y1="2484.4" x2="134.1" y2="2481" stroke="#959595" stroke-width="1.5"/>
<line x1="165.7" y1="2484.4" x2="165.7" y2="2481.5" stroke="#959595" stroke-width="1.5"/>
<line x1="162.4" y1="2484.4" x2="162.4" y2="2478.5" stroke="#959595" stroke-width="1.5"/>
<line x1="120.4" y1="2484.4" x2="120.4" y2="2480" stroke="#959595" stroke-width="1.5"/>
<line x1="258" y1="2484.4" x2="258" y2="2481.5" stroke="#959595" stroke-width="1.5"/>
<line x1="234.8" y1="2484.4" x2="234.8" y2="2480" stroke="#959595" stroke-width="1.5"/>
<line x1="254.6" y1="2484.4" x2="254.6" y2="2480.5" stroke="#959595" stroke-width="1.5"/>
<line x1="252.6" y1="2484.4" x2="252.6" y2="2481.5" stroke="#959595" stroke-width="1.5"/>
<line x1="259.5" y1="2484.4" x2="259.5" y2="2480.5" stroke="#959595" stroke-width="1.5"/>
<line x1="184.8" y1="2484.4" x2="184.8" y2="2481" stroke="#959595" stroke-width="1.5"/>
<line x1="226" y1="2484.4" x2="226" y2="2481.5" stroke="#959595" stroke-width="1.5"/>
<line x1="203.6" y1="2484.4" x2="203.6" y2="2481.5" stroke="#959595" stroke-width="1.5"/>
<line x1="174.4" y1="2484.4" x2="174.4" y2="2481.5" stroke="#959595" stroke-width="1.5"/>
<line x1="189.2" y1="2484.4" x2="189.2" y2="2481" stroke="#959595" stroke-width="1.5"/>
<line x1="239.6" y1="2484.4" x2="239.6" y2="2480.5" stroke="#959595" stroke-width="1.5"/>
<line x1="246.9" y1="2484.4" x2="246.9" y2="2476" stroke="#959595" stroke-width="1.5"/>
<line x1="250.4" y1="2484.4" x2="250.4" y2="2475.5" stroke="#959595" stroke-width="1.5"/>
<line x1="221" y1="2484.4" x2="221" y2="2478.5" stroke="#959595" stroke-width="1.5"/>
<line x1="469.8" y1="2484.4" x2="469.8" y2="2478.5" stroke="#959595" stroke-width="1.5"/>
<line x1="415.2" y1="2484.4" x2="415.2" y2="2479.5" stroke="#959595" stroke-width="1.5"/>
<line x1="578.6" y1="2484.4" x2="578.6" y2="2480.5" stroke="#959595" stroke-width="1.5"/>
<line x1="509.5" y1="2484.4" x2="509.5" y2="2479.5" stroke="#959595" stroke-width="1.5"/>
<line x1="551.8" y1="2484.4" x2="551.8" y2="2481.5" stroke="#959595" stroke-width="1.5"/>
<line x1="317.6" y1="2484.4" x2="317.6" y2="2477.5" stroke="#959595" stroke-width="1.5"/>
<line x1="513.9" y1="2484.4" x2="513.9" y2="2481.5" stroke="#959595" stroke-width="1.5"/>
<line x1="512.4" y1="2484.4" x2="512.4" y2="2481.5" stroke="#959595" stroke-width="1.5"/>
<line x1="382.5" y1="2484.4" x2="382.5" y2="2481" stroke="#959595" stroke-width="1.5"/>
<line x1="337.8" y1="2484.4" x2="337.8" y2="2481.5" stroke="#959595" stroke-width="1.5"/>
<line x1="257.2" y1="2484.4" x2="257.2" y2="1991.9" stroke="#a2a2a2" stroke-width="1.5"/>
<line x1="243" y1="2484.4" x2="243" y2="2308.2" stroke="#a2a2a2" stroke-width="1.5"/>
<line x1="271.6" y1="2484.4" x2="271.6" y2="2383.2" stroke="#a2a2a2" stroke-width="1.5"/>
<line x1="402.5" y1="2484.4" x2="402.5" y2="2380.3" stroke="#a2a2a2" stroke-width="1.5"/>
<line x1="138.5" y1="2484.4" x2="138.5" y2="2426.2" stroke="#959595" stroke-width="1.5"/>
<line x1="163" y1="2484.4" x2="163" y2="2436.5" stroke="#959595" stroke-width="1.5"/>
<line x1="195.6" y1="2484.4" x2="195.6" y2="2439" stroke="#959595" stroke-width="1.5"/>
<line x1="209.8" y1="2484.4" x2="209.8" y2="2445.4" stroke="#959595" stroke-width="1.5"/>
<line x1="176.2" y1="2484.4" x2="176.2" y2="2458.8" stroke="#959595" stroke-width="1.5"/>
<line x1="363.9" y1="2484.4" x2="363.9" y2="2457.3" stroke="#959595" stroke-width="1.5"/>
<line x1="297.7" y1="2484.4" x2="297.7" y2="2465.2" stroke="#959595" stroke-width="1.5"/>
<line x1="455.6" y1="2484.4" x2="455.6" y2="2464.2" stroke="#959595" stroke-width="1.5"/>
<line x1="533.8" y1="2484.4" x2="533.8" y2="2455.8" stroke="#959595" stroke-width="1.5"/>
<line x1="578.7" y1="2484.4" x2="578.7" y2="2464.2" stroke="#959595" stroke-width="1.5"/>
<line x1="206.6" y1="2484.4" x2="206.6" y2="2465.7" stroke="#959595" stroke-width="1.5"/>
<line x1="387.5" y1="2484.4" x2="387.5" y2="2475.5" stroke="#959595" stroke-width="1.5"/>
<line x1="410.7" y1="2484.4" x2="410.7" y2="2476" stroke="#959595" stroke-width="1.5"/>
<line x1="423.6" y1="2484.4" x2="423.6" y2="2475.5" stroke="#959595" stroke-width="1.5"/>
<line x1="440.8" y1="2484.4" x2="440.8" y2="2476" stroke="#959595" stroke-width="1.5"/>
<line x1="448.4" y1="2484.4" x2="448.4" y2="2475.5" stroke="#959595" stroke-width="1.5"/>
<line x1="550.4" y1="2484.4" x2="550.4" y2="2476" stroke="#959595" stroke-width="1.5"/>
<line x1="556" y1="2484.4" x2="556" y2="2477.5" stroke="#959595" stroke-width="1.5"/>
<line x1="366" y1="2484.4" x2="366" y2="2476" stroke="#959595" stroke-width="1.5"/>
<line x1="184.6" y1="2484.4" x2="184.6" y2="2478" stroke="#959595" stroke-width="1.5"/>
<line x1="143.2" y1="2484.4" x2="143.2" y2="2477.5" stroke="#959595" stroke-width="1.5"/>
<line x1="258.2" y1="2484.4" x2="258.2" y2="2443" stroke="#959595" stroke-width="1.5"/>
<line x1="516.4" y1="2484.4" x2="516.4" y2="2406.4" stroke="#959595" stroke-width="1.5"/>
<line x1="403.4" y1="2484.4" x2="403.4" y2="2436.1" stroke="#959595" stroke-width="1.5"/>
<line x1="164" y1="2484.4" x2="164" y2="2465.7" stroke="#959595" stroke-width="1.5"/>
<line x1="196.4" y1="2484.4" x2="196.4" y2="2468.1" stroke="#959595" stroke-width="1.5"/>
<line x1="123" y1="2484.4" x2="123" y2="2469.6" stroke="#959595" stroke-width="1.5"/>
<line x1="127.5" y1="2484.4" x2="127.5" y2="2467.6" stroke="#959595" stroke-width="1.5"/>
<line x1="131" y1="2484.4" x2="131" y2="2470.6" stroke="#959595" stroke-width="1.5"/>
<line x1="640.5" y1="2484.4" x2="640.5" y2="2474.5" stroke="#959595" stroke-width="1.5"/>
<line x1="659.3" y1="2484.4" x2="659.3" y2="2473.6" stroke="#959595" stroke-width="1.5"/>
<line x1="667.8" y1="2484.4" x2="667.8" y2="2452.3" stroke="#959595" stroke-width="1.5"/>
<line x1="668.8" y1="2484.4" x2="668.8" y2="2475.5" stroke="#959595" stroke-width="1.5"/>
<line x1="737.5" y1="2484.4" x2="737.5" y2="2471.1" stroke="#959595" stroke-width="1.5"/>
<line x1="746" y1="2484.4" x2="746" y2="2477.5" stroke="#959595" stroke-width="1.5"/>
<line x1="768.9" y1="2484.4" x2="768.9" y2="2475.5" stroke="#959595" stroke-width="1.5"/>
<line x1="880.7" y1="2484.4" x2="880.7" y2="2476.5" stroke="#959595" stroke-width="1.5"/>
<line x1="995.3" y1="2484.4" x2="995.3" y2="2469.6" stroke="#959595" stroke-width="1.5"/>
<line x1="1009.4" y1="2484.4" x2="1009.4" y2="2004.2" stroke="#b0b0b0" stroke-width="1.4"/>
<line x1="785" y1="2484.4" x2="785" y2="2386.7" stroke="#a2a2a2" stroke-width="1.5"/>
<line x1="895" y1="2484.4" x2="895" y2="2460.7" stroke="#959595" stroke-width="1.5"/>
<line x1="760.5" y1="2484.4" x2="760.5" y2="2470.6" stroke="#959595" stroke-width="1.5"/>
<line x1="805.7" y1="2484.4" x2="805.7" y2="2470.6" stroke="#959595" stroke-width="1.5"/>
<line x1="515.6" y1="2484.4" x2="515.6" y2="2314.2" stroke="#6d6e70" stroke-width="3.6"/>
<line x1="1010" y1="2484.4" x2="1010" y2="2206.6" stroke="#7d7e80" stroke-width="3.2"/>
<line x1="137.2" y1="2484.4" x2="137.2" y2="2463.2" stroke="#c5233f" stroke-width="3"/>
<line x1="156.7" y1="2484.4" x2="156.7" y2="2475.5" stroke="#1b75bb" stroke-width="3"/>
<line x1="226.4" y1="2484.4" x2="226.4" y2="2477.5" stroke="#c5233f" stroke-width="3"/>
<line x1="247.8" y1="2484.4" x2="247.8" y2="2474.5" stroke="#1b75bb" stroke-width="3"/>
<line x1="271.8" y1="2484.4" x2="271.8" y2="2466.6" stroke="#c5233f" stroke-width="3"/>
<line x1="349.8" y1="2484.4" x2="349.8" y2="2477.5" stroke="#c5233f" stroke-width="3"/>
<line x1="507.7" y1="2484.4" x2="507.7" y2="2435.1" stroke="#c5233f" stroke-width="3"/>
<line x1="523.4" y1="2484.4" x2="523.4" y2="2459.7" stroke="#1b75bb" stroke-width="3"/>
<line x1="592" y1="2484.4" x2="592" y2="2458.3" stroke="#1b75bb" stroke-width="3"/>
<line x1="598.3" y1="2484.4" x2="598.3" y2="2448.4" stroke="#c5233f" stroke-width="3"/>
<line x1="681.6" y1="2484.4" x2="681.6" y2="2445.4" stroke="#1b75bb" stroke-width="3"/>
<line x1="706.7" y1="2484.4" x2="706.7" y2="2464.2" stroke="#c5233f" stroke-width="3"/>
<line x1="759.5" y1="2484.4" x2="759.5" y2="2432.1" stroke="#1b75bb" stroke-width="3"/>
<line x1="783.3" y1="2484.4" x2="783.3" y2="2266.8" stroke="#c5233f" stroke-width="3.8"/>
<line x1="804.7" y1="2484.4" x2="804.7" y2="2446.9" stroke="#1b75bb" stroke-width="3"/>
<line x1="874.4" y1="2484.4" x2="874.4" y2="2473.6" stroke="#c5233f" stroke-width="3"/>
<line x1="894.2" y1="2484.4" x2="894.2" y2="2422.2" stroke="#1b75bb" stroke-width="3"/>
<line x1="70.6" y1="2485.4" x2="79" y2="2485.4" stroke="#000" stroke-width="4"/>
<text x="66" y="2490.7" font-size="16.5" fill="#808080" text-anchor="end" textLength="24" lengthAdjust="spacingAndGlyphs">0.0</text>
<line x1="70.6" y1="2436.1" x2="79" y2="2436.1" stroke="#000" stroke-width="4"/>
<text x="66" y="2441.4" font-size="16.5" fill="#808080" text-anchor="end" textLength="16" lengthAdjust="spacingAndGlyphs">10</text>
<line x1="70.6" y1="2386.7" x2="79" y2="2386.7" stroke="#000" stroke-width="4"/>
<text x="66" y="2392" font-size="16.5" fill="#808080" text-anchor="end" textLength="20" lengthAdjust="spacingAndGlyphs">20</text>
<line x1="70.6" y1="2337.3" x2="79" y2="2337.3" stroke="#000" stroke-width="4"/>
<text x="66" y="2342.7" font-size="16.5" fill="#808080" text-anchor="end" textLength="20" lengthAdjust="spacingAndGlyphs">30</text>
<line x1="70.6" y1="2288" x2="79" y2="2288" stroke="#000" stroke-width="4"/>
<text x="66" y="2293.3" font-size="16.5" fill="#808080" text-anchor="end" textLength="20" lengthAdjust="spacingAndGlyphs">40</text>
<line x1="70.6" y1="2238.7" x2="79" y2="2238.7" stroke="#000" stroke-width="4"/>
<text x="66" y="2244" font-size="16.5" fill="#808080" text-anchor="end" textLength="20" lengthAdjust="spacingAndGlyphs">50</text>
<line x1="70.6" y1="2189.3" x2="79" y2="2189.3" stroke="#000" stroke-width="4"/>
<text x="66" y="2194.6" font-size="16.5" fill="#808080" text-anchor="end" textLength="20" lengthAdjust="spacingAndGlyphs">60</text>
<line x1="70.6" y1="2140" x2="79" y2="2140" stroke="#000" stroke-width="4"/>
<text x="66" y="2145.3" font-size="16.5" fill="#808080" text-anchor="end" textLength="20" lengthAdjust="spacingAndGlyphs">70</text>
<line x1="70.6" y1="2090.6" x2="79" y2="2090.6" stroke="#000" stroke-width="4"/>
<text x="66" y="2095.9" font-size="16.5" fill="#808080" text-anchor="end" textLength="20" lengthAdjust="spacingAndGlyphs">80</text>
<line x1="70.6" y1="2041.2" x2="79" y2="2041.2" stroke="#000" stroke-width="4"/>
<text x="66" y="2046.5" font-size="16.5" fill="#808080" text-anchor="end" textLength="20" lengthAdjust="spacingAndGlyphs">90</text>
<line x1="70.6" y1="1991.9" x2="79" y2="1991.9" stroke="#000" stroke-width="4"/>
<text x="66" y="1997.2" font-size="16.5" fill="#808080" text-anchor="end" textLength="26" lengthAdjust="spacingAndGlyphs">100</text>
<line x1="70.6" y1="1967.6" x2="79" y2="1967.6" stroke="#000" stroke-width="4.2"/>
<line x1="79" y1="1965.6" x2="79" y2="2493.2" stroke="#000" stroke-width="4.6"/>
<line x1="76.7" y1="2485.4" x2="1036.8" y2="2485.4" stroke="#000" stroke-width="4.6"/>
<line x1="1034.5" y1="2485.4" x2="1034.5" y2="2493.2" stroke="#000" stroke-width="4.6"/>
<line x1="100.3" y1="2485.4" x2="100.3" y2="2493.2" stroke="#000" stroke-width="4"/>
<text x="100.3" y="2509.7" font-size="16.5" fill="#808080" text-anchor="middle" textLength="26" lengthAdjust="spacingAndGlyphs">100</text>
<line x1="179.1" y1="2485.4" x2="179.1" y2="2493.2" stroke="#000" stroke-width="4"/>
<text x="179.1" y="2509.7" font-size="16.5" fill="#808080" text-anchor="middle" textLength="30" lengthAdjust="spacingAndGlyphs">200</text>
<line x1="258" y1="2485.4" x2="258" y2="2493.2" stroke="#000" stroke-width="4"/>
<text x="258" y="2509.7" font-size="16.5" fill="#808080" text-anchor="middle" textLength="30" lengthAdjust="spacingAndGlyphs">300</text>
<line x1="336.8" y1="2485.4" x2="336.8" y2="2493.2" stroke="#000" stroke-width="4"/>
<text x="336.8" y="2509.7" font-size="16.5" fill="#808080" text-anchor="middle" textLength="30" lengthAdjust="spacingAndGlyphs">400</text>
<line x1="415.7" y1="2485.4" x2="415.7" y2="2493.2" stroke="#000" stroke-width="4"/>
<text x="415.7" y="2509.7" font-size="16.5" fill="#808080" text-anchor="middle" textLength="30" lengthAdjust="spacingAndGlyphs">500</text>
<line x1="494.6" y1="2485.4" x2="494.6" y2="2493.2" stroke="#000" stroke-width="4"/>
<text x="494.6" y="2509.7" font-size="16.5" fill="#808080" text-anchor="middle" textLength="30" lengthAdjust="spacingAndGlyphs">600</text>
<line x1="573.4" y1="2485.4" x2="573.4" y2="2493.2" stroke="#000" stroke-width="4"/>
<text x="573.4" y="2509.7" font-size="16.5" fill="#808080" text-anchor="middle" textLength="30" lengthAdjust="spacingAndGlyphs">700</text>
<line x1="652.2" y1="2485.4" x2="652.2" y2="2493.2" stroke="#000" stroke-width="4"/>
<text x="652.2" y="2509.7" font-size="16.5" fill="#808080" text-anchor="middle" textLength="30" lengthAdjust="spacingAndGlyphs">800</text>
<line x1="731.1" y1="2485.4" x2="731.1" y2="2493.2" stroke="#000" stroke-width="4"/>
<text x="731.1" y="2509.7" font-size="16.5" fill="#808080" text-anchor="middle" textLength="30" lengthAdjust="spacingAndGlyphs">900</text>
<line x1="809.9" y1="2485.4" x2="809.9" y2="2493.2" stroke="#000" stroke-width="4"/>
<text x="809.9" y="2509.7" font-size="16.5" fill="#808080" text-anchor="middle" textLength="39.5" lengthAdjust="spacingAndGlyphs">1,000</text>
<line x1="888.8" y1="2485.4" x2="888.8" y2="2493.2" stroke="#000" stroke-width="4"/>
<text x="888.8" y="2509.7" font-size="16.5" fill="#808080" text-anchor="middle" textLength="35.5" lengthAdjust="spacingAndGlyphs">1,100</text>
<line x1="967.6" y1="2485.4" x2="967.6" y2="2493.2" stroke="#000" stroke-width="4"/>
<text x="967.6" y="2509.7" font-size="16.5" fill="#808080" text-anchor="middle" textLength="39.5" lengthAdjust="spacingAndGlyphs">1,200</text>
<text transform="translate(18.5 2228) rotate(-90)" font-size="21.6" font-weight="bold" text-anchor="middle" textLength="281" lengthAdjust="spacingAndGlyphs" stroke="#000" stroke-width="1.1" fill="#000">Relative Abundance (%)</text>
<text x="507.4" y="2536" font-size="24" font-weight="bold" font-style="italic" textLength="42" lengthAdjust="spacingAndGlyphs" stroke="#000" stroke-width="1.2">m/z</text>
<text x="933" y="1973.8" font-size="23" fill="#222" textLength="85.2" lengthAdjust="spacingAndGlyphs">Q0P8S4</text>
<text x="844" y="2006.8" font-size="23" fill="#222" textLength="174.2" lengthAdjust="spacingAndGlyphs">Q0P8S4_CAMJE</text>
<text x="760.7" y="2039.2" font-size="23" fill="#222" textLength="250.9" lengthAdjust="spacingAndGlyphs">6-hydroxymethylpterin</text>
<text x="832" y="2072.1" font-size="23" fill="#222" textLength="186.2" lengthAdjust="spacingAndGlyphs">diphosphokinase</text>
<text x="693.8" y="2104.1" font-size="23" fill="#222" textLength="317.8" lengthAdjust="spacingAndGlyphs">MptE-like domain-containing</text>
<text x="859.6" y="2136.5" font-size="23" fill="#222" textLength="158.6" lengthAdjust="spacingAndGlyphs">protein (maf3)</text>
<text x="122" y="2460.5" font-size="20" fill="#000">y<tspan font-size="11.5" font-weight="bold" dy="3">1</tspan></text>
<text x="141.5" y="2472.7" font-size="20" fill="#000">b<tspan font-size="11.5" font-weight="bold" dy="3">2</tspan></text>
<text x="211" y="2474.5" font-size="20" fill="#000">y<tspan font-size="11.5" font-weight="bold" dy="3">2</tspan></text>
<text x="232" y="2472.7" font-size="20" fill="#000">b<tspan font-size="11.5" font-weight="bold" dy="3">3</tspan></text>
<text x="256.5" y="2462.5" font-size="20" fill="#000">y<tspan font-size="11.5" font-weight="bold" dy="3">3</tspan></text>
<text x="335" y="2474.5" font-size="20" fill="#000">y<tspan font-size="11.5" font-weight="bold" dy="3">4</tspan></text>
<text x="492.5" y="2430.5" font-size="20" fill="#000">y<tspan font-size="11.5" font-weight="bold" dy="3">6</tspan></text>
<text x="507.5" y="2456.7" font-size="20" fill="#000">b<tspan font-size="11.5" font-weight="bold" dy="3">6</tspan></text>
<text x="576" y="2454.7" font-size="20" fill="#000">b<tspan font-size="11.5" font-weight="bold" dy="3">7</tspan></text>
<text x="583" y="2442.5" font-size="20" fill="#000">y<tspan font-size="11.5" font-weight="bold" dy="3">7</tspan></text>
<text x="665.5" y="2441.7" font-size="20" fill="#000">b<tspan font-size="11.5" font-weight="bold" dy="3">8</tspan></text>
<text x="691.5" y="2460.5" font-size="20" fill="#000">y<tspan font-size="11.5" font-weight="bold" dy="3">8</tspan></text>
<text x="743.5" y="2427.7" font-size="20" fill="#000">b<tspan font-size="11.5" font-weight="bold" dy="3">9</tspan></text>
<text x="768.5" y="2262.5" font-size="20" fill="#000">y<tspan font-size="11.5" font-weight="bold" dy="3">9</tspan></text>
<text x="781" y="2444.7" font-size="20" fill="#000">b<tspan font-size="11.5" font-weight="bold" dy="3">10</tspan></text>
<text x="851" y="2470.5" font-size="20" fill="#000">y<tspan font-size="11.5" font-weight="bold" dy="3">10</tspan></text>
<text x="870" y="2418.7" font-size="20" fill="#000">b<tspan font-size="11.5" font-weight="bold" dy="3">11</tspan></text>
<text x="467.2" y="2312.2" font-size="22" fill="#000" textLength="90.4" lengthAdjust="spacingAndGlyphs">[M+2H]+<tspan font-weight="bold">²</tspan></text>
<text x="932.5" y="2204.4" font-size="22" fill="#000" textLength="70" lengthAdjust="spacingAndGlyphs">[M+2H]</text>
<line x1="79.1" y1="2638.5" x2="1033.6" y2="2638.5" stroke="#dddddd" stroke-width="1"/>
<line x1="79.1" y1="2638.5" x2="132.7" y2="2638.5" stroke="#a7a9ab" stroke-width="5"/>
<line x1="159.6" y1="2638.5" x2="213.2" y2="2638.5" stroke="#a7a9ab" stroke-width="5"/>
<line x1="240.2" y1="2638.5" x2="293.8" y2="2638.5" stroke="#a7a9ab" stroke-width="5"/>
<line x1="320.8" y1="2638.5" x2="374.4" y2="2638.5" stroke="#a7a9ab" stroke-width="5"/>
<line x1="401.3" y1="2638.5" x2="454.9" y2="2638.5" stroke="#a7a9ab" stroke-width="5"/>
<line x1="481.9" y1="2638.5" x2="535.5" y2="2638.5" stroke="#a7a9ab" stroke-width="5"/>
<line x1="562.4" y1="2638.5" x2="616" y2="2638.5" stroke="#a7a9ab" stroke-width="5"/>
<line x1="642.9" y1="2638.5" x2="696.5" y2="2638.5" stroke="#a7a9ab" stroke-width="5"/>
<line x1="723.5" y1="2638.5" x2="777.1" y2="2638.5" stroke="#a7a9ab" stroke-width="5"/>
<line x1="804" y1="2638.5" x2="857.6" y2="2638.5" stroke="#a7a9ab" stroke-width="5"/>
<line x1="884.6" y1="2638.5" x2="938.2" y2="2638.5" stroke="#a7a9ab" stroke-width="5"/>
<line x1="965.1" y1="2638.5" x2="1018.7" y2="2638.5" stroke="#a7a9ab" stroke-width="5"/>
<circle cx="137.2" cy="2661.5" r="5.6" fill="#c5233f"/>
<circle cx="157" cy="2652.2" r="5.6" fill="#1b75bb"/>
<circle cx="226.4" cy="2653.4" r="5.6" fill="#c5233f"/>
<circle cx="247.7" cy="2644.1" r="5.6" fill="#1b75bb"/>
<circle cx="271.6" cy="2666.5" r="5.6" fill="#c5233f"/>
<circle cx="349.8" cy="2655.9" r="5.6" fill="#c5233f"/>
<circle cx="507.7" cy="2636.3" r="5.6" fill="#c5233f"/>
<circle cx="515.2" cy="2639.7" r="5.6" fill="#6d6e70"/>
<circle cx="523.1" cy="2647.2" r="5.6" fill="#1b75bb"/>
<circle cx="592.1" cy="2649.1" r="5.6" fill="#1b75bb"/>
<circle cx="598.4" cy="2642.5" r="5.6" fill="#c5233f"/>
<circle cx="681.3" cy="2643.5" r="5.6" fill="#1b75bb"/>
<circle cx="706.7" cy="2658.4" r="5.6" fill="#c5233f"/>
<circle cx="759.5" cy="2641.6" r="5.6" fill="#1b75bb"/>
<circle cx="783.3" cy="2649.1" r="5.6" fill="#c5233f"/>
<circle cx="804.7" cy="2663.4" r="5.6" fill="#1b75bb"/>
<circle cx="874.1" cy="2639.1" r="5.6" fill="#c5233f"/>
<circle cx="893.8" cy="2650.9" r="5.6" fill="#1b75bb"/>
<circle cx="1010" cy="2673.3" r="5.6" fill="#6d6e70"/>
<line x1="70.7" y1="2571" x2="1035.9" y2="2571" stroke="#000" stroke-width="4.3"/>
<line x1="70.7" y1="2706.6" x2="1035.9" y2="2706.6" stroke="#000" stroke-width="4.3"/>
<line x1="79.1" y1="2562.6" x2="79.1" y2="2706.6" stroke="#000" stroke-width="4.6"/>
<line x1="1033.6" y1="2562.6" x2="1033.6" y2="2706.6" stroke="#000" stroke-width="4.6"/>
<line x1="70.7" y1="2576.3" x2="79.1" y2="2576.3" stroke="#000" stroke-width="3.8"/>
<text x="66.1" y="2581.6" font-size="16.5" fill="#808080" text-anchor="end" textLength="16" lengthAdjust="spacingAndGlyphs">10</text>
<line x1="70.7" y1="2607.4" x2="79.1" y2="2607.4" stroke="#000" stroke-width="3.8"/>
<text x="66.1" y="2612.7" font-size="16.5" fill="#808080" text-anchor="end" textLength="10" lengthAdjust="spacingAndGlyphs">5</text>
<line x1="70.7" y1="2638.5" x2="79.1" y2="2638.5" stroke="#000" stroke-width="3.8"/>
<text x="66.1" y="2643.8" font-size="16.5" fill="#808080" text-anchor="end" textLength="10" lengthAdjust="spacingAndGlyphs">0</text>
<line x1="70.7" y1="2669.6" x2="79.1" y2="2669.6" stroke="#000" stroke-width="3.8"/>
<text x="66.1" y="2674.9" font-size="16.5" fill="#808080" text-anchor="end" textLength="16.5" lengthAdjust="spacingAndGlyphs">-5</text>
<line x1="70.7" y1="2700.7" x2="79.1" y2="2700.7" stroke="#000" stroke-width="3.8"/>
<text x="66.1" y="2706" font-size="16.5" fill="#808080" text-anchor="end" textLength="22.5" lengthAdjust="spacingAndGlyphs">-10</text>
<line x1="100.3" y1="2562.6" x2="100.3" y2="2571" stroke="#000" stroke-width="3.8"/>
<text x="100.3" y="2558.9" font-size="16.5" fill="#808080" text-anchor="middle" textLength="26" lengthAdjust="spacingAndGlyphs">100</text>
<line x1="179.1" y1="2562.6" x2="179.1" y2="2571" stroke="#000" stroke-width="3.8"/>
<text x="179.1" y="2558.9" font-size="16.5" fill="#808080" text-anchor="middle" textLength="30" lengthAdjust="spacingAndGlyphs">200</text>
<line x1="258" y1="2562.6" x2="258" y2="2571" stroke="#000" stroke-width="3.8"/>
<text x="258" y="2558.9" font-size="16.5" fill="#808080" text-anchor="middle" textLength="30" lengthAdjust="spacingAndGlyphs">300</text>
<line x1="336.8" y1="2562.6" x2="336.8" y2="2571" stroke="#000" stroke-width="3.8"/>
<text x="336.8" y="2558.9" font-size="16.5" fill="#808080" text-anchor="middle" textLength="30" lengthAdjust="spacingAndGlyphs">400</text>
<line x1="415.7" y1="2562.6" x2="415.7" y2="2571" stroke="#000" stroke-width="3.8"/>
<text x="415.7" y="2558.9" font-size="16.5" fill="#808080" text-anchor="middle" textLength="30" lengthAdjust="spacingAndGlyphs">500</text>
<line x1="494.6" y1="2562.6" x2="494.6" y2="2571" stroke="#000" stroke-width="3.8"/>
<text x="494.6" y="2558.9" font-size="16.5" fill="#808080" text-anchor="middle" textLength="30" lengthAdjust="spacingAndGlyphs">600</text>
<line x1="573.4" y1="2562.6" x2="573.4" y2="2571" stroke="#000" stroke-width="3.8"/>
<text x="573.4" y="2558.9" font-size="16.5" fill="#808080" text-anchor="middle" textLength="30" lengthAdjust="spacingAndGlyphs">700</text>
<line x1="652.2" y1="2562.6" x2="652.2" y2="2571" stroke="#000" stroke-width="3.8"/>
<text x="652.2" y="2558.9" font-size="16.5" fill="#808080" text-anchor="middle" textLength="30" lengthAdjust="spacingAndGlyphs">800</text>
<line x1="731.1" y1="2562.6" x2="731.1" y2="2571" stroke="#000" stroke-width="3.8"/>
<text x="731.1" y="2558.9" font-size="16.5" fill="#808080" text-anchor="middle" textLength="30" lengthAdjust="spacingAndGlyphs">900</text>
<line x1="809.9" y1="2562.6" x2="809.9" y2="2571" stroke="#000" stroke-width="3.8"/>
<text x="809.9" y="2558.9" font-size="16.5" fill="#808080" text-anchor="middle" textLength="39.5" lengthAdjust="spacingAndGlyphs">1,000</text>
<line x1="888.8" y1="2562.6" x2="888.8" y2="2571" stroke="#000" stroke-width="3.8"/>
<text x="888.8" y="2558.9" font-size="16.5" fill="#808080" text-anchor="middle" textLength="35.5" lengthAdjust="spacingAndGlyphs">1,100</text>
<line x1="967.6" y1="2562.6" x2="967.6" y2="2571" stroke="#000" stroke-width="3.8"/>
<text x="967.6" y="2558.9" font-size="16.5" fill="#808080" text-anchor="middle" textLength="39.5" lengthAdjust="spacingAndGlyphs">1,200</text>
<text transform="translate(19 2639) rotate(-90)" font-size="21.6" font-weight="bold" text-anchor="middle" textLength="135" lengthAdjust="spacingAndGlyphs" stroke="#000" stroke-width="1.1" fill="#000">Error (ppm)</text>
<text x="1150.5" y="1876.5" font-size="55" fill="#231f20" font-weight="bold" textLength="42.3" lengthAdjust="spacingAndGlyphs" stroke="#231f20" stroke-width="1.2">F)</text>
<text class="mono" x="1462.2 1500.8 1539.3 1577.9 1616.4 1655 1693.5 1732 1770.6 1809.2 1847.7 1886.2" y="1879.5" font-size="35.5" fill="#222" text-anchor="middle">GNDPHDSLVGIK</text>
<polyline points="1481.1,1881.2 1481.1,1900 1491.1,1910.2" fill="none" stroke="#f0932f" stroke-width="4.2" stroke-linejoin="miter"/>
<polyline points="1558.2,1881.2 1558.2,1895.4 1568.2,1905.6" fill="none" stroke="#c5233f" stroke-width="4.2" stroke-linejoin="miter"/>
<polyline points="1635.4,1881.2 1635.4,1900 1645.4,1910.2" fill="none" stroke="#f0932f" stroke-width="4.2" stroke-linejoin="miter"/>
<polyline points="1673.9,1881.2 1673.9,1900 1683.9,1910.2" fill="none" stroke="#f0932f" stroke-width="4.2" stroke-linejoin="miter"/>
<polyline points="1702.5,1848.6 1712.5,1859.1 1712.5,1879.6" fill="none" stroke="#12a04c" stroke-width="4.2" stroke-linejoin="miter"/>
<polyline points="1818.2,1848.6 1828.2,1859.1 1828.2,1879.6" fill="none" stroke="#12a04c" stroke-width="4.2" stroke-linejoin="miter"/>
<polyline points="1856.8,1848.6 1866.8,1859.1 1866.8,1879.6" fill="none" stroke="#12a04c" stroke-width="4.2" stroke-linejoin="miter"/>
<text x="1205.4" y="1940.3" font-size="23.5" fill="#000" textLength="174.6" lengthAdjust="spacingAndGlyphs" stroke="#000" stroke-width="0.7">Precursor m/z:</text>
<text x="1393.2" y="1940.3" font-size="23.5" fill="#000" textLength="99.8" lengthAdjust="spacingAndGlyphs">784.3827</text>
<text x="1607.6" y="1940.3" font-size="23.5" fill="#000" textLength="93.4" lengthAdjust="spacingAndGlyphs" stroke="#000" stroke-width="0.7">Charge:</text>
<text x="1709" y="1940.3" font-size="23.5" fill="#000" textLength="24" lengthAdjust="spacingAndGlyphs">+2</text>
<text x="1830.4" y="1940.3" font-size="23.5" fill="#000" textLength="242.1" lengthAdjust="spacingAndGlyphs" stroke="#000" stroke-width="0.7">Fragmented Bonds:</text>
<text x="2077.8" y="1940.3" font-size="23.5" fill="#000" textLength="34.6" lengthAdjust="spacingAndGlyphs">7/11</text>
<text x="1220.5" y="1983.3" font-size="23" fill="#222" textLength="284.1" lengthAdjust="spacingAndGlyphs">EThcD- Note no localisation</text>
<line x1="1243.3" y1="2470.1" x2="1243.3" y2="2468.2" stroke="#9c9c9c" stroke-width="1.4"/>
<line x1="1255" y1="2470.1" x2="1255" y2="2468.7" stroke="#9c9c9c" stroke-width="1.4"/>
<line x1="1236.9" y1="2470.1" x2="1236.9" y2="2467.2" stroke="#9c9c9c" stroke-width="1.4"/>
<line x1="1243" y1="2470.1" x2="1243" y2="2468.7" stroke="#9c9c9c" stroke-width="1.4"/>
<line x1="1240" y1="2470.1" x2="1240" y2="2468.7" stroke="#9c9c9c" stroke-width="1.4"/>
<line x1="1231.2" y1="2470.1" x2="1231.2" y2="2467.7" stroke="#9c9c9c" stroke-width="1.4"/>
<line x1="1258.1" y1="2470.1" x2="1258.1" y2="2467.2" stroke="#9c9c9c" stroke-width="1.4"/>
<line x1="1248.5" y1="2470.1" x2="1248.5" y2="2468.7" stroke="#9c9c9c" stroke-width="1.4"/>
<line x1="1241" y1="2470.1" x2="1241" y2="2469.2" stroke="#9c9c9c" stroke-width="1.4"/>
<line x1="1252" y1="2470.1" x2="1252" y2="2468.7" stroke="#9c9c9c" stroke-width="1.4"/>
<line x1="1235.8" y1="2470.1" x2="1235.8" y2="2465.3" stroke="#9c9c9c" stroke-width="1.4"/>
<line x1="1237.6" y1="2470.1" x2="1237.6" y2="2465.3" stroke="#9c9c9c" stroke-width="1.4"/>
<line x1="1297.3" y1="2470.1" x2="1297.3" y2="2469.2" stroke="#9c9c9c" stroke-width="1.4"/>
<line x1="1298.9" y1="2470.1" x2="1298.9" y2="2469.2" stroke="#9c9c9c" stroke-width="1.4"/>
<line x1="1279.7" y1="2470.1" x2="1279.7" y2="2466.2" stroke="#9c9c9c" stroke-width="1.4"/>
<line x1="1275.5" y1="2470.1" x2="1275.5" y2="2468.2" stroke="#9c9c9c" stroke-width="1.4"/>
<line x1="1268.1" y1="2470.1" x2="1268.1" y2="2465.7" stroke="#9c9c9c" stroke-width="1.4"/>
<line x1="1299.4" y1="2470.1" x2="1299.4" y2="2469.2" stroke="#9c9c9c" stroke-width="1.4"/>
<line x1="1343.2" y1="2470.1" x2="1343.2" y2="2423.9" stroke="#9c9c9c" stroke-width="1.4"/>
<line x1="1268.8" y1="2470.1" x2="1268.8" y2="2441.4" stroke="#9c9c9c" stroke-width="1.4"/>
<line x1="1528.5" y1="2470.1" x2="1528.5" y2="2429.7" stroke="#9c9c9c" stroke-width="1.4"/>
<line x1="1641.5" y1="2470.1" x2="1641.5" y2="2442.9" stroke="#9c9c9c" stroke-width="1.4"/>
<line x1="1244.6" y1="2470.1" x2="1244.6" y2="2458.4" stroke="#9c9c9c" stroke-width="1.4"/>
<line x1="1250.9" y1="2470.1" x2="1250.9" y2="2457.5" stroke="#9c9c9c" stroke-width="1.4"/>
<line x1="1331.9" y1="2470.1" x2="1331.9" y2="2460.9" stroke="#9c9c9c" stroke-width="1.4"/>
<line x1="1353.9" y1="2470.1" x2="1353.9" y2="2460.4" stroke="#9c9c9c" stroke-width="1.4"/>
<line x1="1456" y1="2470.1" x2="1456" y2="2460.9" stroke="#9c9c9c" stroke-width="1.4"/>
<line x1="1444" y1="2470.1" x2="1444" y2="2463.3" stroke="#9c9c9c" stroke-width="1.4"/>
<line x1="1383.7" y1="2470.1" x2="1383.7" y2="2464.3" stroke="#9c9c9c" stroke-width="1.4"/>
<line x1="1393.2" y1="2470.1" x2="1393.2" y2="2465.3" stroke="#9c9c9c" stroke-width="1.4"/>
<line x1="1433" y1="2470.1" x2="1433" y2="2465.3" stroke="#9c9c9c" stroke-width="1.4"/>
<line x1="1437" y1="2470.1" x2="1437" y2="2465.3" stroke="#9c9c9c" stroke-width="1.4"/>
<line x1="1570.5" y1="2470.1" x2="1570.5" y2="2463.3" stroke="#9c9c9c" stroke-width="1.4"/>
<line x1="1289.5" y1="2470.1" x2="1289.5" y2="2465.3" stroke="#9c9c9c" stroke-width="1.4"/>
<line x1="1295.2" y1="2470.1" x2="1295.2" y2="2464.3" stroke="#9c9c9c" stroke-width="1.4"/>
<line x1="1258" y1="2470.1" x2="1258" y2="2465.7" stroke="#9c9c9c" stroke-width="1.4"/>
<line x1="1263.8" y1="2470.1" x2="1263.8" y2="2465.7" stroke="#9c9c9c" stroke-width="1.4"/>
<line x1="1271.6" y1="2470.1" x2="1271.6" y2="2465.7" stroke="#9c9c9c" stroke-width="1.4"/>
<line x1="1245.6" y1="2470.1" x2="1245.6" y2="2465.3" stroke="#9c9c9c" stroke-width="1.4"/>
<line x1="1683.2" y1="2470.1" x2="1683.2" y2="2452.1" stroke="#9c9c9c" stroke-width="1.4"/>
<line x1="1772.6" y1="2470.1" x2="1772.6" y2="2464.3" stroke="#9c9c9c" stroke-width="1.4"/>
<line x1="1785.5" y1="2470.1" x2="1785.5" y2="2425.8" stroke="#9c9c9c" stroke-width="1.4"/>
<line x1="1786.4" y1="2470.1" x2="1786.4" y2="2454.1" stroke="#9c9c9c" stroke-width="1.4"/>
<line x1="1821" y1="2470.1" x2="1821" y2="2463.3" stroke="#9c9c9c" stroke-width="1.4"/>
<line x1="1877.8" y1="2470.1" x2="1877.8" y2="2456.5" stroke="#9c9c9c" stroke-width="1.4"/>
<line x1="1891" y1="2470.1" x2="1891" y2="2454.1" stroke="#9c9c9c" stroke-width="1.4"/>
<line x1="1892" y1="2470.1" x2="1892" y2="2461.4" stroke="#9c9c9c" stroke-width="1.4"/>
<line x1="1900" y1="2470.1" x2="1900" y2="2463.3" stroke="#9c9c9c" stroke-width="1.4"/>
<line x1="1917.7" y1="2470.1" x2="1917.7" y2="2392.7" stroke="#9c9c9c" stroke-width="1.4"/>
<line x1="1918.7" y1="2470.1" x2="1918.7" y2="2446.8" stroke="#9c9c9c" stroke-width="1.4"/>
<line x1="1916.4" y1="2470.1" x2="1916.4" y2="2458.4" stroke="#9c9c9c" stroke-width="1.4"/>
<line x1="1927.8" y1="2470.1" x2="1927.8" y2="1984.2" stroke="#a6a6a6" stroke-width="1.4"/>
<line x1="1973" y1="2470.1" x2="1973" y2="2458.4" stroke="#9c9c9c" stroke-width="1.4"/>
<line x1="2018.8" y1="2470.1" x2="2018.8" y2="2463.8" stroke="#9c9c9c" stroke-width="1.4"/>
<line x1="2060" y1="2470.1" x2="2060" y2="2461.8" stroke="#9c9c9c" stroke-width="1.4"/>
<line x1="2095.1" y1="2470.1" x2="2095.1" y2="2435.1" stroke="#9c9c9c" stroke-width="1.4"/>
<line x1="2096" y1="2470.1" x2="2096" y2="2442.9" stroke="#9c9c9c" stroke-width="1.4"/>
<line x1="2122.1" y1="2470.1" x2="2122.1" y2="2454.5" stroke="#9c9c9c" stroke-width="1.4"/>
<line x1="1543.5" y1="2470.1" x2="1543.5" y2="2461.8" stroke="#6d6e70" stroke-width="4"/>
<line x1="1928" y1="2470.1" x2="1928" y2="2109.8" stroke="#7d7e80" stroke-width="3.2"/>
<line x1="1527.8" y1="2470.1" x2="1527.8" y2="2462.8" stroke="#f0932f" stroke-width="3.6"/>
<line x1="1598.2" y1="2470.1" x2="1598.2" y2="2442.4" stroke="#d9a070" stroke-width="3.2"/>
<line x1="1613.6" y1="2470.1" x2="1613.6" y2="2458.9" stroke="#12a04c" stroke-width="3.4"/>
<line x1="1751.9" y1="2470.1" x2="1751.9" y2="2457.5" stroke="#c5233f" stroke-width="3"/>
<line x1="1778.9" y1="2470.1" x2="1778.9" y2="2443.8" stroke="#12a04c" stroke-width="3.4"/>
<line x1="1848.3" y1="2470.1" x2="1848.3" y2="2423.9" stroke="#12a04c" stroke-width="3"/>
<line x1="1882.5" y1="2470.1" x2="1882.5" y2="2458.9" stroke="#f0932f" stroke-width="3.4"/>
<line x1="1195.2" y1="2471.1" x2="1203.6" y2="2471.1" stroke="#000" stroke-width="4"/>
<text x="1190.6" y="2476.4" font-size="16.5" fill="#808080" text-anchor="end" textLength="24" lengthAdjust="spacingAndGlyphs">0.0</text>
<line x1="1195.2" y1="2422.4" x2="1203.6" y2="2422.4" stroke="#000" stroke-width="4"/>
<text x="1190.6" y="2427.7" font-size="16.5" fill="#808080" text-anchor="end" textLength="16" lengthAdjust="spacingAndGlyphs">10</text>
<line x1="1195.2" y1="2373.7" x2="1203.6" y2="2373.7" stroke="#000" stroke-width="4"/>
<text x="1190.6" y="2379" font-size="16.5" fill="#808080" text-anchor="end" textLength="20" lengthAdjust="spacingAndGlyphs">20</text>
<line x1="1195.2" y1="2325" x2="1203.6" y2="2325" stroke="#000" stroke-width="4"/>
<text x="1190.6" y="2330.3" font-size="16.5" fill="#808080" text-anchor="end" textLength="20" lengthAdjust="spacingAndGlyphs">30</text>
<line x1="1195.2" y1="2276.3" x2="1203.6" y2="2276.3" stroke="#000" stroke-width="4"/>
<text x="1190.6" y="2281.6" font-size="16.5" fill="#808080" text-anchor="end" textLength="20" lengthAdjust="spacingAndGlyphs">40</text>
<line x1="1195.2" y1="2227.7" x2="1203.6" y2="2227.7" stroke="#000" stroke-width="4"/>
<text x="1190.6" y="2233" font-size="16.5" fill="#808080" text-anchor="end" textLength="20" lengthAdjust="spacingAndGlyphs">50</text>
<line x1="1195.2" y1="2179" x2="1203.6" y2="2179" stroke="#000" stroke-width="4"/>
<text x="1190.6" y="2184.3" font-size="16.5" fill="#808080" text-anchor="end" textLength="20" lengthAdjust="spacingAndGlyphs">60</text>
<line x1="1195.2" y1="2130.3" x2="1203.6" y2="2130.3" stroke="#000" stroke-width="4"/>
<text x="1190.6" y="2135.6" font-size="16.5" fill="#808080" text-anchor="end" textLength="20" lengthAdjust="spacingAndGlyphs">70</text>
<line x1="1195.2" y1="2081.6" x2="1203.6" y2="2081.6" stroke="#000" stroke-width="4"/>
<text x="1190.6" y="2086.9" font-size="16.5" fill="#808080" text-anchor="end" textLength="20" lengthAdjust="spacingAndGlyphs">80</text>
<line x1="1195.2" y1="2032.9" x2="1203.6" y2="2032.9" stroke="#000" stroke-width="4"/>
<text x="1190.6" y="2038.2" font-size="16.5" fill="#808080" text-anchor="end" textLength="20" lengthAdjust="spacingAndGlyphs">90</text>
<line x1="1195.2" y1="1984.2" x2="1203.6" y2="1984.2" stroke="#000" stroke-width="4"/>
<text x="1190.6" y="1989.5" font-size="16.5" fill="#808080" text-anchor="end" textLength="26" lengthAdjust="spacingAndGlyphs">100</text>
<line x1="1195.2" y1="1960.4" x2="1203.6" y2="1960.4" stroke="#000" stroke-width="4.2"/>
<line x1="1203.6" y1="1958.4" x2="1203.6" y2="2478.9" stroke="#000" stroke-width="4.6"/>
<line x1="1201.3" y1="2471.1" x2="2146.8" y2="2471.1" stroke="#000" stroke-width="4.6"/>
<line x1="1281.7" y1="2471.1" x2="1281.7" y2="2478.9" stroke="#000" stroke-width="4"/>
<text x="1281.7" y="2495.4" font-size="16.5" fill="#808080" text-anchor="middle" textLength="30" lengthAdjust="spacingAndGlyphs">200</text>
<line x1="1404.5" y1="2471.1" x2="1404.5" y2="2478.9" stroke="#000" stroke-width="4"/>
<text x="1404.5" y="2495.4" font-size="16.5" fill="#808080" text-anchor="middle" textLength="30" lengthAdjust="spacingAndGlyphs">400</text>
<line x1="1527.2" y1="2471.1" x2="1527.2" y2="2478.9" stroke="#000" stroke-width="4"/>
<text x="1527.2" y="2495.4" font-size="16.5" fill="#808080" text-anchor="middle" textLength="30" lengthAdjust="spacingAndGlyphs">600</text>
<line x1="1650" y1="2471.1" x2="1650" y2="2478.9" stroke="#000" stroke-width="4"/>
<text x="1650" y="2495.4" font-size="16.5" fill="#808080" text-anchor="middle" textLength="30" lengthAdjust="spacingAndGlyphs">800</text>
<line x1="1772.7" y1="2471.1" x2="1772.7" y2="2478.9" stroke="#000" stroke-width="4"/>
<text x="1772.7" y="2495.4" font-size="16.5" fill="#808080" text-anchor="middle" textLength="39.5" lengthAdjust="spacingAndGlyphs">1,000</text>
<line x1="1895.5" y1="2471.1" x2="1895.5" y2="2478.9" stroke="#000" stroke-width="4"/>
<text x="1895.5" y="2495.4" font-size="16.5" fill="#808080" text-anchor="middle" textLength="39.5" lengthAdjust="spacingAndGlyphs">1,200</text>
<line x1="2018.3" y1="2471.1" x2="2018.3" y2="2478.9" stroke="#000" stroke-width="4"/>
<text x="2018.3" y="2495.4" font-size="16.5" fill="#808080" text-anchor="middle" textLength="39.5" lengthAdjust="spacingAndGlyphs">1,400</text>
<line x1="2141" y1="2471.1" x2="2141" y2="2478.9" stroke="#000" stroke-width="4"/>
<text x="2141" y="2495.4" font-size="16.5" fill="#808080" text-anchor="middle" textLength="39.5" lengthAdjust="spacingAndGlyphs">1,600</text>
<line x1="2142.2" y1="2471.1" x2="2142.2" y2="2478.6" stroke="#000" stroke-width="7"/>
<text transform="translate(1146.5 2213) rotate(-90)" font-size="21.6" font-weight="bold" text-anchor="middle" textLength="281" lengthAdjust="spacingAndGlyphs" stroke="#000" stroke-width="1.1" fill="#000">Relative Abundance (%)</text>
<text x="1625.7" y="2520" font-size="24" font-weight="bold" font-style="italic" textLength="42" lengthAdjust="spacingAndGlyphs" stroke="#000" stroke-width="1.2">m/z</text>
<text x="1496.8" y="2460.3" font-size="21" fill="#000">[M+2H]<tspan font-size="12" font-weight="bold" dy="-9">+2</tspan></text>
<text x="1511" y="2460.5" font-size="19" fill="#000" stroke="#000" stroke-width="0.5">z•<tspan font-size="11.5" font-weight="bold" dy="3">6</tspan></text>
<text x="1580" y="2437.8" font-size="19" fill="#000" stroke="#000" stroke-width="0.5">z•<tspan font-size="11.5" font-weight="bold" dy="3">7</tspan></text>
<text x="1599.7" y="2454.5" font-size="19" fill="#000" stroke="#000" stroke-width="0.5">c<tspan font-size="11.5" font-weight="bold" dy="3">7</tspan></text>
<text x="1737" y="2450.5" font-size="19" fill="#000" stroke="#000" stroke-width="0.5">y<tspan font-size="11.5" font-weight="bold" dy="3">9</tspan></text>
<text x="1756" y="2438.5" font-size="19" fill="#000" stroke="#000" stroke-width="0.5">c<tspan font-size="11.5" font-weight="bold" dy="3">10</tspan></text>
<text x="1825" y="2419.5" font-size="19" fill="#000" stroke="#000" stroke-width="0.5">c<tspan font-size="11.5" font-weight="bold" dy="3">11</tspan></text>
<text x="1856" y="2454.5" font-size="19" fill="#000" stroke="#000" stroke-width="0.5">z•<tspan font-size="11.5" font-weight="bold" dy="3">11</tspan></text>
<text x="1893.5" y="2331.5" font-size="21" fill="#000" textLength="69" lengthAdjust="spacingAndGlyphs">[M+2H]</text>
<line x1="1203.8" y1="2621.2" x2="2144.4" y2="2621.2" stroke="#dddddd" stroke-width="1"/>
<line x1="1203.8" y1="2621.2" x2="1257.4" y2="2621.2" stroke="#a7a9ab" stroke-width="5"/>
<line x1="1284.3" y1="2621.2" x2="1337.9" y2="2621.2" stroke="#a7a9ab" stroke-width="5"/>
<line x1="1364.9" y1="2621.2" x2="1418.5" y2="2621.2" stroke="#a7a9ab" stroke-width="5"/>
<line x1="1445.4" y1="2621.2" x2="1499" y2="2621.2" stroke="#a7a9ab" stroke-width="5"/>
<line x1="1526" y1="2621.2" x2="1579.6" y2="2621.2" stroke="#a7a9ab" stroke-width="5"/>
<line x1="1606.5" y1="2621.2" x2="1660.1" y2="2621.2" stroke="#a7a9ab" stroke-width="5"/>
<line x1="1687.1" y1="2621.2" x2="1740.7" y2="2621.2" stroke="#a7a9ab" stroke-width="5"/>
<line x1="1767.6" y1="2621.2" x2="1821.2" y2="2621.2" stroke="#a7a9ab" stroke-width="5"/>
<line x1="1848.2" y1="2621.2" x2="1901.8" y2="2621.2" stroke="#a7a9ab" stroke-width="5"/>
<line x1="1928.7" y1="2621.2" x2="1982.3" y2="2621.2" stroke="#a7a9ab" stroke-width="5"/>
<line x1="2009.3" y1="2621.2" x2="2062.9" y2="2621.2" stroke="#a7a9ab" stroke-width="5"/>
<line x1="2089.8" y1="2621.2" x2="2142.4" y2="2621.2" stroke="#a7a9ab" stroke-width="5"/>
<circle cx="1527.8" cy="2661" r="5.6" fill="#f0932f"/>
<circle cx="1543.5" cy="2645.7" r="5.6" fill="#6d6e70"/>
<circle cx="1598.2" cy="2661" r="5.6" fill="#f0932f"/>
<circle cx="1613.6" cy="2635.9" r="5.6" fill="#12a04c"/>
<circle cx="1751.9" cy="2661.7" r="5.6" fill="#c5233f"/>
<circle cx="1778.9" cy="2643.9" r="5.6" fill="#12a04c"/>
<circle cx="1848.3" cy="2637.8" r="5.6" fill="#12a04c"/>
<circle cx="1882.5" cy="2665.9" r="5.6" fill="#f0932f"/>
<circle cx="1928" cy="2670.2" r="5.6" fill="#6d6e70"/>
<line x1="1195.4" y1="2554.4" x2="2146.7" y2="2554.4" stroke="#000" stroke-width="4.3"/>
<line x1="1195.4" y1="2687.8" x2="2146.7" y2="2687.8" stroke="#000" stroke-width="4.3"/>
<line x1="1203.8" y1="2546" x2="1203.8" y2="2687.8" stroke="#000" stroke-width="4.6"/>
<line x1="2144.4" y1="2546" x2="2144.4" y2="2687.8" stroke="#000" stroke-width="4.6"/>
<line x1="1195.4" y1="2559.9" x2="1203.8" y2="2559.9" stroke="#000" stroke-width="3.8"/>
<text x="1190.8" y="2565.2" font-size="16.5" fill="#808080" text-anchor="end" textLength="16" lengthAdjust="spacingAndGlyphs">10</text>
<line x1="1195.4" y1="2590.5" x2="1203.8" y2="2590.5" stroke="#000" stroke-width="3.8"/>
<text x="1190.8" y="2595.8" font-size="16.5" fill="#808080" text-anchor="end" textLength="10" lengthAdjust="spacingAndGlyphs">5</text>
<line x1="1195.4" y1="2621.2" x2="1203.8" y2="2621.2" stroke="#000" stroke-width="3.8"/>
<text x="1190.8" y="2626.5" font-size="16.5" fill="#808080" text-anchor="end" textLength="10" lengthAdjust="spacingAndGlyphs">0</text>
<line x1="1195.4" y1="2651.8" x2="1203.8" y2="2651.8" stroke="#000" stroke-width="3.8"/>
<text x="1190.8" y="2657.2" font-size="16.5" fill="#808080" text-anchor="end" textLength="16.5" lengthAdjust="spacingAndGlyphs">-5</text>
<line x1="1195.4" y1="2682.5" x2="1203.8" y2="2682.5" stroke="#000" stroke-width="3.8"/>
<text x="1190.8" y="2687.8" font-size="16.5" fill="#808080" text-anchor="end" textLength="22.5" lengthAdjust="spacingAndGlyphs">-10</text>
<line x1="1281.7" y1="2546" x2="1281.7" y2="2554.4" stroke="#000" stroke-width="3.8"/>
<text x="1281.7" y="2542.3" font-size="16.5" fill="#808080" text-anchor="middle" textLength="30" lengthAdjust="spacingAndGlyphs">200</text>
<line x1="1404.5" y1="2546" x2="1404.5" y2="2554.4" stroke="#000" stroke-width="3.8"/>
<text x="1404.5" y="2542.3" font-size="16.5" fill="#808080" text-anchor="middle" textLength="30" lengthAdjust="spacingAndGlyphs">400</text>
<line x1="1527.2" y1="2546" x2="1527.2" y2="2554.4" stroke="#000" stroke-width="3.8"/>
<text x="1527.2" y="2542.3" font-size="16.5" fill="#808080" text-anchor="middle" textLength="30" lengthAdjust="spacingAndGlyphs">600</text>
<line x1="1650" y1="2546" x2="1650" y2="2554.4" stroke="#000" stroke-width="3.8"/>
<text x="1650" y="2542.3" font-size="16.5" fill="#808080" text-anchor="middle" textLength="30" lengthAdjust="spacingAndGlyphs">800</text>
<line x1="1772.7" y1="2546" x2="1772.7" y2="2554.4" stroke="#000" stroke-width="3.8"/>
<text x="1772.7" y="2542.3" font-size="16.5" fill="#808080" text-anchor="middle" textLength="39.5" lengthAdjust="spacingAndGlyphs">1,000</text>
<line x1="1895.5" y1="2546" x2="1895.5" y2="2554.4" stroke="#000" stroke-width="3.8"/>
<text x="1895.5" y="2542.3" font-size="16.5" fill="#808080" text-anchor="middle" textLength="39.5" lengthAdjust="spacingAndGlyphs">1,200</text>
<line x1="2018.3" y1="2546" x2="2018.3" y2="2554.4" stroke="#000" stroke-width="3.8"/>
<text x="2018.3" y="2542.3" font-size="16.5" fill="#808080" text-anchor="middle" textLength="39.5" lengthAdjust="spacingAndGlyphs">1,400</text>
<line x1="2141" y1="2546" x2="2141" y2="2554.4" stroke="#000" stroke-width="3.8"/>
<text x="2141" y="2542.3" font-size="16.5" fill="#808080" text-anchor="middle" textLength="39.5" lengthAdjust="spacingAndGlyphs">1,600</text>
<text transform="translate(1145 2621.5) rotate(-90)" font-size="21.6" font-weight="bold" text-anchor="middle" textLength="131" lengthAdjust="spacingAndGlyphs" stroke="#000" stroke-width="1.1" fill="#000">Error (ppm)</text></svg></body></html>
